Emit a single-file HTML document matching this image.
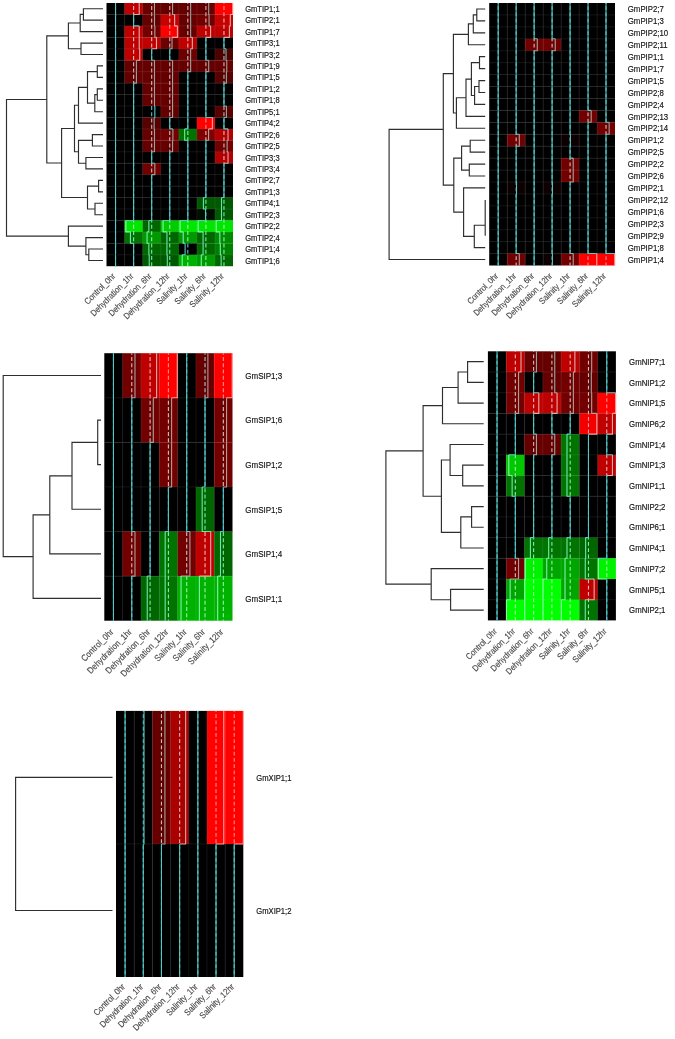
<!DOCTYPE html>
<html><head><meta charset="utf-8"><title>Aquaporin expression heatmaps</title>
<style>
html,body{margin:0;padding:0;background:#fff;}
body{width:675px;height:1039px;overflow:hidden;}
svg{display:block;}
.rl{font-family:"Liberation Sans",sans-serif;fill:#161616;stroke:#161616;stroke-width:0.18px;}
.cl{font-family:"Liberation Sans",sans-serif;fill:#454545;stroke:#454545;stroke-width:0.12px;text-anchor:end;}
</style></head>
<body>
<svg width="675" height="1039" viewBox="0 0 675 1039" style="filter:blur(0.3px)">
<rect width="675" height="1039" fill="#fff"/>
<rect x="106.5" y="3" width="18.37" height="11.74" fill="rgb(0,0,0)"/>
<rect x="124.57" y="3" width="18.37" height="11.74" fill="rgb(191,0,0)"/>
<rect x="142.64" y="3" width="18.37" height="11.74" fill="rgb(102,0,0)"/>
<rect x="160.71" y="3" width="18.37" height="11.74" fill="rgb(102,0,0)"/>
<rect x="178.79" y="3" width="18.37" height="11.74" fill="rgb(102,0,0)"/>
<rect x="196.86" y="3" width="18.37" height="11.74" fill="rgb(102,0,0)"/>
<rect x="214.93" y="3" width="18.07" height="11.74" fill="rgb(255,0,0)"/>
<rect x="106.5" y="14.44" width="18.37" height="11.74" fill="rgb(0,0,0)"/>
<rect x="124.57" y="14.44" width="18.37" height="11.74" fill="rgb(0,0,0)"/>
<rect x="142.64" y="14.44" width="18.37" height="11.74" fill="rgb(102,0,0)"/>
<rect x="160.71" y="14.44" width="18.37" height="11.74" fill="rgb(199,0,0)"/>
<rect x="178.79" y="14.44" width="18.37" height="11.74" fill="rgb(102,0,0)"/>
<rect x="196.86" y="14.44" width="18.37" height="11.74" fill="rgb(115,0,0)"/>
<rect x="214.93" y="14.44" width="18.07" height="11.74" fill="rgb(199,0,0)"/>
<rect x="106.5" y="25.89" width="18.37" height="11.74" fill="rgb(0,0,0)"/>
<rect x="124.57" y="25.89" width="18.37" height="11.74" fill="rgb(191,0,0)"/>
<rect x="142.64" y="25.89" width="18.37" height="11.74" fill="rgb(115,0,0)"/>
<rect x="160.71" y="25.89" width="18.37" height="11.74" fill="rgb(255,0,0)"/>
<rect x="178.79" y="25.89" width="18.37" height="11.74" fill="rgb(102,0,0)"/>
<rect x="196.86" y="25.89" width="18.37" height="11.74" fill="rgb(191,0,0)"/>
<rect x="214.93" y="25.89" width="18.07" height="11.74" fill="rgb(191,0,0)"/>
<rect x="106.5" y="37.33" width="18.37" height="11.74" fill="rgb(0,0,0)"/>
<rect x="124.57" y="37.33" width="18.37" height="11.74" fill="rgb(191,0,0)"/>
<rect x="142.64" y="37.33" width="18.37" height="11.74" fill="rgb(191,0,0)"/>
<rect x="160.71" y="37.33" width="18.37" height="11.74" fill="rgb(107,0,0)"/>
<rect x="178.79" y="37.33" width="18.37" height="11.74" fill="rgb(191,0,0)"/>
<rect x="196.86" y="37.33" width="18.37" height="11.74" fill="rgb(0,0,0)"/>
<rect x="214.93" y="37.33" width="18.07" height="11.74" fill="rgb(0,0,0)"/>
<rect x="106.5" y="48.77" width="18.37" height="11.74" fill="rgb(0,0,0)"/>
<rect x="124.57" y="48.77" width="18.37" height="11.74" fill="rgb(191,0,0)"/>
<rect x="142.64" y="48.77" width="18.37" height="11.74" fill="rgb(0,0,0)"/>
<rect x="160.71" y="48.77" width="18.37" height="11.74" fill="rgb(0,0,0)"/>
<rect x="178.79" y="48.77" width="18.37" height="11.74" fill="rgb(107,0,0)"/>
<rect x="196.86" y="48.77" width="18.37" height="11.74" fill="rgb(0,0,0)"/>
<rect x="214.93" y="48.77" width="18.07" height="11.74" fill="rgb(76,0,0)"/>
<rect x="106.5" y="60.22" width="18.37" height="11.74" fill="rgb(0,0,0)"/>
<rect x="124.57" y="60.22" width="18.37" height="11.74" fill="rgb(102,0,0)"/>
<rect x="142.64" y="60.22" width="18.37" height="11.74" fill="rgb(102,0,0)"/>
<rect x="160.71" y="60.22" width="18.37" height="11.74" fill="rgb(102,0,0)"/>
<rect x="178.79" y="60.22" width="18.37" height="11.74" fill="rgb(102,0,0)"/>
<rect x="196.86" y="60.22" width="18.37" height="11.74" fill="rgb(102,0,0)"/>
<rect x="214.93" y="60.22" width="18.07" height="11.74" fill="rgb(102,0,0)"/>
<rect x="106.5" y="71.66" width="18.37" height="11.74" fill="rgb(0,0,0)"/>
<rect x="124.57" y="71.66" width="18.37" height="11.74" fill="rgb(102,0,0)"/>
<rect x="142.64" y="71.66" width="18.37" height="11.74" fill="rgb(102,0,0)"/>
<rect x="160.71" y="71.66" width="18.37" height="11.74" fill="rgb(102,0,0)"/>
<rect x="178.79" y="71.66" width="18.37" height="11.74" fill="rgb(0,0,0)"/>
<rect x="196.86" y="71.66" width="18.37" height="11.74" fill="rgb(0,0,0)"/>
<rect x="214.93" y="71.66" width="18.07" height="11.74" fill="rgb(89,0,0)"/>
<rect x="106.5" y="83.1" width="18.37" height="11.74" fill="rgb(0,0,0)"/>
<rect x="124.57" y="83.1" width="18.37" height="11.74" fill="rgb(0,0,0)"/>
<rect x="142.64" y="83.1" width="18.37" height="11.74" fill="rgb(102,0,0)"/>
<rect x="160.71" y="83.1" width="18.37" height="11.74" fill="rgb(102,0,0)"/>
<rect x="178.79" y="83.1" width="18.37" height="11.74" fill="rgb(0,0,0)"/>
<rect x="196.86" y="83.1" width="18.37" height="11.74" fill="rgb(0,0,0)"/>
<rect x="214.93" y="83.1" width="18.07" height="11.74" fill="rgb(0,0,0)"/>
<rect x="106.5" y="94.55" width="18.37" height="11.74" fill="rgb(0,0,0)"/>
<rect x="124.57" y="94.55" width="18.37" height="11.74" fill="rgb(0,0,0)"/>
<rect x="142.64" y="94.55" width="18.37" height="11.74" fill="rgb(102,0,0)"/>
<rect x="160.71" y="94.55" width="18.37" height="11.74" fill="rgb(102,0,0)"/>
<rect x="178.79" y="94.55" width="18.37" height="11.74" fill="rgb(0,0,0)"/>
<rect x="196.86" y="94.55" width="18.37" height="11.74" fill="rgb(0,0,0)"/>
<rect x="214.93" y="94.55" width="18.07" height="11.74" fill="rgb(0,0,0)"/>
<rect x="106.5" y="105.99" width="18.37" height="11.74" fill="rgb(0,0,0)"/>
<rect x="124.57" y="105.99" width="18.37" height="11.74" fill="rgb(0,0,0)"/>
<rect x="142.64" y="105.99" width="18.37" height="11.74" fill="rgb(0,0,0)"/>
<rect x="160.71" y="105.99" width="18.37" height="11.74" fill="rgb(102,0,0)"/>
<rect x="178.79" y="105.99" width="18.37" height="11.74" fill="rgb(0,0,0)"/>
<rect x="196.86" y="105.99" width="18.37" height="11.74" fill="rgb(0,0,0)"/>
<rect x="214.93" y="105.99" width="18.07" height="11.74" fill="rgb(89,0,0)"/>
<rect x="106.5" y="117.43" width="18.37" height="11.74" fill="rgb(0,0,0)"/>
<rect x="124.57" y="117.43" width="18.37" height="11.74" fill="rgb(0,0,0)"/>
<rect x="142.64" y="117.43" width="18.37" height="11.74" fill="rgb(89,0,0)"/>
<rect x="160.71" y="117.43" width="18.37" height="11.74" fill="rgb(0,0,0)"/>
<rect x="178.79" y="117.43" width="18.37" height="11.74" fill="rgb(0,0,0)"/>
<rect x="196.86" y="117.43" width="18.37" height="11.74" fill="rgb(255,0,0)"/>
<rect x="214.93" y="117.43" width="18.07" height="11.74" fill="rgb(0,0,0)"/>
<rect x="106.5" y="128.88" width="18.37" height="11.74" fill="rgb(0,0,0)"/>
<rect x="124.57" y="128.88" width="18.37" height="11.74" fill="rgb(0,0,0)"/>
<rect x="142.64" y="128.88" width="18.37" height="11.74" fill="rgb(102,0,0)"/>
<rect x="160.71" y="128.88" width="18.37" height="11.74" fill="rgb(115,0,0)"/>
<rect x="178.79" y="128.88" width="18.37" height="11.74" fill="rgb(0,115,0)"/>
<rect x="196.86" y="128.88" width="18.37" height="11.74" fill="rgb(128,0,0)"/>
<rect x="214.93" y="128.88" width="18.07" height="11.74" fill="rgb(178,0,0)"/>
<rect x="106.5" y="140.32" width="18.37" height="11.74" fill="rgb(0,0,0)"/>
<rect x="124.57" y="140.32" width="18.37" height="11.74" fill="rgb(0,0,0)"/>
<rect x="142.64" y="140.32" width="18.37" height="11.74" fill="rgb(102,0,0)"/>
<rect x="160.71" y="140.32" width="18.37" height="11.74" fill="rgb(102,0,0)"/>
<rect x="178.79" y="140.32" width="18.37" height="11.74" fill="rgb(0,0,0)"/>
<rect x="196.86" y="140.32" width="18.37" height="11.74" fill="rgb(0,0,0)"/>
<rect x="214.93" y="140.32" width="18.07" height="11.74" fill="rgb(115,0,0)"/>
<rect x="106.5" y="151.77" width="18.37" height="11.74" fill="rgb(0,0,0)"/>
<rect x="124.57" y="151.77" width="18.37" height="11.74" fill="rgb(0,0,0)"/>
<rect x="142.64" y="151.77" width="18.37" height="11.74" fill="rgb(0,0,0)"/>
<rect x="160.71" y="151.77" width="18.37" height="11.74" fill="rgb(0,0,0)"/>
<rect x="178.79" y="151.77" width="18.37" height="11.74" fill="rgb(0,0,0)"/>
<rect x="196.86" y="151.77" width="18.37" height="11.74" fill="rgb(0,0,0)"/>
<rect x="214.93" y="151.77" width="18.07" height="11.74" fill="rgb(178,0,0)"/>
<rect x="106.5" y="163.21" width="18.37" height="11.74" fill="rgb(0,0,0)"/>
<rect x="124.57" y="163.21" width="18.37" height="11.74" fill="rgb(0,0,0)"/>
<rect x="142.64" y="163.21" width="18.37" height="11.74" fill="rgb(115,0,0)"/>
<rect x="160.71" y="163.21" width="18.37" height="11.74" fill="rgb(0,0,0)"/>
<rect x="178.79" y="163.21" width="18.37" height="11.74" fill="rgb(0,0,0)"/>
<rect x="196.86" y="163.21" width="18.37" height="11.74" fill="rgb(0,0,0)"/>
<rect x="214.93" y="163.21" width="18.07" height="11.74" fill="rgb(0,0,0)"/>
<rect x="106.5" y="174.65" width="18.37" height="11.74" fill="rgb(0,0,0)"/>
<rect x="124.57" y="174.65" width="18.37" height="11.74" fill="rgb(0,0,0)"/>
<rect x="142.64" y="174.65" width="18.37" height="11.74" fill="rgb(0,0,0)"/>
<rect x="160.71" y="174.65" width="18.37" height="11.74" fill="rgb(0,0,0)"/>
<rect x="178.79" y="174.65" width="18.37" height="11.74" fill="rgb(0,0,0)"/>
<rect x="196.86" y="174.65" width="18.37" height="11.74" fill="rgb(0,0,0)"/>
<rect x="214.93" y="174.65" width="18.07" height="11.74" fill="rgb(0,0,0)"/>
<rect x="106.5" y="186.1" width="18.37" height="11.74" fill="rgb(0,0,0)"/>
<rect x="124.57" y="186.1" width="18.37" height="11.74" fill="rgb(0,0,0)"/>
<rect x="142.64" y="186.1" width="18.37" height="11.74" fill="rgb(0,0,0)"/>
<rect x="160.71" y="186.1" width="18.37" height="11.74" fill="rgb(0,0,0)"/>
<rect x="178.79" y="186.1" width="18.37" height="11.74" fill="rgb(0,0,0)"/>
<rect x="196.86" y="186.1" width="18.37" height="11.74" fill="rgb(0,0,0)"/>
<rect x="214.93" y="186.1" width="18.07" height="11.74" fill="rgb(0,0,0)"/>
<rect x="106.5" y="197.54" width="18.37" height="11.74" fill="rgb(0,0,0)"/>
<rect x="124.57" y="197.54" width="18.37" height="11.74" fill="rgb(0,0,0)"/>
<rect x="142.64" y="197.54" width="18.37" height="11.74" fill="rgb(0,0,0)"/>
<rect x="160.71" y="197.54" width="18.37" height="11.74" fill="rgb(0,0,0)"/>
<rect x="178.79" y="197.54" width="18.37" height="11.74" fill="rgb(0,0,0)"/>
<rect x="196.86" y="197.54" width="18.37" height="11.74" fill="rgb(0,89,0)"/>
<rect x="214.93" y="197.54" width="18.07" height="11.74" fill="rgb(0,89,0)"/>
<rect x="106.5" y="208.98" width="18.37" height="11.74" fill="rgb(0,0,0)"/>
<rect x="124.57" y="208.98" width="18.37" height="11.74" fill="rgb(0,0,0)"/>
<rect x="142.64" y="208.98" width="18.37" height="11.74" fill="rgb(0,0,0)"/>
<rect x="160.71" y="208.98" width="18.37" height="11.74" fill="rgb(0,0,0)"/>
<rect x="178.79" y="208.98" width="18.37" height="11.74" fill="rgb(0,0,0)"/>
<rect x="196.86" y="208.98" width="18.37" height="11.74" fill="rgb(0,13,0)"/>
<rect x="214.93" y="208.98" width="18.07" height="11.74" fill="rgb(0,89,0)"/>
<rect x="106.5" y="220.43" width="18.37" height="11.74" fill="rgb(0,0,0)"/>
<rect x="124.57" y="220.43" width="18.37" height="11.74" fill="rgb(0,230,0)"/>
<rect x="142.64" y="220.43" width="18.37" height="11.74" fill="rgb(0,102,0)"/>
<rect x="160.71" y="220.43" width="18.37" height="11.74" fill="rgb(0,204,0)"/>
<rect x="178.79" y="220.43" width="18.37" height="11.74" fill="rgb(0,230,0)"/>
<rect x="196.86" y="220.43" width="18.37" height="11.74" fill="rgb(0,230,0)"/>
<rect x="214.93" y="220.43" width="18.07" height="11.74" fill="rgb(0,230,0)"/>
<rect x="106.5" y="231.87" width="18.37" height="11.74" fill="rgb(0,0,0)"/>
<rect x="124.57" y="231.87" width="18.37" height="11.74" fill="rgb(0,115,0)"/>
<rect x="142.64" y="231.87" width="18.37" height="11.74" fill="rgb(0,153,0)"/>
<rect x="160.71" y="231.87" width="18.37" height="11.74" fill="rgb(0,102,0)"/>
<rect x="178.79" y="231.87" width="18.37" height="11.74" fill="rgb(0,153,0)"/>
<rect x="196.86" y="231.87" width="18.37" height="11.74" fill="rgb(0,102,0)"/>
<rect x="214.93" y="231.87" width="18.07" height="11.74" fill="rgb(0,140,0)"/>
<rect x="106.5" y="243.31" width="18.37" height="11.74" fill="rgb(0,0,0)"/>
<rect x="124.57" y="243.31" width="18.37" height="11.74" fill="rgb(0,0,0)"/>
<rect x="142.64" y="243.31" width="18.37" height="11.74" fill="rgb(0,102,0)"/>
<rect x="160.71" y="243.31" width="18.37" height="11.74" fill="rgb(0,102,0)"/>
<rect x="178.79" y="243.31" width="18.37" height="11.74" fill="rgb(0,0,0)"/>
<rect x="196.86" y="243.31" width="18.37" height="11.74" fill="rgb(0,102,0)"/>
<rect x="214.93" y="243.31" width="18.07" height="11.74" fill="rgb(0,128,0)"/>
<rect x="106.5" y="254.76" width="18.37" height="11.44" fill="rgb(0,0,0)"/>
<rect x="124.57" y="254.76" width="18.37" height="11.44" fill="rgb(0,0,0)"/>
<rect x="142.64" y="254.76" width="18.37" height="11.44" fill="rgb(0,89,0)"/>
<rect x="160.71" y="254.76" width="18.37" height="11.44" fill="rgb(0,89,0)"/>
<rect x="178.79" y="254.76" width="18.37" height="11.44" fill="rgb(0,178,0)"/>
<rect x="196.86" y="254.76" width="18.37" height="11.44" fill="rgb(0,153,0)"/>
<rect x="214.93" y="254.76" width="18.07" height="11.44" fill="rgb(0,102,0)"/>
<path d="M124.57 3V266.2M142.64 3V266.2M160.71 3V266.2M178.79 3V266.2M196.86 3V266.2M214.93 3V266.2M106.5 14.44H233M106.5 25.89H233M106.5 37.33H233M106.5 48.77H233M106.5 60.22H233M106.5 71.66H233M106.5 83.1H233M106.5 94.55H233M106.5 105.99H233M106.5 117.43H233M106.5 128.88H233M106.5 140.32H233M106.5 151.77H233M106.5 163.21H233M106.5 174.65H233M106.5 186.1H233M106.5 197.54H233M106.5 208.98H233M106.5 220.43H233M106.5 231.87H233M106.5 243.31H233M106.5 254.76H233" stroke="rgba(255,255,255,0.1)" stroke-width="0.8" fill="none"/>
<line x1="115.54" y1="3" x2="115.54" y2="14.44" stroke="rgb(80,195,195)" stroke-width="1.1" stroke-dasharray="3.8 2.45" stroke-dashoffset="3.15"/>
<line x1="115.54" y1="14.44" x2="115.54" y2="25.89" stroke="rgb(80,195,195)" stroke-width="1.1" stroke-dasharray="3.8 2.45" stroke-dashoffset="2.09"/>
<line x1="115.54" y1="25.89" x2="115.54" y2="37.33" stroke="rgb(80,195,195)" stroke-width="1.1" stroke-dasharray="3.8 2.45" stroke-dashoffset="1.04"/>
<line x1="115.54" y1="37.33" x2="115.54" y2="48.77" stroke="rgb(80,195,195)" stroke-width="1.1" stroke-dasharray="3.8 2.45" stroke-dashoffset="6.23"/>
<line x1="115.54" y1="48.77" x2="115.54" y2="60.22" stroke="rgb(80,195,195)" stroke-width="1.1" stroke-dasharray="3.8 2.45" stroke-dashoffset="5.17"/>
<line x1="115.54" y1="60.22" x2="115.54" y2="71.66" stroke="rgb(80,195,195)" stroke-width="1.1" stroke-dasharray="3.8 2.45" stroke-dashoffset="4.12"/>
<line x1="115.54" y1="71.66" x2="115.54" y2="83.1" stroke="rgb(80,195,195)" stroke-width="1.1" stroke-dasharray="3.8 2.45" stroke-dashoffset="3.06"/>
<line x1="115.54" y1="83.1" x2="115.54" y2="94.55" stroke="rgb(80,195,195)" stroke-width="1.1" stroke-dasharray="3.8 2.45" stroke-dashoffset="2"/>
<line x1="115.54" y1="94.55" x2="115.54" y2="105.99" stroke="rgb(80,195,195)" stroke-width="1.1" stroke-dasharray="3.8 2.45" stroke-dashoffset="0.95"/>
<line x1="115.54" y1="105.99" x2="115.54" y2="117.43" stroke="rgb(80,195,195)" stroke-width="1.1" stroke-dasharray="3.8 2.45" stroke-dashoffset="6.14"/>
<line x1="115.54" y1="117.43" x2="115.54" y2="128.88" stroke="rgb(80,195,195)" stroke-width="1.1" stroke-dasharray="3.8 2.45" stroke-dashoffset="5.08"/>
<line x1="115.54" y1="128.88" x2="115.54" y2="140.32" stroke="rgb(80,195,195)" stroke-width="1.1" stroke-dasharray="3.8 2.45" stroke-dashoffset="4.03"/>
<line x1="115.54" y1="140.32" x2="115.54" y2="151.77" stroke="rgb(80,195,195)" stroke-width="1.1" stroke-dasharray="3.8 2.45" stroke-dashoffset="2.97"/>
<line x1="115.54" y1="151.77" x2="115.54" y2="163.21" stroke="rgb(80,195,195)" stroke-width="1.1" stroke-dasharray="3.8 2.45" stroke-dashoffset="1.92"/>
<line x1="115.54" y1="163.21" x2="115.54" y2="174.65" stroke="rgb(80,195,195)" stroke-width="1.1" stroke-dasharray="3.8 2.45" stroke-dashoffset="0.86"/>
<line x1="115.54" y1="174.65" x2="115.54" y2="186.1" stroke="rgb(80,195,195)" stroke-width="1.1" stroke-dasharray="3.8 2.45" stroke-dashoffset="6.05"/>
<line x1="115.54" y1="186.1" x2="115.54" y2="197.54" stroke="rgb(80,195,195)" stroke-width="1.1" stroke-dasharray="3.8 2.45" stroke-dashoffset="5"/>
<line x1="115.54" y1="197.54" x2="115.54" y2="208.98" stroke="rgb(80,195,195)" stroke-width="1.1" stroke-dasharray="3.8 2.45" stroke-dashoffset="3.94"/>
<line x1="115.54" y1="208.98" x2="115.54" y2="220.43" stroke="rgb(80,195,195)" stroke-width="1.1" stroke-dasharray="3.8 2.45" stroke-dashoffset="2.88"/>
<line x1="115.54" y1="220.43" x2="115.54" y2="231.87" stroke="rgb(80,195,195)" stroke-width="1.1" stroke-dasharray="3.8 2.45" stroke-dashoffset="1.83"/>
<line x1="115.54" y1="231.87" x2="115.54" y2="243.31" stroke="rgb(80,195,195)" stroke-width="1.1" stroke-dasharray="3.8 2.45" stroke-dashoffset="0.77"/>
<line x1="115.54" y1="243.31" x2="115.54" y2="254.76" stroke="rgb(80,195,195)" stroke-width="1.1" stroke-dasharray="3.8 2.45" stroke-dashoffset="5.96"/>
<line x1="115.54" y1="254.76" x2="115.54" y2="266.2" stroke="rgb(80,195,195)" stroke-width="1.1" stroke-dasharray="3.8 2.45" stroke-dashoffset="4.91"/>
<path d="M115.54 3V14.44H115.54" stroke="rgb(85,200,200)" stroke-width="1.1" fill="none"/>
<path d="M115.54 14.44V25.89H115.54" stroke="rgb(85,200,200)" stroke-width="1.1" fill="none"/>
<path d="M115.54 25.89V37.33H115.54" stroke="rgb(85,200,200)" stroke-width="1.1" fill="none"/>
<path d="M115.54 37.33V48.77H115.54" stroke="rgb(85,200,200)" stroke-width="1.1" fill="none"/>
<path d="M115.54 48.77V60.22H115.54" stroke="rgb(85,200,200)" stroke-width="1.1" fill="none"/>
<path d="M115.54 60.22V71.66H115.54" stroke="rgb(85,200,200)" stroke-width="1.1" fill="none"/>
<path d="M115.54 71.66V83.1H115.54" stroke="rgb(85,200,200)" stroke-width="1.1" fill="none"/>
<path d="M115.54 83.1V94.55H115.54" stroke="rgb(85,200,200)" stroke-width="1.1" fill="none"/>
<path d="M115.54 94.55V105.99H115.54" stroke="rgb(85,200,200)" stroke-width="1.1" fill="none"/>
<path d="M115.54 105.99V117.43H115.54" stroke="rgb(85,200,200)" stroke-width="1.1" fill="none"/>
<path d="M115.54 117.43V128.88H115.54" stroke="rgb(85,200,200)" stroke-width="1.1" fill="none"/>
<path d="M115.54 128.88V140.32H115.54" stroke="rgb(85,200,200)" stroke-width="1.1" fill="none"/>
<path d="M115.54 140.32V151.77H115.54" stroke="rgb(85,200,200)" stroke-width="1.1" fill="none"/>
<path d="M115.54 151.77V163.21H115.54" stroke="rgb(85,200,200)" stroke-width="1.1" fill="none"/>
<path d="M115.54 163.21V174.65H115.54" stroke="rgb(85,200,200)" stroke-width="1.1" fill="none"/>
<path d="M115.54 174.65V186.1H115.54" stroke="rgb(85,200,200)" stroke-width="1.1" fill="none"/>
<path d="M115.54 186.1V197.54H115.54" stroke="rgb(85,200,200)" stroke-width="1.1" fill="none"/>
<path d="M115.54 197.54V208.98H115.54" stroke="rgb(85,200,200)" stroke-width="1.1" fill="none"/>
<path d="M115.54 208.98V220.43H115.54" stroke="rgb(85,200,200)" stroke-width="1.1" fill="none"/>
<path d="M115.54 220.43V231.87H115.54" stroke="rgb(85,200,200)" stroke-width="1.1" fill="none"/>
<path d="M115.54 231.87V243.31H115.54" stroke="rgb(85,200,200)" stroke-width="1.1" fill="none"/>
<path d="M115.54 243.31V254.76H115.54" stroke="rgb(85,200,200)" stroke-width="1.1" fill="none"/>
<path d="M115.54 254.76V266.2" stroke="rgb(85,200,200)" stroke-width="1.1" fill="none"/>
<line x1="133.61" y1="3" x2="133.61" y2="14.44" stroke="rgb(238,182,182)" stroke-width="1.1" stroke-dasharray="3.8 2.45" stroke-dashoffset="3.15"/>
<line x1="133.61" y1="14.44" x2="133.61" y2="25.89" stroke="rgb(80,195,195)" stroke-width="1.1" stroke-dasharray="3.8 2.45" stroke-dashoffset="2.09"/>
<line x1="133.61" y1="25.89" x2="133.61" y2="37.33" stroke="rgb(238,182,182)" stroke-width="1.1" stroke-dasharray="3.8 2.45" stroke-dashoffset="1.04"/>
<line x1="133.61" y1="37.33" x2="133.61" y2="48.77" stroke="rgb(238,182,182)" stroke-width="1.1" stroke-dasharray="3.8 2.45" stroke-dashoffset="6.23"/>
<line x1="133.61" y1="48.77" x2="133.61" y2="60.22" stroke="rgb(238,182,182)" stroke-width="1.1" stroke-dasharray="3.8 2.45" stroke-dashoffset="5.17"/>
<line x1="133.61" y1="60.22" x2="133.61" y2="71.66" stroke="rgb(185,193,188)" stroke-width="1.1" stroke-dasharray="3.8 2.45" stroke-dashoffset="4.12"/>
<line x1="133.61" y1="71.66" x2="133.61" y2="83.1" stroke="rgb(185,193,188)" stroke-width="1.1" stroke-dasharray="3.8 2.45" stroke-dashoffset="3.06"/>
<line x1="133.61" y1="83.1" x2="133.61" y2="94.55" stroke="rgb(80,195,195)" stroke-width="1.1" stroke-dasharray="3.8 2.45" stroke-dashoffset="2"/>
<line x1="133.61" y1="94.55" x2="133.61" y2="105.99" stroke="rgb(80,195,195)" stroke-width="1.1" stroke-dasharray="3.8 2.45" stroke-dashoffset="0.95"/>
<line x1="133.61" y1="105.99" x2="133.61" y2="117.43" stroke="rgb(80,195,195)" stroke-width="1.1" stroke-dasharray="3.8 2.45" stroke-dashoffset="6.14"/>
<line x1="133.61" y1="117.43" x2="133.61" y2="128.88" stroke="rgb(80,195,195)" stroke-width="1.1" stroke-dasharray="3.8 2.45" stroke-dashoffset="5.08"/>
<line x1="133.61" y1="128.88" x2="133.61" y2="140.32" stroke="rgb(80,195,195)" stroke-width="1.1" stroke-dasharray="3.8 2.45" stroke-dashoffset="4.03"/>
<line x1="133.61" y1="140.32" x2="133.61" y2="151.77" stroke="rgb(80,195,195)" stroke-width="1.1" stroke-dasharray="3.8 2.45" stroke-dashoffset="2.97"/>
<line x1="133.61" y1="151.77" x2="133.61" y2="163.21" stroke="rgb(80,195,195)" stroke-width="1.1" stroke-dasharray="3.8 2.45" stroke-dashoffset="1.92"/>
<line x1="133.61" y1="163.21" x2="133.61" y2="174.65" stroke="rgb(80,195,195)" stroke-width="1.1" stroke-dasharray="3.8 2.45" stroke-dashoffset="0.86"/>
<line x1="133.61" y1="174.65" x2="133.61" y2="186.1" stroke="rgb(80,195,195)" stroke-width="1.1" stroke-dasharray="3.8 2.45" stroke-dashoffset="6.05"/>
<line x1="133.61" y1="186.1" x2="133.61" y2="197.54" stroke="rgb(80,195,195)" stroke-width="1.1" stroke-dasharray="3.8 2.45" stroke-dashoffset="5"/>
<line x1="133.61" y1="197.54" x2="133.61" y2="208.98" stroke="rgb(80,195,195)" stroke-width="1.1" stroke-dasharray="3.8 2.45" stroke-dashoffset="3.94"/>
<line x1="133.61" y1="208.98" x2="133.61" y2="220.43" stroke="rgb(80,195,195)" stroke-width="1.1" stroke-dasharray="3.8 2.45" stroke-dashoffset="2.88"/>
<line x1="133.61" y1="220.43" x2="133.61" y2="231.87" stroke="rgb(155,252,160)" stroke-width="1.1" stroke-dasharray="3.8 2.45" stroke-dashoffset="1.83"/>
<line x1="133.61" y1="231.87" x2="133.61" y2="243.31" stroke="rgb(130,240,160)" stroke-width="1.1" stroke-dasharray="3.8 2.45" stroke-dashoffset="0.77"/>
<line x1="133.61" y1="243.31" x2="133.61" y2="254.76" stroke="rgb(80,195,195)" stroke-width="1.1" stroke-dasharray="3.8 2.45" stroke-dashoffset="5.96"/>
<line x1="133.61" y1="254.76" x2="133.61" y2="266.2" stroke="rgb(80,195,195)" stroke-width="1.1" stroke-dasharray="3.8 2.45" stroke-dashoffset="4.91"/>
<path d="M139.21 3V14.44H133.61" stroke="rgb(225,172,170)" stroke-width="1.1" fill="none"/>
<path d="M133.61 14.44V25.89H139.21" stroke="rgb(85,200,200)" stroke-width="1.1" fill="none"/>
<path d="M139.21 25.89V37.33H139.21" stroke="rgb(225,172,170)" stroke-width="1.1" fill="none"/>
<path d="M139.21 37.33V48.77H139.74" stroke="rgb(225,172,170)" stroke-width="1.1" fill="none"/>
<path d="M139.74 48.77V60.22H136.42" stroke="rgb(225,172,170)" stroke-width="1.1" fill="none"/>
<path d="M136.42 60.22V71.66H136.42" stroke="rgb(156,162,158)" stroke-width="1.1" fill="none"/>
<path d="M136.42 71.66V83.1H133.61" stroke="rgb(156,162,158)" stroke-width="1.1" fill="none"/>
<path d="M133.61 83.1V94.55H133.61" stroke="rgb(85,200,200)" stroke-width="1.1" fill="none"/>
<path d="M133.61 94.55V105.99H133.61" stroke="rgb(85,200,200)" stroke-width="1.1" fill="none"/>
<path d="M133.61 105.99V117.43H133.61" stroke="rgb(85,200,200)" stroke-width="1.1" fill="none"/>
<path d="M133.61 117.43V128.88H133.61" stroke="rgb(85,200,200)" stroke-width="1.1" fill="none"/>
<path d="M133.61 128.88V140.32H133.61" stroke="rgb(85,200,200)" stroke-width="1.1" fill="none"/>
<path d="M133.61 140.32V151.77H133.61" stroke="rgb(85,200,200)" stroke-width="1.1" fill="none"/>
<path d="M133.61 151.77V163.21H133.61" stroke="rgb(85,200,200)" stroke-width="1.1" fill="none"/>
<path d="M133.61 163.21V174.65H133.61" stroke="rgb(85,200,200)" stroke-width="1.1" fill="none"/>
<path d="M133.61 174.65V186.1H133.61" stroke="rgb(85,200,200)" stroke-width="1.1" fill="none"/>
<path d="M133.61 186.1V197.54H133.61" stroke="rgb(85,200,200)" stroke-width="1.1" fill="none"/>
<path d="M133.61 197.54V208.98H133.61" stroke="rgb(85,200,200)" stroke-width="1.1" fill="none"/>
<path d="M133.61 208.98V220.43H125.9" stroke="rgb(85,200,200)" stroke-width="1.1" fill="none"/>
<path d="M125.9 220.43V231.87H130.44" stroke="rgb(135,251,170)" stroke-width="1.1" fill="none"/>
<path d="M130.44 231.87V243.31H133.61" stroke="rgb(110,235,170)" stroke-width="1.1" fill="none"/>
<path d="M133.61 243.31V254.76H133.61" stroke="rgb(85,200,200)" stroke-width="1.1" fill="none"/>
<path d="M133.61 254.76V266.2" stroke="rgb(85,200,200)" stroke-width="1.1" fill="none"/>
<line x1="151.68" y1="3" x2="151.68" y2="14.44" stroke="rgb(185,193,188)" stroke-width="1.1" stroke-dasharray="3.8 2.45" stroke-dashoffset="3.15"/>
<line x1="151.68" y1="14.44" x2="151.68" y2="25.89" stroke="rgb(185,193,188)" stroke-width="1.1" stroke-dasharray="3.8 2.45" stroke-dashoffset="2.09"/>
<line x1="151.68" y1="25.89" x2="151.68" y2="37.33" stroke="rgb(200,196,190)" stroke-width="1.1" stroke-dasharray="3.8 2.45" stroke-dashoffset="1.04"/>
<line x1="151.68" y1="37.33" x2="151.68" y2="48.77" stroke="rgb(238,182,182)" stroke-width="1.1" stroke-dasharray="3.8 2.45" stroke-dashoffset="6.23"/>
<line x1="151.68" y1="48.77" x2="151.68" y2="60.22" stroke="rgb(80,195,195)" stroke-width="1.1" stroke-dasharray="3.8 2.45" stroke-dashoffset="5.17"/>
<line x1="151.68" y1="60.22" x2="151.68" y2="71.66" stroke="rgb(185,193,188)" stroke-width="1.1" stroke-dasharray="3.8 2.45" stroke-dashoffset="4.12"/>
<line x1="151.68" y1="71.66" x2="151.68" y2="83.1" stroke="rgb(185,193,188)" stroke-width="1.1" stroke-dasharray="3.8 2.45" stroke-dashoffset="3.06"/>
<line x1="151.68" y1="83.1" x2="151.68" y2="94.55" stroke="rgb(185,193,188)" stroke-width="1.1" stroke-dasharray="3.8 2.45" stroke-dashoffset="2"/>
<line x1="151.68" y1="94.55" x2="151.68" y2="105.99" stroke="rgb(185,193,188)" stroke-width="1.1" stroke-dasharray="3.8 2.45" stroke-dashoffset="0.95"/>
<line x1="151.68" y1="105.99" x2="151.68" y2="117.43" stroke="rgb(80,195,195)" stroke-width="1.1" stroke-dasharray="3.8 2.45" stroke-dashoffset="6.14"/>
<line x1="151.68" y1="117.43" x2="151.68" y2="128.88" stroke="rgb(170,191,186)" stroke-width="1.1" stroke-dasharray="3.8 2.45" stroke-dashoffset="5.08"/>
<line x1="151.68" y1="128.88" x2="151.68" y2="140.32" stroke="rgb(185,193,188)" stroke-width="1.1" stroke-dasharray="3.8 2.45" stroke-dashoffset="4.03"/>
<line x1="151.68" y1="140.32" x2="151.68" y2="151.77" stroke="rgb(185,193,188)" stroke-width="1.1" stroke-dasharray="3.8 2.45" stroke-dashoffset="2.97"/>
<line x1="151.68" y1="151.77" x2="151.68" y2="163.21" stroke="rgb(80,195,195)" stroke-width="1.1" stroke-dasharray="3.8 2.45" stroke-dashoffset="1.92"/>
<line x1="151.68" y1="163.21" x2="151.68" y2="174.65" stroke="rgb(200,196,190)" stroke-width="1.1" stroke-dasharray="3.8 2.45" stroke-dashoffset="0.86"/>
<line x1="151.68" y1="174.65" x2="151.68" y2="186.1" stroke="rgb(80,195,195)" stroke-width="1.1" stroke-dasharray="3.8 2.45" stroke-dashoffset="6.05"/>
<line x1="151.68" y1="186.1" x2="151.68" y2="197.54" stroke="rgb(80,195,195)" stroke-width="1.1" stroke-dasharray="3.8 2.45" stroke-dashoffset="5"/>
<line x1="151.68" y1="197.54" x2="151.68" y2="208.98" stroke="rgb(80,195,195)" stroke-width="1.1" stroke-dasharray="3.8 2.45" stroke-dashoffset="3.94"/>
<line x1="151.68" y1="208.98" x2="151.68" y2="220.43" stroke="rgb(80,195,195)" stroke-width="1.1" stroke-dasharray="3.8 2.45" stroke-dashoffset="2.88"/>
<line x1="151.68" y1="220.43" x2="151.68" y2="231.87" stroke="rgb(124,234,163)" stroke-width="1.1" stroke-dasharray="3.8 2.45" stroke-dashoffset="1.83"/>
<line x1="151.68" y1="231.87" x2="151.68" y2="243.31" stroke="rgb(138,244,160)" stroke-width="1.1" stroke-dasharray="3.8 2.45" stroke-dashoffset="0.77"/>
<line x1="151.68" y1="243.31" x2="151.68" y2="254.76" stroke="rgb(124,234,163)" stroke-width="1.1" stroke-dasharray="3.8 2.45" stroke-dashoffset="5.96"/>
<line x1="151.68" y1="254.76" x2="151.68" y2="266.2" stroke="rgb(118,228,167)" stroke-width="1.1" stroke-dasharray="3.8 2.45" stroke-dashoffset="4.91"/>
<path d="M154.49 3V14.44H154.49" stroke="rgb(156,162,158)" stroke-width="1.1" fill="none"/>
<path d="M154.49 14.44V25.89H154.84" stroke="rgb(156,162,158)" stroke-width="1.1" fill="none"/>
<path d="M154.84 25.89V37.33H156.47" stroke="rgb(168,160,155)" stroke-width="1.1" fill="none"/>
<path d="M156.47 37.33V48.77H151.68" stroke="rgb(225,172,170)" stroke-width="1.1" fill="none"/>
<path d="M151.68 48.77V60.22H154.49" stroke="rgb(85,200,200)" stroke-width="1.1" fill="none"/>
<path d="M154.49 60.22V71.66H154.49" stroke="rgb(156,162,158)" stroke-width="1.1" fill="none"/>
<path d="M154.49 71.66V83.1H154.49" stroke="rgb(156,162,158)" stroke-width="1.1" fill="none"/>
<path d="M154.49 83.1V94.55H154.49" stroke="rgb(156,162,158)" stroke-width="1.1" fill="none"/>
<path d="M154.49 94.55V105.99H154.84" stroke="rgb(156,162,158)" stroke-width="1.1" fill="none"/>
<path d="M154.84 105.99V117.43H154.14" stroke="rgb(85,200,200)" stroke-width="1.1" fill="none"/>
<path d="M154.14 117.43V128.88H154.49" stroke="rgb(144,165,161)" stroke-width="1.1" fill="none"/>
<path d="M154.49 128.88V140.32H154.49" stroke="rgb(156,162,158)" stroke-width="1.1" fill="none"/>
<path d="M154.49 140.32V151.77H151.68" stroke="rgb(156,162,158)" stroke-width="1.1" fill="none"/>
<path d="M151.68 151.77V163.21H154.84" stroke="rgb(85,200,200)" stroke-width="1.1" fill="none"/>
<path d="M154.84 163.21V174.65H151.68" stroke="rgb(168,160,155)" stroke-width="1.1" fill="none"/>
<path d="M151.68 174.65V186.1H151.68" stroke="rgb(85,200,200)" stroke-width="1.1" fill="none"/>
<path d="M151.68 186.1V197.54H151.68" stroke="rgb(85,200,200)" stroke-width="1.1" fill="none"/>
<path d="M151.68 197.54V208.98H151.68" stroke="rgb(85,200,200)" stroke-width="1.1" fill="none"/>
<path d="M151.68 208.98V220.43H148.87" stroke="rgb(85,200,200)" stroke-width="1.1" fill="none"/>
<path d="M148.87 220.43V231.87H147.05" stroke="rgb(107,230,172)" stroke-width="1.1" fill="none"/>
<path d="M147.05 231.87V243.31H148.87" stroke="rgb(118,240,170)" stroke-width="1.1" fill="none"/>
<path d="M148.87 243.31V254.76H149.22" stroke="rgb(107,230,172)" stroke-width="1.1" fill="none"/>
<path d="M149.22 254.76V266.2" stroke="rgb(103,225,173)" stroke-width="1.1" fill="none"/>
<line x1="169.75" y1="3" x2="169.75" y2="14.44" stroke="rgb(185,193,188)" stroke-width="1.1" stroke-dasharray="3.8 2.45" stroke-dashoffset="3.15"/>
<line x1="169.75" y1="14.44" x2="169.75" y2="25.89" stroke="rgb(240,177,177)" stroke-width="1.1" stroke-dasharray="3.8 2.45" stroke-dashoffset="2.09"/>
<line x1="169.75" y1="25.89" x2="169.75" y2="37.33" stroke="rgb(255,140,140)" stroke-width="1.1" stroke-dasharray="3.8 2.45" stroke-dashoffset="1.04"/>
<line x1="169.75" y1="37.33" x2="169.75" y2="48.77" stroke="rgb(191,194,189)" stroke-width="1.1" stroke-dasharray="3.8 2.45" stroke-dashoffset="6.23"/>
<line x1="169.75" y1="48.77" x2="169.75" y2="60.22" stroke="rgb(80,195,195)" stroke-width="1.1" stroke-dasharray="3.8 2.45" stroke-dashoffset="5.17"/>
<line x1="169.75" y1="60.22" x2="169.75" y2="71.66" stroke="rgb(185,193,188)" stroke-width="1.1" stroke-dasharray="3.8 2.45" stroke-dashoffset="4.12"/>
<line x1="169.75" y1="71.66" x2="169.75" y2="83.1" stroke="rgb(185,193,188)" stroke-width="1.1" stroke-dasharray="3.8 2.45" stroke-dashoffset="3.06"/>
<line x1="169.75" y1="83.1" x2="169.75" y2="94.55" stroke="rgb(185,193,188)" stroke-width="1.1" stroke-dasharray="3.8 2.45" stroke-dashoffset="2"/>
<line x1="169.75" y1="94.55" x2="169.75" y2="105.99" stroke="rgb(185,193,188)" stroke-width="1.1" stroke-dasharray="3.8 2.45" stroke-dashoffset="0.95"/>
<line x1="169.75" y1="105.99" x2="169.75" y2="117.43" stroke="rgb(185,193,188)" stroke-width="1.1" stroke-dasharray="3.8 2.45" stroke-dashoffset="6.14"/>
<line x1="169.75" y1="117.43" x2="169.75" y2="128.88" stroke="rgb(80,195,195)" stroke-width="1.1" stroke-dasharray="3.8 2.45" stroke-dashoffset="5.08"/>
<line x1="169.75" y1="128.88" x2="169.75" y2="140.32" stroke="rgb(200,196,190)" stroke-width="1.1" stroke-dasharray="3.8 2.45" stroke-dashoffset="4.03"/>
<line x1="169.75" y1="140.32" x2="169.75" y2="151.77" stroke="rgb(185,193,188)" stroke-width="1.1" stroke-dasharray="3.8 2.45" stroke-dashoffset="2.97"/>
<line x1="169.75" y1="151.77" x2="169.75" y2="163.21" stroke="rgb(80,195,195)" stroke-width="1.1" stroke-dasharray="3.8 2.45" stroke-dashoffset="1.92"/>
<line x1="169.75" y1="163.21" x2="169.75" y2="174.65" stroke="rgb(80,195,195)" stroke-width="1.1" stroke-dasharray="3.8 2.45" stroke-dashoffset="0.86"/>
<line x1="169.75" y1="174.65" x2="169.75" y2="186.1" stroke="rgb(80,195,195)" stroke-width="1.1" stroke-dasharray="3.8 2.45" stroke-dashoffset="6.05"/>
<line x1="169.75" y1="186.1" x2="169.75" y2="197.54" stroke="rgb(80,195,195)" stroke-width="1.1" stroke-dasharray="3.8 2.45" stroke-dashoffset="5"/>
<line x1="169.75" y1="197.54" x2="169.75" y2="208.98" stroke="rgb(80,195,195)" stroke-width="1.1" stroke-dasharray="3.8 2.45" stroke-dashoffset="3.94"/>
<line x1="169.75" y1="208.98" x2="169.75" y2="220.43" stroke="rgb(80,195,195)" stroke-width="1.1" stroke-dasharray="3.8 2.45" stroke-dashoffset="2.88"/>
<line x1="169.75" y1="220.43" x2="169.75" y2="231.87" stroke="rgb(149,250,160)" stroke-width="1.1" stroke-dasharray="3.8 2.45" stroke-dashoffset="1.83"/>
<line x1="169.75" y1="231.87" x2="169.75" y2="243.31" stroke="rgb(124,234,163)" stroke-width="1.1" stroke-dasharray="3.8 2.45" stroke-dashoffset="0.77"/>
<line x1="169.75" y1="243.31" x2="169.75" y2="254.76" stroke="rgb(124,234,163)" stroke-width="1.1" stroke-dasharray="3.8 2.45" stroke-dashoffset="5.96"/>
<line x1="169.75" y1="254.76" x2="169.75" y2="266.2" stroke="rgb(118,228,167)" stroke-width="1.1" stroke-dasharray="3.8 2.45" stroke-dashoffset="4.91"/>
<path d="M172.56 3V14.44H174.63" stroke="rgb(156,162,158)" stroke-width="1.1" fill="none"/>
<path d="M174.63 14.44V25.89H177.43" stroke="rgb(229,171,169)" stroke-width="1.1" fill="none"/>
<path d="M177.43 25.89V37.33H172.01" stroke="rgb(255,160,160)" stroke-width="1.1" fill="none"/>
<path d="M172.01 37.33V48.77H169.75" stroke="rgb(161,162,157)" stroke-width="1.1" fill="none"/>
<path d="M169.75 48.77V60.22H172.56" stroke="rgb(85,200,200)" stroke-width="1.1" fill="none"/>
<path d="M172.56 60.22V71.66H172.56" stroke="rgb(156,162,158)" stroke-width="1.1" fill="none"/>
<path d="M172.56 71.66V83.1H172.56" stroke="rgb(156,162,158)" stroke-width="1.1" fill="none"/>
<path d="M172.56 83.1V94.55H172.56" stroke="rgb(156,162,158)" stroke-width="1.1" fill="none"/>
<path d="M172.56 94.55V105.99H172.56" stroke="rgb(156,162,158)" stroke-width="1.1" fill="none"/>
<path d="M172.56 105.99V117.43H169.75" stroke="rgb(156,162,158)" stroke-width="1.1" fill="none"/>
<path d="M169.75 117.43V128.88H172.91" stroke="rgb(85,200,200)" stroke-width="1.1" fill="none"/>
<path d="M172.91 128.88V140.32H172.56" stroke="rgb(168,160,155)" stroke-width="1.1" fill="none"/>
<path d="M172.56 140.32V151.77H169.75" stroke="rgb(156,162,158)" stroke-width="1.1" fill="none"/>
<path d="M169.75 151.77V163.21H169.75" stroke="rgb(85,200,200)" stroke-width="1.1" fill="none"/>
<path d="M169.75 163.21V174.65H169.75" stroke="rgb(85,200,200)" stroke-width="1.1" fill="none"/>
<path d="M169.75 174.65V186.1H169.75" stroke="rgb(85,200,200)" stroke-width="1.1" fill="none"/>
<path d="M169.75 186.1V197.54H169.75" stroke="rgb(85,200,200)" stroke-width="1.1" fill="none"/>
<path d="M169.75 197.54V208.98H169.75" stroke="rgb(85,200,200)" stroke-width="1.1" fill="none"/>
<path d="M169.75 208.98V220.43H163.09" stroke="rgb(85,200,200)" stroke-width="1.1" fill="none"/>
<path d="M163.09 220.43V231.87H166.94" stroke="rgb(129,248,170)" stroke-width="1.1" fill="none"/>
<path d="M166.94 231.87V243.31H166.94" stroke="rgb(107,230,172)" stroke-width="1.1" fill="none"/>
<path d="M166.94 243.31V254.76H167.29" stroke="rgb(107,230,172)" stroke-width="1.1" fill="none"/>
<path d="M167.29 254.76V266.2" stroke="rgb(103,225,173)" stroke-width="1.1" fill="none"/>
<line x1="187.82" y1="3" x2="187.82" y2="14.44" stroke="rgb(185,193,188)" stroke-width="1.1" stroke-dasharray="3.8 2.45" stroke-dashoffset="3.15"/>
<line x1="187.82" y1="14.44" x2="187.82" y2="25.89" stroke="rgb(185,193,188)" stroke-width="1.1" stroke-dasharray="3.8 2.45" stroke-dashoffset="2.09"/>
<line x1="187.82" y1="25.89" x2="187.82" y2="37.33" stroke="rgb(185,193,188)" stroke-width="1.1" stroke-dasharray="3.8 2.45" stroke-dashoffset="1.04"/>
<line x1="187.82" y1="37.33" x2="187.82" y2="48.77" stroke="rgb(238,182,182)" stroke-width="1.1" stroke-dasharray="3.8 2.45" stroke-dashoffset="6.23"/>
<line x1="187.82" y1="48.77" x2="187.82" y2="60.22" stroke="rgb(191,194,189)" stroke-width="1.1" stroke-dasharray="3.8 2.45" stroke-dashoffset="5.17"/>
<line x1="187.82" y1="60.22" x2="187.82" y2="71.66" stroke="rgb(185,193,188)" stroke-width="1.1" stroke-dasharray="3.8 2.45" stroke-dashoffset="4.12"/>
<line x1="187.82" y1="71.66" x2="187.82" y2="83.1" stroke="rgb(80,195,195)" stroke-width="1.1" stroke-dasharray="3.8 2.45" stroke-dashoffset="3.06"/>
<line x1="187.82" y1="83.1" x2="187.82" y2="94.55" stroke="rgb(80,195,195)" stroke-width="1.1" stroke-dasharray="3.8 2.45" stroke-dashoffset="2"/>
<line x1="187.82" y1="94.55" x2="187.82" y2="105.99" stroke="rgb(80,195,195)" stroke-width="1.1" stroke-dasharray="3.8 2.45" stroke-dashoffset="0.95"/>
<line x1="187.82" y1="105.99" x2="187.82" y2="117.43" stroke="rgb(80,195,195)" stroke-width="1.1" stroke-dasharray="3.8 2.45" stroke-dashoffset="6.14"/>
<line x1="187.82" y1="117.43" x2="187.82" y2="128.88" stroke="rgb(80,195,195)" stroke-width="1.1" stroke-dasharray="3.8 2.45" stroke-dashoffset="5.08"/>
<line x1="187.82" y1="128.88" x2="187.82" y2="140.32" stroke="rgb(130,240,160)" stroke-width="1.1" stroke-dasharray="3.8 2.45" stroke-dashoffset="4.03"/>
<line x1="187.82" y1="140.32" x2="187.82" y2="151.77" stroke="rgb(80,195,195)" stroke-width="1.1" stroke-dasharray="3.8 2.45" stroke-dashoffset="2.97"/>
<line x1="187.82" y1="151.77" x2="187.82" y2="163.21" stroke="rgb(80,195,195)" stroke-width="1.1" stroke-dasharray="3.8 2.45" stroke-dashoffset="1.92"/>
<line x1="187.82" y1="163.21" x2="187.82" y2="174.65" stroke="rgb(80,195,195)" stroke-width="1.1" stroke-dasharray="3.8 2.45" stroke-dashoffset="0.86"/>
<line x1="187.82" y1="174.65" x2="187.82" y2="186.1" stroke="rgb(80,195,195)" stroke-width="1.1" stroke-dasharray="3.8 2.45" stroke-dashoffset="6.05"/>
<line x1="187.82" y1="186.1" x2="187.82" y2="197.54" stroke="rgb(80,195,195)" stroke-width="1.1" stroke-dasharray="3.8 2.45" stroke-dashoffset="5"/>
<line x1="187.82" y1="197.54" x2="187.82" y2="208.98" stroke="rgb(80,195,195)" stroke-width="1.1" stroke-dasharray="3.8 2.45" stroke-dashoffset="3.94"/>
<line x1="187.82" y1="208.98" x2="187.82" y2="220.43" stroke="rgb(80,195,195)" stroke-width="1.1" stroke-dasharray="3.8 2.45" stroke-dashoffset="2.88"/>
<line x1="187.82" y1="220.43" x2="187.82" y2="231.87" stroke="rgb(155,252,160)" stroke-width="1.1" stroke-dasharray="3.8 2.45" stroke-dashoffset="1.83"/>
<line x1="187.82" y1="231.87" x2="187.82" y2="243.31" stroke="rgb(138,244,160)" stroke-width="1.1" stroke-dasharray="3.8 2.45" stroke-dashoffset="0.77"/>
<line x1="187.82" y1="243.31" x2="187.82" y2="254.76" stroke="rgb(80,195,195)" stroke-width="1.1" stroke-dasharray="3.8 2.45" stroke-dashoffset="5.96"/>
<line x1="187.82" y1="254.76" x2="187.82" y2="266.2" stroke="rgb(144,247,160)" stroke-width="1.1" stroke-dasharray="3.8 2.45" stroke-dashoffset="4.91"/>
<path d="M190.63 3V14.44H190.63" stroke="rgb(156,162,158)" stroke-width="1.1" fill="none"/>
<path d="M190.63 14.44V25.89H190.63" stroke="rgb(156,162,158)" stroke-width="1.1" fill="none"/>
<path d="M190.63 25.89V37.33H192.34" stroke="rgb(156,162,158)" stroke-width="1.1" fill="none"/>
<path d="M192.34 37.33V48.77H190.62" stroke="rgb(225,172,170)" stroke-width="1.1" fill="none"/>
<path d="M190.62 48.77V60.22H190.63" stroke="rgb(161,162,157)" stroke-width="1.1" fill="none"/>
<path d="M190.63 60.22V71.66H187.82" stroke="rgb(156,162,158)" stroke-width="1.1" fill="none"/>
<path d="M187.82 71.66V83.1H187.82" stroke="rgb(85,200,200)" stroke-width="1.1" fill="none"/>
<path d="M187.82 83.1V94.55H187.82" stroke="rgb(85,200,200)" stroke-width="1.1" fill="none"/>
<path d="M187.82 94.55V105.99H187.82" stroke="rgb(85,200,200)" stroke-width="1.1" fill="none"/>
<path d="M187.82 105.99V117.43H187.82" stroke="rgb(85,200,200)" stroke-width="1.1" fill="none"/>
<path d="M187.82 117.43V128.88H184.66" stroke="rgb(85,200,200)" stroke-width="1.1" fill="none"/>
<path d="M184.66 128.88V140.32H187.82" stroke="rgb(110,235,170)" stroke-width="1.1" fill="none"/>
<path d="M187.82 140.32V151.77H187.82" stroke="rgb(85,200,200)" stroke-width="1.1" fill="none"/>
<path d="M187.82 151.77V163.21H187.82" stroke="rgb(85,200,200)" stroke-width="1.1" fill="none"/>
<path d="M187.82 163.21V174.65H187.82" stroke="rgb(85,200,200)" stroke-width="1.1" fill="none"/>
<path d="M187.82 174.65V186.1H187.82" stroke="rgb(85,200,200)" stroke-width="1.1" fill="none"/>
<path d="M187.82 186.1V197.54H187.82" stroke="rgb(85,200,200)" stroke-width="1.1" fill="none"/>
<path d="M187.82 197.54V208.98H187.82" stroke="rgb(85,200,200)" stroke-width="1.1" fill="none"/>
<path d="M187.82 208.98V220.43H180.11" stroke="rgb(85,200,200)" stroke-width="1.1" fill="none"/>
<path d="M180.11 220.43V231.87H183.2" stroke="rgb(135,251,170)" stroke-width="1.1" fill="none"/>
<path d="M183.2 231.87V243.31H185.11" stroke="rgb(118,240,170)" stroke-width="1.1" fill="none"/>
<path d="M185.11 243.31V254.76H182.22" stroke="rgb(85,200,200)" stroke-width="1.1" fill="none"/>
<path d="M182.22 254.76V266.2" stroke="rgb(124,244,170)" stroke-width="1.1" fill="none"/>
<line x1="205.89" y1="3" x2="205.89" y2="14.44" stroke="rgb(185,193,188)" stroke-width="1.1" stroke-dasharray="3.8 2.45" stroke-dashoffset="3.15"/>
<line x1="205.89" y1="14.44" x2="205.89" y2="25.89" stroke="rgb(200,196,190)" stroke-width="1.1" stroke-dasharray="3.8 2.45" stroke-dashoffset="2.09"/>
<line x1="205.89" y1="25.89" x2="205.89" y2="37.33" stroke="rgb(238,182,182)" stroke-width="1.1" stroke-dasharray="3.8 2.45" stroke-dashoffset="1.04"/>
<line x1="205.89" y1="37.33" x2="205.89" y2="48.77" stroke="rgb(80,195,195)" stroke-width="1.1" stroke-dasharray="3.8 2.45" stroke-dashoffset="6.23"/>
<line x1="205.89" y1="48.77" x2="205.89" y2="60.22" stroke="rgb(80,195,195)" stroke-width="1.1" stroke-dasharray="3.8 2.45" stroke-dashoffset="5.17"/>
<line x1="205.89" y1="60.22" x2="205.89" y2="71.66" stroke="rgb(185,193,188)" stroke-width="1.1" stroke-dasharray="3.8 2.45" stroke-dashoffset="4.12"/>
<line x1="205.89" y1="71.66" x2="205.89" y2="83.1" stroke="rgb(80,195,195)" stroke-width="1.1" stroke-dasharray="3.8 2.45" stroke-dashoffset="3.06"/>
<line x1="205.89" y1="83.1" x2="205.89" y2="94.55" stroke="rgb(80,195,195)" stroke-width="1.1" stroke-dasharray="3.8 2.45" stroke-dashoffset="2"/>
<line x1="205.89" y1="94.55" x2="205.89" y2="105.99" stroke="rgb(80,195,195)" stroke-width="1.1" stroke-dasharray="3.8 2.45" stroke-dashoffset="0.95"/>
<line x1="205.89" y1="105.99" x2="205.89" y2="117.43" stroke="rgb(80,195,195)" stroke-width="1.1" stroke-dasharray="3.8 2.45" stroke-dashoffset="6.14"/>
<line x1="205.89" y1="117.43" x2="205.89" y2="128.88" stroke="rgb(255,140,140)" stroke-width="1.1" stroke-dasharray="3.8 2.45" stroke-dashoffset="5.08"/>
<line x1="205.89" y1="128.88" x2="205.89" y2="140.32" stroke="rgb(206,194,189)" stroke-width="1.1" stroke-dasharray="3.8 2.45" stroke-dashoffset="4.03"/>
<line x1="205.89" y1="140.32" x2="205.89" y2="151.77" stroke="rgb(80,195,195)" stroke-width="1.1" stroke-dasharray="3.8 2.45" stroke-dashoffset="2.97"/>
<line x1="205.89" y1="151.77" x2="205.89" y2="163.21" stroke="rgb(80,195,195)" stroke-width="1.1" stroke-dasharray="3.8 2.45" stroke-dashoffset="1.92"/>
<line x1="205.89" y1="163.21" x2="205.89" y2="174.65" stroke="rgb(80,195,195)" stroke-width="1.1" stroke-dasharray="3.8 2.45" stroke-dashoffset="0.86"/>
<line x1="205.89" y1="174.65" x2="205.89" y2="186.1" stroke="rgb(80,195,195)" stroke-width="1.1" stroke-dasharray="3.8 2.45" stroke-dashoffset="6.05"/>
<line x1="205.89" y1="186.1" x2="205.89" y2="197.54" stroke="rgb(80,195,195)" stroke-width="1.1" stroke-dasharray="3.8 2.45" stroke-dashoffset="5"/>
<line x1="205.89" y1="197.54" x2="205.89" y2="208.98" stroke="rgb(118,228,167)" stroke-width="1.1" stroke-dasharray="3.8 2.45" stroke-dashoffset="3.94"/>
<line x1="205.89" y1="208.98" x2="205.89" y2="220.43" stroke="rgb(85,198,190)" stroke-width="1.1" stroke-dasharray="3.8 2.45" stroke-dashoffset="2.88"/>
<line x1="205.89" y1="220.43" x2="205.89" y2="231.87" stroke="rgb(155,252,160)" stroke-width="1.1" stroke-dasharray="3.8 2.45" stroke-dashoffset="1.83"/>
<line x1="205.89" y1="231.87" x2="205.89" y2="243.31" stroke="rgb(124,234,163)" stroke-width="1.1" stroke-dasharray="3.8 2.45" stroke-dashoffset="0.77"/>
<line x1="205.89" y1="243.31" x2="205.89" y2="254.76" stroke="rgb(124,234,163)" stroke-width="1.1" stroke-dasharray="3.8 2.45" stroke-dashoffset="5.96"/>
<line x1="205.89" y1="254.76" x2="205.89" y2="266.2" stroke="rgb(138,244,160)" stroke-width="1.1" stroke-dasharray="3.8 2.45" stroke-dashoffset="4.91"/>
<path d="M208.7 3V14.44H209.06" stroke="rgb(156,162,158)" stroke-width="1.1" fill="none"/>
<path d="M209.06 14.44V25.89H210.59" stroke="rgb(168,160,155)" stroke-width="1.1" fill="none"/>
<path d="M210.59 25.89V37.33H205.89" stroke="rgb(225,172,170)" stroke-width="1.1" fill="none"/>
<path d="M205.89 37.33V48.77H205.89" stroke="rgb(85,200,200)" stroke-width="1.1" fill="none"/>
<path d="M205.89 48.77V60.22H208.7" stroke="rgb(85,200,200)" stroke-width="1.1" fill="none"/>
<path d="M208.7 60.22V71.66H205.89" stroke="rgb(156,162,158)" stroke-width="1.1" fill="none"/>
<path d="M205.89 71.66V83.1H205.89" stroke="rgb(85,200,200)" stroke-width="1.1" fill="none"/>
<path d="M205.89 83.1V94.55H205.89" stroke="rgb(85,200,200)" stroke-width="1.1" fill="none"/>
<path d="M205.89 94.55V105.99H205.89" stroke="rgb(85,200,200)" stroke-width="1.1" fill="none"/>
<path d="M205.89 105.99V117.43H212.4" stroke="rgb(85,200,200)" stroke-width="1.1" fill="none"/>
<path d="M212.4 117.43V128.88H208.6" stroke="rgb(255,160,160)" stroke-width="1.1" fill="none"/>
<path d="M208.6 128.88V140.32H205.89" stroke="rgb(178,162,158)" stroke-width="1.1" fill="none"/>
<path d="M205.89 140.32V151.77H205.89" stroke="rgb(85,200,200)" stroke-width="1.1" fill="none"/>
<path d="M205.89 151.77V163.21H205.89" stroke="rgb(85,200,200)" stroke-width="1.1" fill="none"/>
<path d="M205.89 163.21V174.65H205.89" stroke="rgb(85,200,200)" stroke-width="1.1" fill="none"/>
<path d="M205.89 174.65V186.1H205.89" stroke="rgb(85,200,200)" stroke-width="1.1" fill="none"/>
<path d="M205.89 186.1V197.54H203.43" stroke="rgb(85,200,200)" stroke-width="1.1" fill="none"/>
<path d="M203.43 197.54V208.98H205.54" stroke="rgb(103,225,173)" stroke-width="1.1" fill="none"/>
<path d="M205.54 208.98V220.43H198.18" stroke="rgb(87,202,193)" stroke-width="1.1" fill="none"/>
<path d="M198.18 220.43V231.87H203.08" stroke="rgb(135,251,170)" stroke-width="1.1" fill="none"/>
<path d="M203.08 231.87V243.31H203.08" stroke="rgb(107,230,172)" stroke-width="1.1" fill="none"/>
<path d="M203.08 243.31V254.76H201.27" stroke="rgb(107,230,172)" stroke-width="1.1" fill="none"/>
<path d="M201.27 254.76V266.2" stroke="rgb(118,240,170)" stroke-width="1.1" fill="none"/>
<line x1="223.96" y1="3" x2="223.96" y2="14.44" stroke="rgb(255,140,140)" stroke-width="1.1" stroke-dasharray="3.8 2.45" stroke-dashoffset="3.15"/>
<line x1="223.96" y1="14.44" x2="223.96" y2="25.89" stroke="rgb(240,177,177)" stroke-width="1.1" stroke-dasharray="3.8 2.45" stroke-dashoffset="2.09"/>
<line x1="223.96" y1="25.89" x2="223.96" y2="37.33" stroke="rgb(238,182,182)" stroke-width="1.1" stroke-dasharray="3.8 2.45" stroke-dashoffset="1.04"/>
<line x1="223.96" y1="37.33" x2="223.96" y2="48.77" stroke="rgb(80,195,195)" stroke-width="1.1" stroke-dasharray="3.8 2.45" stroke-dashoffset="6.23"/>
<line x1="223.96" y1="48.77" x2="223.96" y2="60.22" stroke="rgb(155,188,184)" stroke-width="1.1" stroke-dasharray="3.8 2.45" stroke-dashoffset="5.17"/>
<line x1="223.96" y1="60.22" x2="223.96" y2="71.66" stroke="rgb(185,193,188)" stroke-width="1.1" stroke-dasharray="3.8 2.45" stroke-dashoffset="4.12"/>
<line x1="223.96" y1="71.66" x2="223.96" y2="83.1" stroke="rgb(170,191,186)" stroke-width="1.1" stroke-dasharray="3.8 2.45" stroke-dashoffset="3.06"/>
<line x1="223.96" y1="83.1" x2="223.96" y2="94.55" stroke="rgb(80,195,195)" stroke-width="1.1" stroke-dasharray="3.8 2.45" stroke-dashoffset="2"/>
<line x1="223.96" y1="94.55" x2="223.96" y2="105.99" stroke="rgb(80,195,195)" stroke-width="1.1" stroke-dasharray="3.8 2.45" stroke-dashoffset="0.95"/>
<line x1="223.96" y1="105.99" x2="223.96" y2="117.43" stroke="rgb(170,191,186)" stroke-width="1.1" stroke-dasharray="3.8 2.45" stroke-dashoffset="6.14"/>
<line x1="223.96" y1="117.43" x2="223.96" y2="128.88" stroke="rgb(80,195,195)" stroke-width="1.1" stroke-dasharray="3.8 2.45" stroke-dashoffset="5.08"/>
<line x1="223.96" y1="128.88" x2="223.96" y2="140.32" stroke="rgb(232,184,183)" stroke-width="1.1" stroke-dasharray="3.8 2.45" stroke-dashoffset="4.03"/>
<line x1="223.96" y1="140.32" x2="223.96" y2="151.77" stroke="rgb(200,196,190)" stroke-width="1.1" stroke-dasharray="3.8 2.45" stroke-dashoffset="2.97"/>
<line x1="223.96" y1="151.77" x2="223.96" y2="163.21" stroke="rgb(232,184,183)" stroke-width="1.1" stroke-dasharray="3.8 2.45" stroke-dashoffset="1.92"/>
<line x1="223.96" y1="163.21" x2="223.96" y2="174.65" stroke="rgb(80,195,195)" stroke-width="1.1" stroke-dasharray="3.8 2.45" stroke-dashoffset="0.86"/>
<line x1="223.96" y1="174.65" x2="223.96" y2="186.1" stroke="rgb(80,195,195)" stroke-width="1.1" stroke-dasharray="3.8 2.45" stroke-dashoffset="6.05"/>
<line x1="223.96" y1="186.1" x2="223.96" y2="197.54" stroke="rgb(80,195,195)" stroke-width="1.1" stroke-dasharray="3.8 2.45" stroke-dashoffset="5"/>
<line x1="223.96" y1="197.54" x2="223.96" y2="208.98" stroke="rgb(118,228,167)" stroke-width="1.1" stroke-dasharray="3.8 2.45" stroke-dashoffset="3.94"/>
<line x1="223.96" y1="208.98" x2="223.96" y2="220.43" stroke="rgb(118,228,167)" stroke-width="1.1" stroke-dasharray="3.8 2.45" stroke-dashoffset="2.88"/>
<line x1="223.96" y1="220.43" x2="223.96" y2="231.87" stroke="rgb(155,252,160)" stroke-width="1.1" stroke-dasharray="3.8 2.45" stroke-dashoffset="1.83"/>
<line x1="223.96" y1="231.87" x2="223.96" y2="243.31" stroke="rgb(135,243,160)" stroke-width="1.1" stroke-dasharray="3.8 2.45" stroke-dashoffset="0.77"/>
<line x1="223.96" y1="243.31" x2="223.96" y2="254.76" stroke="rgb(133,241,160)" stroke-width="1.1" stroke-dasharray="3.8 2.45" stroke-dashoffset="5.96"/>
<line x1="223.96" y1="254.76" x2="223.96" y2="266.2" stroke="rgb(124,234,163)" stroke-width="1.1" stroke-dasharray="3.8 2.45" stroke-dashoffset="4.91"/>
<path d="M232.73 3V14.44H230.29" stroke="rgb(255,160,160)" stroke-width="1.1" fill="none"/>
<path d="M230.29 14.44V25.89H229.39" stroke="rgb(229,171,169)" stroke-width="1.1" fill="none"/>
<path d="M229.39 25.89V37.33H223.96" stroke="rgb(225,172,170)" stroke-width="1.1" fill="none"/>
<path d="M223.96 37.33V48.77H226.07" stroke="rgb(85,200,200)" stroke-width="1.1" fill="none"/>
<path d="M226.07 48.77V60.22H226.78" stroke="rgb(132,168,164)" stroke-width="1.1" fill="none"/>
<path d="M226.78 60.22V71.66H226.42" stroke="rgb(156,162,158)" stroke-width="1.1" fill="none"/>
<path d="M226.42 71.66V83.1H223.96" stroke="rgb(144,165,161)" stroke-width="1.1" fill="none"/>
<path d="M223.96 83.1V94.55H223.96" stroke="rgb(85,200,200)" stroke-width="1.1" fill="none"/>
<path d="M223.96 94.55V105.99H226.42" stroke="rgb(85,200,200)" stroke-width="1.1" fill="none"/>
<path d="M226.42 105.99V117.43H223.96" stroke="rgb(144,165,161)" stroke-width="1.1" fill="none"/>
<path d="M223.96 117.43V128.88H228.03" stroke="rgb(85,200,200)" stroke-width="1.1" fill="none"/>
<path d="M228.03 128.88V140.32H227.13" stroke="rgb(216,170,168)" stroke-width="1.1" fill="none"/>
<path d="M227.13 140.32V151.77H228.03" stroke="rgb(168,160,155)" stroke-width="1.1" fill="none"/>
<path d="M228.03 151.77V163.21H223.96" stroke="rgb(216,170,168)" stroke-width="1.1" fill="none"/>
<path d="M223.96 163.21V174.65H223.96" stroke="rgb(85,200,200)" stroke-width="1.1" fill="none"/>
<path d="M223.96 174.65V186.1H223.96" stroke="rgb(85,200,200)" stroke-width="1.1" fill="none"/>
<path d="M223.96 186.1V197.54H221.5" stroke="rgb(85,200,200)" stroke-width="1.1" fill="none"/>
<path d="M221.5 197.54V208.98H221.5" stroke="rgb(103,225,173)" stroke-width="1.1" fill="none"/>
<path d="M221.5 208.98V220.43H216.25" stroke="rgb(103,225,173)" stroke-width="1.1" fill="none"/>
<path d="M216.25 220.43V231.87H219.83" stroke="rgb(135,251,170)" stroke-width="1.1" fill="none"/>
<path d="M219.83 231.87V243.31H220.31" stroke="rgb(115,239,170)" stroke-width="1.1" fill="none"/>
<path d="M220.31 243.31V254.76H221.15" stroke="rgb(113,237,170)" stroke-width="1.1" fill="none"/>
<path d="M221.15 254.76V266.2" stroke="rgb(107,230,172)" stroke-width="1.1" fill="none"/>
<path d="M103 8.72H83.4V20.17H103M83.4 14.44H80.2V31.61H103M103 43.05H81V54.5H103M80.2 23.03H68.4V48.77H81M103 65.94H97.3V77.38H103M103 88.83H97.3V100.27H103M97.3 94.55H94.8V111.71H103M97.3 71.66H87.5V103.13H94.8M87.5 87.4H78.5V123.16H103M103 134.6H92.4V146.04H103M103 157.49H85.9V168.93H103M92.4 140.32H78.5V163.21H85.9M78.5 105.28H74.5V151.77H78.5M103 180.37H98.6V191.82H103M103 203.26H95V214.7H103M98.6 186.1H87.5V208.98H95M74.5 128.52H61.6V197.54H87.5M68.4 35.9H46.8V163.03H61.6M103 249.03H88.8V260.48H103M103 237.59H85.9V254.76H88.8M103 226.15H68.4V246.17H85.9M46.8 99.46H6.5V236.16H68.4" stroke="#2e2e2e" stroke-width="1.15" fill="none"/>
<text transform="translate(245.2 11.81) scale(0.88 1)" class="rl" font-size="8.58">GmTIP1;1</text>
<text transform="translate(245.2 23.25) scale(0.88 1)" class="rl" font-size="8.58">GmTIP2;1</text>
<text transform="translate(245.2 34.7) scale(0.88 1)" class="rl" font-size="8.58">GmTIP1;7</text>
<text transform="translate(245.2 46.14) scale(0.88 1)" class="rl" font-size="8.58">GmTIP3;1</text>
<text transform="translate(245.2 57.58) scale(0.88 1)" class="rl" font-size="8.58">GmTIP3;2</text>
<text transform="translate(245.2 69.03) scale(0.88 1)" class="rl" font-size="8.58">GmTIP1;9</text>
<text transform="translate(245.2 80.47) scale(0.88 1)" class="rl" font-size="8.58">GmTIP1;5</text>
<text transform="translate(245.2 91.91) scale(0.88 1)" class="rl" font-size="8.58">GmTIP1;2</text>
<text transform="translate(245.2 103.36) scale(0.88 1)" class="rl" font-size="8.58">GmTIP1;8</text>
<text transform="translate(245.2 114.8) scale(0.88 1)" class="rl" font-size="8.58">GmTIP5;1</text>
<text transform="translate(245.2 126.24) scale(0.88 1)" class="rl" font-size="8.58">GmTIP4;2</text>
<text transform="translate(245.2 137.69) scale(0.88 1)" class="rl" font-size="8.58">GmTIP2;6</text>
<text transform="translate(245.2 149.13) scale(0.88 1)" class="rl" font-size="8.58">GmTIP2;5</text>
<text transform="translate(245.2 160.58) scale(0.88 1)" class="rl" font-size="8.58">GmTIP3;3</text>
<text transform="translate(245.2 172.02) scale(0.88 1)" class="rl" font-size="8.58">GmTIP3;4</text>
<text transform="translate(245.2 183.46) scale(0.88 1)" class="rl" font-size="8.58">GmTIP2;7</text>
<text transform="translate(245.2 194.91) scale(0.88 1)" class="rl" font-size="8.58">GmTIP1;3</text>
<text transform="translate(245.2 206.35) scale(0.88 1)" class="rl" font-size="8.58">GmTIP4;1</text>
<text transform="translate(245.2 217.79) scale(0.88 1)" class="rl" font-size="8.58">GmTIP2;3</text>
<text transform="translate(245.2 229.24) scale(0.88 1)" class="rl" font-size="8.58">GmTIP2;2</text>
<text transform="translate(245.2 240.68) scale(0.88 1)" class="rl" font-size="8.58">GmTIP2;4</text>
<text transform="translate(245.2 252.12) scale(0.88 1)" class="rl" font-size="8.58">GmTIP1;4</text>
<text transform="translate(245.2 263.57) scale(0.88 1)" class="rl" font-size="8.58">GmTIP1;6</text>
<text transform="translate(116.14 276.6) rotate(-45) scale(0.88 1)" class="cl" font-size="8.75">Control_0hr</text>
<text transform="translate(134.21 276.6) rotate(-45) scale(0.88 1)" class="cl" font-size="8.75">Dehydration_1hr</text>
<text transform="translate(152.28 276.6) rotate(-45) scale(0.88 1)" class="cl" font-size="8.75">Dehydration_6hr</text>
<text transform="translate(170.35 276.6) rotate(-45) scale(0.88 1)" class="cl" font-size="8.75">Dehydration_12hr</text>
<text transform="translate(188.42 276.6) rotate(-45) scale(0.88 1)" class="cl" font-size="8.75">Salinity_1hr</text>
<text transform="translate(206.49 276.6) rotate(-45) scale(0.88 1)" class="cl" font-size="8.75">Salinity_6hr</text>
<text transform="translate(224.56 276.6) rotate(-45) scale(0.88 1)" class="cl" font-size="8.75">Salinity_12hr</text>
<rect x="489.2" y="3" width="18.27" height="12.23" fill="rgb(0,0,0)"/>
<rect x="507.17" y="3" width="18.27" height="12.23" fill="rgb(0,0,0)"/>
<rect x="525.14" y="3" width="18.27" height="12.23" fill="rgb(0,0,0)"/>
<rect x="543.11" y="3" width="18.27" height="12.23" fill="rgb(0,0,0)"/>
<rect x="561.09" y="3" width="18.27" height="12.23" fill="rgb(0,0,0)"/>
<rect x="579.06" y="3" width="18.27" height="12.23" fill="rgb(0,0,0)"/>
<rect x="597.03" y="3" width="17.97" height="12.23" fill="rgb(0,0,0)"/>
<rect x="489.2" y="14.93" width="18.27" height="12.23" fill="rgb(0,0,0)"/>
<rect x="507.17" y="14.93" width="18.27" height="12.23" fill="rgb(0,0,0)"/>
<rect x="525.14" y="14.93" width="18.27" height="12.23" fill="rgb(0,0,0)"/>
<rect x="543.11" y="14.93" width="18.27" height="12.23" fill="rgb(0,0,0)"/>
<rect x="561.09" y="14.93" width="18.27" height="12.23" fill="rgb(0,0,0)"/>
<rect x="579.06" y="14.93" width="18.27" height="12.23" fill="rgb(0,0,0)"/>
<rect x="597.03" y="14.93" width="17.97" height="12.23" fill="rgb(0,0,0)"/>
<rect x="489.2" y="26.86" width="18.27" height="12.23" fill="rgb(0,0,0)"/>
<rect x="507.17" y="26.86" width="18.27" height="12.23" fill="rgb(0,0,0)"/>
<rect x="525.14" y="26.86" width="18.27" height="12.23" fill="rgb(0,0,0)"/>
<rect x="543.11" y="26.86" width="18.27" height="12.23" fill="rgb(0,0,0)"/>
<rect x="561.09" y="26.86" width="18.27" height="12.23" fill="rgb(0,0,0)"/>
<rect x="579.06" y="26.86" width="18.27" height="12.23" fill="rgb(0,0,0)"/>
<rect x="597.03" y="26.86" width="17.97" height="12.23" fill="rgb(0,0,0)"/>
<rect x="489.2" y="38.8" width="18.27" height="12.23" fill="rgb(0,0,0)"/>
<rect x="507.17" y="38.8" width="18.27" height="12.23" fill="rgb(0,0,0)"/>
<rect x="525.14" y="38.8" width="18.27" height="12.23" fill="rgb(115,0,0)"/>
<rect x="543.11" y="38.8" width="18.27" height="12.23" fill="rgb(115,0,0)"/>
<rect x="561.09" y="38.8" width="18.27" height="12.23" fill="rgb(0,0,0)"/>
<rect x="579.06" y="38.8" width="18.27" height="12.23" fill="rgb(0,0,0)"/>
<rect x="597.03" y="38.8" width="17.97" height="12.23" fill="rgb(0,0,0)"/>
<rect x="489.2" y="50.73" width="18.27" height="12.23" fill="rgb(0,0,0)"/>
<rect x="507.17" y="50.73" width="18.27" height="12.23" fill="rgb(0,0,0)"/>
<rect x="525.14" y="50.73" width="18.27" height="12.23" fill="rgb(0,0,0)"/>
<rect x="543.11" y="50.73" width="18.27" height="12.23" fill="rgb(0,0,0)"/>
<rect x="561.09" y="50.73" width="18.27" height="12.23" fill="rgb(0,0,0)"/>
<rect x="579.06" y="50.73" width="18.27" height="12.23" fill="rgb(0,0,0)"/>
<rect x="597.03" y="50.73" width="17.97" height="12.23" fill="rgb(0,0,0)"/>
<rect x="489.2" y="62.66" width="18.27" height="12.23" fill="rgb(0,0,0)"/>
<rect x="507.17" y="62.66" width="18.27" height="12.23" fill="rgb(0,0,0)"/>
<rect x="525.14" y="62.66" width="18.27" height="12.23" fill="rgb(0,0,0)"/>
<rect x="543.11" y="62.66" width="18.27" height="12.23" fill="rgb(0,0,0)"/>
<rect x="561.09" y="62.66" width="18.27" height="12.23" fill="rgb(0,0,0)"/>
<rect x="579.06" y="62.66" width="18.27" height="12.23" fill="rgb(0,0,0)"/>
<rect x="597.03" y="62.66" width="17.97" height="12.23" fill="rgb(0,0,0)"/>
<rect x="489.2" y="74.59" width="18.27" height="12.23" fill="rgb(0,0,0)"/>
<rect x="507.17" y="74.59" width="18.27" height="12.23" fill="rgb(0,0,0)"/>
<rect x="525.14" y="74.59" width="18.27" height="12.23" fill="rgb(0,0,0)"/>
<rect x="543.11" y="74.59" width="18.27" height="12.23" fill="rgb(0,0,0)"/>
<rect x="561.09" y="74.59" width="18.27" height="12.23" fill="rgb(0,0,0)"/>
<rect x="579.06" y="74.59" width="18.27" height="12.23" fill="rgb(0,0,0)"/>
<rect x="597.03" y="74.59" width="17.97" height="12.23" fill="rgb(0,0,0)"/>
<rect x="489.2" y="86.52" width="18.27" height="12.23" fill="rgb(0,0,0)"/>
<rect x="507.17" y="86.52" width="18.27" height="12.23" fill="rgb(0,0,0)"/>
<rect x="525.14" y="86.52" width="18.27" height="12.23" fill="rgb(0,0,0)"/>
<rect x="543.11" y="86.52" width="18.27" height="12.23" fill="rgb(0,0,0)"/>
<rect x="561.09" y="86.52" width="18.27" height="12.23" fill="rgb(0,0,0)"/>
<rect x="579.06" y="86.52" width="18.27" height="12.23" fill="rgb(0,0,0)"/>
<rect x="597.03" y="86.52" width="17.97" height="12.23" fill="rgb(0,0,0)"/>
<rect x="489.2" y="98.45" width="18.27" height="12.23" fill="rgb(0,0,0)"/>
<rect x="507.17" y="98.45" width="18.27" height="12.23" fill="rgb(0,0,0)"/>
<rect x="525.14" y="98.45" width="18.27" height="12.23" fill="rgb(0,0,0)"/>
<rect x="543.11" y="98.45" width="18.27" height="12.23" fill="rgb(0,0,0)"/>
<rect x="561.09" y="98.45" width="18.27" height="12.23" fill="rgb(0,0,0)"/>
<rect x="579.06" y="98.45" width="18.27" height="12.23" fill="rgb(0,0,0)"/>
<rect x="597.03" y="98.45" width="17.97" height="12.23" fill="rgb(0,0,0)"/>
<rect x="489.2" y="110.39" width="18.27" height="12.23" fill="rgb(0,0,0)"/>
<rect x="507.17" y="110.39" width="18.27" height="12.23" fill="rgb(0,0,0)"/>
<rect x="525.14" y="110.39" width="18.27" height="12.23" fill="rgb(0,0,0)"/>
<rect x="543.11" y="110.39" width="18.27" height="12.23" fill="rgb(0,0,0)"/>
<rect x="561.09" y="110.39" width="18.27" height="12.23" fill="rgb(0,0,0)"/>
<rect x="579.06" y="110.39" width="18.27" height="12.23" fill="rgb(115,0,0)"/>
<rect x="597.03" y="110.39" width="17.97" height="12.23" fill="rgb(0,0,0)"/>
<rect x="489.2" y="122.32" width="18.27" height="12.23" fill="rgb(0,0,0)"/>
<rect x="507.17" y="122.32" width="18.27" height="12.23" fill="rgb(0,0,0)"/>
<rect x="525.14" y="122.32" width="18.27" height="12.23" fill="rgb(0,0,0)"/>
<rect x="543.11" y="122.32" width="18.27" height="12.23" fill="rgb(0,0,0)"/>
<rect x="561.09" y="122.32" width="18.27" height="12.23" fill="rgb(0,0,0)"/>
<rect x="579.06" y="122.32" width="18.27" height="12.23" fill="rgb(0,0,0)"/>
<rect x="597.03" y="122.32" width="17.97" height="12.23" fill="rgb(115,0,0)"/>
<rect x="489.2" y="134.25" width="18.27" height="12.23" fill="rgb(0,0,0)"/>
<rect x="507.17" y="134.25" width="18.27" height="12.23" fill="rgb(115,0,0)"/>
<rect x="525.14" y="134.25" width="18.27" height="12.23" fill="rgb(0,0,0)"/>
<rect x="543.11" y="134.25" width="18.27" height="12.23" fill="rgb(0,0,0)"/>
<rect x="561.09" y="134.25" width="18.27" height="12.23" fill="rgb(13,0,0)"/>
<rect x="579.06" y="134.25" width="18.27" height="12.23" fill="rgb(0,0,0)"/>
<rect x="597.03" y="134.25" width="17.97" height="12.23" fill="rgb(0,0,0)"/>
<rect x="489.2" y="146.18" width="18.27" height="12.23" fill="rgb(0,0,0)"/>
<rect x="507.17" y="146.18" width="18.27" height="12.23" fill="rgb(0,0,0)"/>
<rect x="525.14" y="146.18" width="18.27" height="12.23" fill="rgb(0,0,0)"/>
<rect x="543.11" y="146.18" width="18.27" height="12.23" fill="rgb(0,0,0)"/>
<rect x="561.09" y="146.18" width="18.27" height="12.23" fill="rgb(0,0,0)"/>
<rect x="579.06" y="146.18" width="18.27" height="12.23" fill="rgb(0,0,0)"/>
<rect x="597.03" y="146.18" width="17.97" height="12.23" fill="rgb(0,0,0)"/>
<rect x="489.2" y="158.11" width="18.27" height="12.23" fill="rgb(0,0,0)"/>
<rect x="507.17" y="158.11" width="18.27" height="12.23" fill="rgb(0,0,0)"/>
<rect x="525.14" y="158.11" width="18.27" height="12.23" fill="rgb(0,0,0)"/>
<rect x="543.11" y="158.11" width="18.27" height="12.23" fill="rgb(0,0,0)"/>
<rect x="561.09" y="158.11" width="18.27" height="12.23" fill="rgb(115,0,0)"/>
<rect x="579.06" y="158.11" width="18.27" height="12.23" fill="rgb(0,0,0)"/>
<rect x="597.03" y="158.11" width="17.97" height="12.23" fill="rgb(0,0,0)"/>
<rect x="489.2" y="170.05" width="18.27" height="12.23" fill="rgb(0,0,0)"/>
<rect x="507.17" y="170.05" width="18.27" height="12.23" fill="rgb(0,0,0)"/>
<rect x="525.14" y="170.05" width="18.27" height="12.23" fill="rgb(0,0,0)"/>
<rect x="543.11" y="170.05" width="18.27" height="12.23" fill="rgb(0,0,0)"/>
<rect x="561.09" y="170.05" width="18.27" height="12.23" fill="rgb(115,0,0)"/>
<rect x="579.06" y="170.05" width="18.27" height="12.23" fill="rgb(0,0,0)"/>
<rect x="597.03" y="170.05" width="17.97" height="12.23" fill="rgb(0,0,0)"/>
<rect x="489.2" y="181.98" width="18.27" height="12.23" fill="rgb(0,0,0)"/>
<rect x="507.17" y="181.98" width="18.27" height="12.23" fill="rgb(13,0,0)"/>
<rect x="525.14" y="181.98" width="18.27" height="12.23" fill="rgb(0,0,0)"/>
<rect x="543.11" y="181.98" width="18.27" height="12.23" fill="rgb(13,0,0)"/>
<rect x="561.09" y="181.98" width="18.27" height="12.23" fill="rgb(0,0,0)"/>
<rect x="579.06" y="181.98" width="18.27" height="12.23" fill="rgb(0,0,0)"/>
<rect x="597.03" y="181.98" width="17.97" height="12.23" fill="rgb(0,0,0)"/>
<rect x="489.2" y="193.91" width="18.27" height="12.23" fill="rgb(0,0,0)"/>
<rect x="507.17" y="193.91" width="18.27" height="12.23" fill="rgb(0,0,0)"/>
<rect x="525.14" y="193.91" width="18.27" height="12.23" fill="rgb(0,0,0)"/>
<rect x="543.11" y="193.91" width="18.27" height="12.23" fill="rgb(0,0,0)"/>
<rect x="561.09" y="193.91" width="18.27" height="12.23" fill="rgb(0,0,0)"/>
<rect x="579.06" y="193.91" width="18.27" height="12.23" fill="rgb(0,0,0)"/>
<rect x="597.03" y="193.91" width="17.97" height="12.23" fill="rgb(0,0,0)"/>
<rect x="489.2" y="205.84" width="18.27" height="12.23" fill="rgb(0,0,0)"/>
<rect x="507.17" y="205.84" width="18.27" height="12.23" fill="rgb(0,0,0)"/>
<rect x="525.14" y="205.84" width="18.27" height="12.23" fill="rgb(0,0,0)"/>
<rect x="543.11" y="205.84" width="18.27" height="12.23" fill="rgb(0,0,0)"/>
<rect x="561.09" y="205.84" width="18.27" height="12.23" fill="rgb(0,0,0)"/>
<rect x="579.06" y="205.84" width="18.27" height="12.23" fill="rgb(0,0,0)"/>
<rect x="597.03" y="205.84" width="17.97" height="12.23" fill="rgb(0,0,0)"/>
<rect x="489.2" y="217.77" width="18.27" height="12.23" fill="rgb(0,0,0)"/>
<rect x="507.17" y="217.77" width="18.27" height="12.23" fill="rgb(0,0,0)"/>
<rect x="525.14" y="217.77" width="18.27" height="12.23" fill="rgb(0,0,0)"/>
<rect x="543.11" y="217.77" width="18.27" height="12.23" fill="rgb(0,0,0)"/>
<rect x="561.09" y="217.77" width="18.27" height="12.23" fill="rgb(0,0,0)"/>
<rect x="579.06" y="217.77" width="18.27" height="12.23" fill="rgb(0,0,0)"/>
<rect x="597.03" y="217.77" width="17.97" height="12.23" fill="rgb(0,0,0)"/>
<rect x="489.2" y="229.7" width="18.27" height="12.23" fill="rgb(0,0,0)"/>
<rect x="507.17" y="229.7" width="18.27" height="12.23" fill="rgb(0,0,0)"/>
<rect x="525.14" y="229.7" width="18.27" height="12.23" fill="rgb(0,0,0)"/>
<rect x="543.11" y="229.7" width="18.27" height="12.23" fill="rgb(0,0,0)"/>
<rect x="561.09" y="229.7" width="18.27" height="12.23" fill="rgb(0,0,0)"/>
<rect x="579.06" y="229.7" width="18.27" height="12.23" fill="rgb(0,0,0)"/>
<rect x="597.03" y="229.7" width="17.97" height="12.23" fill="rgb(0,0,0)"/>
<rect x="489.2" y="241.64" width="18.27" height="12.23" fill="rgb(0,0,0)"/>
<rect x="507.17" y="241.64" width="18.27" height="12.23" fill="rgb(0,0,0)"/>
<rect x="525.14" y="241.64" width="18.27" height="12.23" fill="rgb(0,0,0)"/>
<rect x="543.11" y="241.64" width="18.27" height="12.23" fill="rgb(0,0,0)"/>
<rect x="561.09" y="241.64" width="18.27" height="12.23" fill="rgb(0,0,0)"/>
<rect x="579.06" y="241.64" width="18.27" height="12.23" fill="rgb(0,0,0)"/>
<rect x="597.03" y="241.64" width="17.97" height="12.23" fill="rgb(0,0,0)"/>
<rect x="489.2" y="253.57" width="18.27" height="11.93" fill="rgb(0,0,0)"/>
<rect x="507.17" y="253.57" width="18.27" height="11.93" fill="rgb(115,0,0)"/>
<rect x="525.14" y="253.57" width="18.27" height="11.93" fill="rgb(0,0,0)"/>
<rect x="543.11" y="253.57" width="18.27" height="11.93" fill="rgb(13,0,0)"/>
<rect x="561.09" y="253.57" width="18.27" height="11.93" fill="rgb(115,0,0)"/>
<rect x="579.06" y="253.57" width="18.27" height="11.93" fill="rgb(255,0,0)"/>
<rect x="597.03" y="253.57" width="17.97" height="11.93" fill="rgb(255,0,0)"/>
<path d="M507.17 3V265.5M525.14 3V265.5M543.11 3V265.5M561.09 3V265.5M579.06 3V265.5M597.03 3V265.5M489.2 14.93H615M489.2 26.86H615M489.2 38.8H615M489.2 50.73H615M489.2 62.66H615M489.2 74.59H615M489.2 86.52H615M489.2 98.45H615M489.2 110.39H615M489.2 122.32H615M489.2 134.25H615M489.2 146.18H615M489.2 158.11H615M489.2 170.05H615M489.2 181.98H615M489.2 193.91H615M489.2 205.84H615M489.2 217.77H615M489.2 229.7H615M489.2 241.64H615M489.2 253.57H615" stroke="rgba(255,255,255,0.1)" stroke-width="0.8" fill="none"/>
<line x1="498.19" y1="3" x2="498.19" y2="14.93" stroke="rgb(80,195,195)" stroke-width="1.1" stroke-dasharray="3.8 2.45" stroke-dashoffset="2.95"/>
<line x1="498.19" y1="14.93" x2="498.19" y2="26.86" stroke="rgb(80,195,195)" stroke-width="1.1" stroke-dasharray="3.8 2.45" stroke-dashoffset="2.38"/>
<line x1="498.19" y1="26.86" x2="498.19" y2="38.8" stroke="rgb(80,195,195)" stroke-width="1.1" stroke-dasharray="3.8 2.45" stroke-dashoffset="1.81"/>
<line x1="498.19" y1="38.8" x2="498.19" y2="50.73" stroke="rgb(80,195,195)" stroke-width="1.1" stroke-dasharray="3.8 2.45" stroke-dashoffset="1.25"/>
<line x1="498.19" y1="50.73" x2="498.19" y2="62.66" stroke="rgb(80,195,195)" stroke-width="1.1" stroke-dasharray="3.8 2.45" stroke-dashoffset="0.68"/>
<line x1="498.19" y1="62.66" x2="498.19" y2="74.59" stroke="rgb(80,195,195)" stroke-width="1.1" stroke-dasharray="3.8 2.45" stroke-dashoffset="0.11"/>
<line x1="498.19" y1="74.59" x2="498.19" y2="86.52" stroke="rgb(80,195,195)" stroke-width="1.1" stroke-dasharray="3.8 2.45" stroke-dashoffset="5.79"/>
<line x1="498.19" y1="86.52" x2="498.19" y2="98.45" stroke="rgb(80,195,195)" stroke-width="1.1" stroke-dasharray="3.8 2.45" stroke-dashoffset="5.22"/>
<line x1="498.19" y1="98.45" x2="498.19" y2="110.39" stroke="rgb(80,195,195)" stroke-width="1.1" stroke-dasharray="3.8 2.45" stroke-dashoffset="4.65"/>
<line x1="498.19" y1="110.39" x2="498.19" y2="122.32" stroke="rgb(80,195,195)" stroke-width="1.1" stroke-dasharray="3.8 2.45" stroke-dashoffset="4.09"/>
<line x1="498.19" y1="122.32" x2="498.19" y2="134.25" stroke="rgb(80,195,195)" stroke-width="1.1" stroke-dasharray="3.8 2.45" stroke-dashoffset="3.52"/>
<line x1="498.19" y1="134.25" x2="498.19" y2="146.18" stroke="rgb(80,195,195)" stroke-width="1.1" stroke-dasharray="3.8 2.45" stroke-dashoffset="2.95"/>
<line x1="498.19" y1="146.18" x2="498.19" y2="158.11" stroke="rgb(80,195,195)" stroke-width="1.1" stroke-dasharray="3.8 2.45" stroke-dashoffset="2.38"/>
<line x1="498.19" y1="158.11" x2="498.19" y2="170.05" stroke="rgb(80,195,195)" stroke-width="1.1" stroke-dasharray="3.8 2.45" stroke-dashoffset="1.81"/>
<line x1="498.19" y1="170.05" x2="498.19" y2="181.98" stroke="rgb(80,195,195)" stroke-width="1.1" stroke-dasharray="3.8 2.45" stroke-dashoffset="1.25"/>
<line x1="498.19" y1="181.98" x2="498.19" y2="193.91" stroke="rgb(80,195,195)" stroke-width="1.1" stroke-dasharray="3.8 2.45" stroke-dashoffset="0.68"/>
<line x1="498.19" y1="193.91" x2="498.19" y2="205.84" stroke="rgb(80,195,195)" stroke-width="1.1" stroke-dasharray="3.8 2.45" stroke-dashoffset="0.11"/>
<line x1="498.19" y1="205.84" x2="498.19" y2="217.77" stroke="rgb(80,195,195)" stroke-width="1.1" stroke-dasharray="3.8 2.45" stroke-dashoffset="5.79"/>
<line x1="498.19" y1="217.77" x2="498.19" y2="229.7" stroke="rgb(80,195,195)" stroke-width="1.1" stroke-dasharray="3.8 2.45" stroke-dashoffset="5.22"/>
<line x1="498.19" y1="229.7" x2="498.19" y2="241.64" stroke="rgb(80,195,195)" stroke-width="1.1" stroke-dasharray="3.8 2.45" stroke-dashoffset="4.65"/>
<line x1="498.19" y1="241.64" x2="498.19" y2="253.57" stroke="rgb(80,195,195)" stroke-width="1.1" stroke-dasharray="3.8 2.45" stroke-dashoffset="4.09"/>
<line x1="498.19" y1="253.57" x2="498.19" y2="265.5" stroke="rgb(80,195,195)" stroke-width="1.1" stroke-dasharray="3.8 2.45" stroke-dashoffset="3.52"/>
<path d="M498.19 3V14.93H498.19" stroke="rgb(85,200,200)" stroke-width="1.1" fill="none"/>
<path d="M498.19 14.93V26.86H498.19" stroke="rgb(85,200,200)" stroke-width="1.1" fill="none"/>
<path d="M498.19 26.86V38.8H498.19" stroke="rgb(85,200,200)" stroke-width="1.1" fill="none"/>
<path d="M498.19 38.8V50.73H498.19" stroke="rgb(85,200,200)" stroke-width="1.1" fill="none"/>
<path d="M498.19 50.73V62.66H498.19" stroke="rgb(85,200,200)" stroke-width="1.1" fill="none"/>
<path d="M498.19 62.66V74.59H498.19" stroke="rgb(85,200,200)" stroke-width="1.1" fill="none"/>
<path d="M498.19 74.59V86.52H498.19" stroke="rgb(85,200,200)" stroke-width="1.1" fill="none"/>
<path d="M498.19 86.52V98.45H498.19" stroke="rgb(85,200,200)" stroke-width="1.1" fill="none"/>
<path d="M498.19 98.45V110.39H498.19" stroke="rgb(85,200,200)" stroke-width="1.1" fill="none"/>
<path d="M498.19 110.39V122.32H498.19" stroke="rgb(85,200,200)" stroke-width="1.1" fill="none"/>
<path d="M498.19 122.32V134.25H498.19" stroke="rgb(85,200,200)" stroke-width="1.1" fill="none"/>
<path d="M498.19 134.25V146.18H498.19" stroke="rgb(85,200,200)" stroke-width="1.1" fill="none"/>
<path d="M498.19 146.18V158.11H498.19" stroke="rgb(85,200,200)" stroke-width="1.1" fill="none"/>
<path d="M498.19 158.11V170.05H498.19" stroke="rgb(85,200,200)" stroke-width="1.1" fill="none"/>
<path d="M498.19 170.05V181.98H498.19" stroke="rgb(85,200,200)" stroke-width="1.1" fill="none"/>
<path d="M498.19 181.98V193.91H498.19" stroke="rgb(85,200,200)" stroke-width="1.1" fill="none"/>
<path d="M498.19 193.91V205.84H498.19" stroke="rgb(85,200,200)" stroke-width="1.1" fill="none"/>
<path d="M498.19 205.84V217.77H498.19" stroke="rgb(85,200,200)" stroke-width="1.1" fill="none"/>
<path d="M498.19 217.77V229.7H498.19" stroke="rgb(85,200,200)" stroke-width="1.1" fill="none"/>
<path d="M498.19 229.7V241.64H498.19" stroke="rgb(85,200,200)" stroke-width="1.1" fill="none"/>
<path d="M498.19 241.64V253.57H498.19" stroke="rgb(85,200,200)" stroke-width="1.1" fill="none"/>
<path d="M498.19 253.57V265.5" stroke="rgb(85,200,200)" stroke-width="1.1" fill="none"/>
<line x1="516.16" y1="3" x2="516.16" y2="14.93" stroke="rgb(80,195,195)" stroke-width="1.1" stroke-dasharray="3.8 2.45" stroke-dashoffset="2.95"/>
<line x1="516.16" y1="14.93" x2="516.16" y2="26.86" stroke="rgb(80,195,195)" stroke-width="1.1" stroke-dasharray="3.8 2.45" stroke-dashoffset="2.38"/>
<line x1="516.16" y1="26.86" x2="516.16" y2="38.8" stroke="rgb(80,195,195)" stroke-width="1.1" stroke-dasharray="3.8 2.45" stroke-dashoffset="1.81"/>
<line x1="516.16" y1="38.8" x2="516.16" y2="50.73" stroke="rgb(80,195,195)" stroke-width="1.1" stroke-dasharray="3.8 2.45" stroke-dashoffset="1.25"/>
<line x1="516.16" y1="50.73" x2="516.16" y2="62.66" stroke="rgb(80,195,195)" stroke-width="1.1" stroke-dasharray="3.8 2.45" stroke-dashoffset="0.68"/>
<line x1="516.16" y1="62.66" x2="516.16" y2="74.59" stroke="rgb(80,195,195)" stroke-width="1.1" stroke-dasharray="3.8 2.45" stroke-dashoffset="0.11"/>
<line x1="516.16" y1="74.59" x2="516.16" y2="86.52" stroke="rgb(80,195,195)" stroke-width="1.1" stroke-dasharray="3.8 2.45" stroke-dashoffset="5.79"/>
<line x1="516.16" y1="86.52" x2="516.16" y2="98.45" stroke="rgb(80,195,195)" stroke-width="1.1" stroke-dasharray="3.8 2.45" stroke-dashoffset="5.22"/>
<line x1="516.16" y1="98.45" x2="516.16" y2="110.39" stroke="rgb(80,195,195)" stroke-width="1.1" stroke-dasharray="3.8 2.45" stroke-dashoffset="4.65"/>
<line x1="516.16" y1="110.39" x2="516.16" y2="122.32" stroke="rgb(80,195,195)" stroke-width="1.1" stroke-dasharray="3.8 2.45" stroke-dashoffset="4.09"/>
<line x1="516.16" y1="122.32" x2="516.16" y2="134.25" stroke="rgb(80,195,195)" stroke-width="1.1" stroke-dasharray="3.8 2.45" stroke-dashoffset="3.52"/>
<line x1="516.16" y1="134.25" x2="516.16" y2="146.18" stroke="rgb(200,196,190)" stroke-width="1.1" stroke-dasharray="3.8 2.45" stroke-dashoffset="2.95"/>
<line x1="516.16" y1="146.18" x2="516.16" y2="158.11" stroke="rgb(80,195,195)" stroke-width="1.1" stroke-dasharray="3.8 2.45" stroke-dashoffset="2.38"/>
<line x1="516.16" y1="158.11" x2="516.16" y2="170.05" stroke="rgb(80,195,195)" stroke-width="1.1" stroke-dasharray="3.8 2.45" stroke-dashoffset="1.81"/>
<line x1="516.16" y1="170.05" x2="516.16" y2="181.98" stroke="rgb(80,195,195)" stroke-width="1.1" stroke-dasharray="3.8 2.45" stroke-dashoffset="1.25"/>
<line x1="516.16" y1="181.98" x2="516.16" y2="193.91" stroke="rgb(90,190,189)" stroke-width="1.1" stroke-dasharray="3.8 2.45" stroke-dashoffset="0.68"/>
<line x1="516.16" y1="193.91" x2="516.16" y2="205.84" stroke="rgb(80,195,195)" stroke-width="1.1" stroke-dasharray="3.8 2.45" stroke-dashoffset="0.11"/>
<line x1="516.16" y1="205.84" x2="516.16" y2="217.77" stroke="rgb(80,195,195)" stroke-width="1.1" stroke-dasharray="3.8 2.45" stroke-dashoffset="5.79"/>
<line x1="516.16" y1="217.77" x2="516.16" y2="229.7" stroke="rgb(80,195,195)" stroke-width="1.1" stroke-dasharray="3.8 2.45" stroke-dashoffset="5.22"/>
<line x1="516.16" y1="229.7" x2="516.16" y2="241.64" stroke="rgb(80,195,195)" stroke-width="1.1" stroke-dasharray="3.8 2.45" stroke-dashoffset="4.65"/>
<line x1="516.16" y1="241.64" x2="516.16" y2="253.57" stroke="rgb(80,195,195)" stroke-width="1.1" stroke-dasharray="3.8 2.45" stroke-dashoffset="4.09"/>
<line x1="516.16" y1="253.57" x2="516.16" y2="265.5" stroke="rgb(200,196,190)" stroke-width="1.1" stroke-dasharray="3.8 2.45" stroke-dashoffset="3.52"/>
<path d="M516.16 3V14.93H516.16" stroke="rgb(85,200,200)" stroke-width="1.1" fill="none"/>
<path d="M516.16 14.93V26.86H516.16" stroke="rgb(85,200,200)" stroke-width="1.1" fill="none"/>
<path d="M516.16 26.86V38.8H516.16" stroke="rgb(85,200,200)" stroke-width="1.1" fill="none"/>
<path d="M516.16 38.8V50.73H516.16" stroke="rgb(85,200,200)" stroke-width="1.1" fill="none"/>
<path d="M516.16 50.73V62.66H516.16" stroke="rgb(85,200,200)" stroke-width="1.1" fill="none"/>
<path d="M516.16 62.66V74.59H516.16" stroke="rgb(85,200,200)" stroke-width="1.1" fill="none"/>
<path d="M516.16 74.59V86.52H516.16" stroke="rgb(85,200,200)" stroke-width="1.1" fill="none"/>
<path d="M516.16 86.52V98.45H516.16" stroke="rgb(85,200,200)" stroke-width="1.1" fill="none"/>
<path d="M516.16 98.45V110.39H516.16" stroke="rgb(85,200,200)" stroke-width="1.1" fill="none"/>
<path d="M516.16 110.39V122.32H516.16" stroke="rgb(85,200,200)" stroke-width="1.1" fill="none"/>
<path d="M516.16 122.32V134.25H519.3" stroke="rgb(85,200,200)" stroke-width="1.1" fill="none"/>
<path d="M519.3 134.25V146.18H516.16" stroke="rgb(168,160,155)" stroke-width="1.1" fill="none"/>
<path d="M516.16 146.18V158.11H516.16" stroke="rgb(85,200,200)" stroke-width="1.1" fill="none"/>
<path d="M516.16 158.11V170.05H516.16" stroke="rgb(85,200,200)" stroke-width="1.1" fill="none"/>
<path d="M516.16 170.05V181.98H516.51" stroke="rgb(85,200,200)" stroke-width="1.1" fill="none"/>
<path d="M516.51 181.98V193.91H516.16" stroke="rgb(88,192,191)" stroke-width="1.1" fill="none"/>
<path d="M516.16 193.91V205.84H516.16" stroke="rgb(85,200,200)" stroke-width="1.1" fill="none"/>
<path d="M516.16 205.84V217.77H516.16" stroke="rgb(85,200,200)" stroke-width="1.1" fill="none"/>
<path d="M516.16 217.77V229.7H516.16" stroke="rgb(85,200,200)" stroke-width="1.1" fill="none"/>
<path d="M516.16 229.7V241.64H516.16" stroke="rgb(85,200,200)" stroke-width="1.1" fill="none"/>
<path d="M516.16 241.64V253.57H519.3" stroke="rgb(85,200,200)" stroke-width="1.1" fill="none"/>
<path d="M519.3 253.57V265.5" stroke="rgb(168,160,155)" stroke-width="1.1" fill="none"/>
<line x1="534.13" y1="3" x2="534.13" y2="14.93" stroke="rgb(80,195,195)" stroke-width="1.1" stroke-dasharray="3.8 2.45" stroke-dashoffset="2.95"/>
<line x1="534.13" y1="14.93" x2="534.13" y2="26.86" stroke="rgb(80,195,195)" stroke-width="1.1" stroke-dasharray="3.8 2.45" stroke-dashoffset="2.38"/>
<line x1="534.13" y1="26.86" x2="534.13" y2="38.8" stroke="rgb(80,195,195)" stroke-width="1.1" stroke-dasharray="3.8 2.45" stroke-dashoffset="1.81"/>
<line x1="534.13" y1="38.8" x2="534.13" y2="50.73" stroke="rgb(200,196,190)" stroke-width="1.1" stroke-dasharray="3.8 2.45" stroke-dashoffset="1.25"/>
<line x1="534.13" y1="50.73" x2="534.13" y2="62.66" stroke="rgb(80,195,195)" stroke-width="1.1" stroke-dasharray="3.8 2.45" stroke-dashoffset="0.68"/>
<line x1="534.13" y1="62.66" x2="534.13" y2="74.59" stroke="rgb(80,195,195)" stroke-width="1.1" stroke-dasharray="3.8 2.45" stroke-dashoffset="0.11"/>
<line x1="534.13" y1="74.59" x2="534.13" y2="86.52" stroke="rgb(80,195,195)" stroke-width="1.1" stroke-dasharray="3.8 2.45" stroke-dashoffset="5.79"/>
<line x1="534.13" y1="86.52" x2="534.13" y2="98.45" stroke="rgb(80,195,195)" stroke-width="1.1" stroke-dasharray="3.8 2.45" stroke-dashoffset="5.22"/>
<line x1="534.13" y1="98.45" x2="534.13" y2="110.39" stroke="rgb(80,195,195)" stroke-width="1.1" stroke-dasharray="3.8 2.45" stroke-dashoffset="4.65"/>
<line x1="534.13" y1="110.39" x2="534.13" y2="122.32" stroke="rgb(80,195,195)" stroke-width="1.1" stroke-dasharray="3.8 2.45" stroke-dashoffset="4.09"/>
<line x1="534.13" y1="122.32" x2="534.13" y2="134.25" stroke="rgb(80,195,195)" stroke-width="1.1" stroke-dasharray="3.8 2.45" stroke-dashoffset="3.52"/>
<line x1="534.13" y1="134.25" x2="534.13" y2="146.18" stroke="rgb(80,195,195)" stroke-width="1.1" stroke-dasharray="3.8 2.45" stroke-dashoffset="2.95"/>
<line x1="534.13" y1="146.18" x2="534.13" y2="158.11" stroke="rgb(80,195,195)" stroke-width="1.1" stroke-dasharray="3.8 2.45" stroke-dashoffset="2.38"/>
<line x1="534.13" y1="158.11" x2="534.13" y2="170.05" stroke="rgb(80,195,195)" stroke-width="1.1" stroke-dasharray="3.8 2.45" stroke-dashoffset="1.81"/>
<line x1="534.13" y1="170.05" x2="534.13" y2="181.98" stroke="rgb(80,195,195)" stroke-width="1.1" stroke-dasharray="3.8 2.45" stroke-dashoffset="1.25"/>
<line x1="534.13" y1="181.98" x2="534.13" y2="193.91" stroke="rgb(80,195,195)" stroke-width="1.1" stroke-dasharray="3.8 2.45" stroke-dashoffset="0.68"/>
<line x1="534.13" y1="193.91" x2="534.13" y2="205.84" stroke="rgb(80,195,195)" stroke-width="1.1" stroke-dasharray="3.8 2.45" stroke-dashoffset="0.11"/>
<line x1="534.13" y1="205.84" x2="534.13" y2="217.77" stroke="rgb(80,195,195)" stroke-width="1.1" stroke-dasharray="3.8 2.45" stroke-dashoffset="5.79"/>
<line x1="534.13" y1="217.77" x2="534.13" y2="229.7" stroke="rgb(80,195,195)" stroke-width="1.1" stroke-dasharray="3.8 2.45" stroke-dashoffset="5.22"/>
<line x1="534.13" y1="229.7" x2="534.13" y2="241.64" stroke="rgb(80,195,195)" stroke-width="1.1" stroke-dasharray="3.8 2.45" stroke-dashoffset="4.65"/>
<line x1="534.13" y1="241.64" x2="534.13" y2="253.57" stroke="rgb(80,195,195)" stroke-width="1.1" stroke-dasharray="3.8 2.45" stroke-dashoffset="4.09"/>
<line x1="534.13" y1="253.57" x2="534.13" y2="265.5" stroke="rgb(80,195,195)" stroke-width="1.1" stroke-dasharray="3.8 2.45" stroke-dashoffset="3.52"/>
<path d="M534.13 3V14.93H534.13" stroke="rgb(85,200,200)" stroke-width="1.1" fill="none"/>
<path d="M534.13 14.93V26.86H534.13" stroke="rgb(85,200,200)" stroke-width="1.1" fill="none"/>
<path d="M534.13 26.86V38.8H537.27" stroke="rgb(85,200,200)" stroke-width="1.1" fill="none"/>
<path d="M537.27 38.8V50.73H534.13" stroke="rgb(168,160,155)" stroke-width="1.1" fill="none"/>
<path d="M534.13 50.73V62.66H534.13" stroke="rgb(85,200,200)" stroke-width="1.1" fill="none"/>
<path d="M534.13 62.66V74.59H534.13" stroke="rgb(85,200,200)" stroke-width="1.1" fill="none"/>
<path d="M534.13 74.59V86.52H534.13" stroke="rgb(85,200,200)" stroke-width="1.1" fill="none"/>
<path d="M534.13 86.52V98.45H534.13" stroke="rgb(85,200,200)" stroke-width="1.1" fill="none"/>
<path d="M534.13 98.45V110.39H534.13" stroke="rgb(85,200,200)" stroke-width="1.1" fill="none"/>
<path d="M534.13 110.39V122.32H534.13" stroke="rgb(85,200,200)" stroke-width="1.1" fill="none"/>
<path d="M534.13 122.32V134.25H534.13" stroke="rgb(85,200,200)" stroke-width="1.1" fill="none"/>
<path d="M534.13 134.25V146.18H534.13" stroke="rgb(85,200,200)" stroke-width="1.1" fill="none"/>
<path d="M534.13 146.18V158.11H534.13" stroke="rgb(85,200,200)" stroke-width="1.1" fill="none"/>
<path d="M534.13 158.11V170.05H534.13" stroke="rgb(85,200,200)" stroke-width="1.1" fill="none"/>
<path d="M534.13 170.05V181.98H534.13" stroke="rgb(85,200,200)" stroke-width="1.1" fill="none"/>
<path d="M534.13 181.98V193.91H534.13" stroke="rgb(85,200,200)" stroke-width="1.1" fill="none"/>
<path d="M534.13 193.91V205.84H534.13" stroke="rgb(85,200,200)" stroke-width="1.1" fill="none"/>
<path d="M534.13 205.84V217.77H534.13" stroke="rgb(85,200,200)" stroke-width="1.1" fill="none"/>
<path d="M534.13 217.77V229.7H534.13" stroke="rgb(85,200,200)" stroke-width="1.1" fill="none"/>
<path d="M534.13 229.7V241.64H534.13" stroke="rgb(85,200,200)" stroke-width="1.1" fill="none"/>
<path d="M534.13 241.64V253.57H534.13" stroke="rgb(85,200,200)" stroke-width="1.1" fill="none"/>
<path d="M534.13 253.57V265.5" stroke="rgb(85,200,200)" stroke-width="1.1" fill="none"/>
<line x1="552.1" y1="3" x2="552.1" y2="14.93" stroke="rgb(80,195,195)" stroke-width="1.1" stroke-dasharray="3.8 2.45" stroke-dashoffset="2.95"/>
<line x1="552.1" y1="14.93" x2="552.1" y2="26.86" stroke="rgb(80,195,195)" stroke-width="1.1" stroke-dasharray="3.8 2.45" stroke-dashoffset="2.38"/>
<line x1="552.1" y1="26.86" x2="552.1" y2="38.8" stroke="rgb(80,195,195)" stroke-width="1.1" stroke-dasharray="3.8 2.45" stroke-dashoffset="1.81"/>
<line x1="552.1" y1="38.8" x2="552.1" y2="50.73" stroke="rgb(200,196,190)" stroke-width="1.1" stroke-dasharray="3.8 2.45" stroke-dashoffset="1.25"/>
<line x1="552.1" y1="50.73" x2="552.1" y2="62.66" stroke="rgb(80,195,195)" stroke-width="1.1" stroke-dasharray="3.8 2.45" stroke-dashoffset="0.68"/>
<line x1="552.1" y1="62.66" x2="552.1" y2="74.59" stroke="rgb(80,195,195)" stroke-width="1.1" stroke-dasharray="3.8 2.45" stroke-dashoffset="0.11"/>
<line x1="552.1" y1="74.59" x2="552.1" y2="86.52" stroke="rgb(80,195,195)" stroke-width="1.1" stroke-dasharray="3.8 2.45" stroke-dashoffset="5.79"/>
<line x1="552.1" y1="86.52" x2="552.1" y2="98.45" stroke="rgb(80,195,195)" stroke-width="1.1" stroke-dasharray="3.8 2.45" stroke-dashoffset="5.22"/>
<line x1="552.1" y1="98.45" x2="552.1" y2="110.39" stroke="rgb(80,195,195)" stroke-width="1.1" stroke-dasharray="3.8 2.45" stroke-dashoffset="4.65"/>
<line x1="552.1" y1="110.39" x2="552.1" y2="122.32" stroke="rgb(80,195,195)" stroke-width="1.1" stroke-dasharray="3.8 2.45" stroke-dashoffset="4.09"/>
<line x1="552.1" y1="122.32" x2="552.1" y2="134.25" stroke="rgb(80,195,195)" stroke-width="1.1" stroke-dasharray="3.8 2.45" stroke-dashoffset="3.52"/>
<line x1="552.1" y1="134.25" x2="552.1" y2="146.18" stroke="rgb(80,195,195)" stroke-width="1.1" stroke-dasharray="3.8 2.45" stroke-dashoffset="2.95"/>
<line x1="552.1" y1="146.18" x2="552.1" y2="158.11" stroke="rgb(80,195,195)" stroke-width="1.1" stroke-dasharray="3.8 2.45" stroke-dashoffset="2.38"/>
<line x1="552.1" y1="158.11" x2="552.1" y2="170.05" stroke="rgb(80,195,195)" stroke-width="1.1" stroke-dasharray="3.8 2.45" stroke-dashoffset="1.81"/>
<line x1="552.1" y1="170.05" x2="552.1" y2="181.98" stroke="rgb(80,195,195)" stroke-width="1.1" stroke-dasharray="3.8 2.45" stroke-dashoffset="1.25"/>
<line x1="552.1" y1="181.98" x2="552.1" y2="193.91" stroke="rgb(90,190,189)" stroke-width="1.1" stroke-dasharray="3.8 2.45" stroke-dashoffset="0.68"/>
<line x1="552.1" y1="193.91" x2="552.1" y2="205.84" stroke="rgb(80,195,195)" stroke-width="1.1" stroke-dasharray="3.8 2.45" stroke-dashoffset="0.11"/>
<line x1="552.1" y1="205.84" x2="552.1" y2="217.77" stroke="rgb(80,195,195)" stroke-width="1.1" stroke-dasharray="3.8 2.45" stroke-dashoffset="5.79"/>
<line x1="552.1" y1="217.77" x2="552.1" y2="229.7" stroke="rgb(80,195,195)" stroke-width="1.1" stroke-dasharray="3.8 2.45" stroke-dashoffset="5.22"/>
<line x1="552.1" y1="229.7" x2="552.1" y2="241.64" stroke="rgb(80,195,195)" stroke-width="1.1" stroke-dasharray="3.8 2.45" stroke-dashoffset="4.65"/>
<line x1="552.1" y1="241.64" x2="552.1" y2="253.57" stroke="rgb(80,195,195)" stroke-width="1.1" stroke-dasharray="3.8 2.45" stroke-dashoffset="4.09"/>
<line x1="552.1" y1="253.57" x2="552.1" y2="265.5" stroke="rgb(90,190,189)" stroke-width="1.1" stroke-dasharray="3.8 2.45" stroke-dashoffset="3.52"/>
<path d="M552.1 3V14.93H552.1" stroke="rgb(85,200,200)" stroke-width="1.1" fill="none"/>
<path d="M552.1 14.93V26.86H552.1" stroke="rgb(85,200,200)" stroke-width="1.1" fill="none"/>
<path d="M552.1 26.86V38.8H555.25" stroke="rgb(85,200,200)" stroke-width="1.1" fill="none"/>
<path d="M555.25 38.8V50.73H552.1" stroke="rgb(168,160,155)" stroke-width="1.1" fill="none"/>
<path d="M552.1 50.73V62.66H552.1" stroke="rgb(85,200,200)" stroke-width="1.1" fill="none"/>
<path d="M552.1 62.66V74.59H552.1" stroke="rgb(85,200,200)" stroke-width="1.1" fill="none"/>
<path d="M552.1 74.59V86.52H552.1" stroke="rgb(85,200,200)" stroke-width="1.1" fill="none"/>
<path d="M552.1 86.52V98.45H552.1" stroke="rgb(85,200,200)" stroke-width="1.1" fill="none"/>
<path d="M552.1 98.45V110.39H552.1" stroke="rgb(85,200,200)" stroke-width="1.1" fill="none"/>
<path d="M552.1 110.39V122.32H552.1" stroke="rgb(85,200,200)" stroke-width="1.1" fill="none"/>
<path d="M552.1 122.32V134.25H552.1" stroke="rgb(85,200,200)" stroke-width="1.1" fill="none"/>
<path d="M552.1 134.25V146.18H552.1" stroke="rgb(85,200,200)" stroke-width="1.1" fill="none"/>
<path d="M552.1 146.18V158.11H552.1" stroke="rgb(85,200,200)" stroke-width="1.1" fill="none"/>
<path d="M552.1 158.11V170.05H552.1" stroke="rgb(85,200,200)" stroke-width="1.1" fill="none"/>
<path d="M552.1 170.05V181.98H552.45" stroke="rgb(85,200,200)" stroke-width="1.1" fill="none"/>
<path d="M552.45 181.98V193.91H552.1" stroke="rgb(88,192,191)" stroke-width="1.1" fill="none"/>
<path d="M552.1 193.91V205.84H552.1" stroke="rgb(85,200,200)" stroke-width="1.1" fill="none"/>
<path d="M552.1 205.84V217.77H552.1" stroke="rgb(85,200,200)" stroke-width="1.1" fill="none"/>
<path d="M552.1 217.77V229.7H552.1" stroke="rgb(85,200,200)" stroke-width="1.1" fill="none"/>
<path d="M552.1 229.7V241.64H552.1" stroke="rgb(85,200,200)" stroke-width="1.1" fill="none"/>
<path d="M552.1 241.64V253.57H552.45" stroke="rgb(85,200,200)" stroke-width="1.1" fill="none"/>
<path d="M552.45 253.57V265.5" stroke="rgb(88,192,191)" stroke-width="1.1" fill="none"/>
<line x1="570.07" y1="3" x2="570.07" y2="14.93" stroke="rgb(80,195,195)" stroke-width="1.1" stroke-dasharray="3.8 2.45" stroke-dashoffset="2.95"/>
<line x1="570.07" y1="14.93" x2="570.07" y2="26.86" stroke="rgb(80,195,195)" stroke-width="1.1" stroke-dasharray="3.8 2.45" stroke-dashoffset="2.38"/>
<line x1="570.07" y1="26.86" x2="570.07" y2="38.8" stroke="rgb(80,195,195)" stroke-width="1.1" stroke-dasharray="3.8 2.45" stroke-dashoffset="1.81"/>
<line x1="570.07" y1="38.8" x2="570.07" y2="50.73" stroke="rgb(80,195,195)" stroke-width="1.1" stroke-dasharray="3.8 2.45" stroke-dashoffset="1.25"/>
<line x1="570.07" y1="50.73" x2="570.07" y2="62.66" stroke="rgb(80,195,195)" stroke-width="1.1" stroke-dasharray="3.8 2.45" stroke-dashoffset="0.68"/>
<line x1="570.07" y1="62.66" x2="570.07" y2="74.59" stroke="rgb(80,195,195)" stroke-width="1.1" stroke-dasharray="3.8 2.45" stroke-dashoffset="0.11"/>
<line x1="570.07" y1="74.59" x2="570.07" y2="86.52" stroke="rgb(80,195,195)" stroke-width="1.1" stroke-dasharray="3.8 2.45" stroke-dashoffset="5.79"/>
<line x1="570.07" y1="86.52" x2="570.07" y2="98.45" stroke="rgb(80,195,195)" stroke-width="1.1" stroke-dasharray="3.8 2.45" stroke-dashoffset="5.22"/>
<line x1="570.07" y1="98.45" x2="570.07" y2="110.39" stroke="rgb(80,195,195)" stroke-width="1.1" stroke-dasharray="3.8 2.45" stroke-dashoffset="4.65"/>
<line x1="570.07" y1="110.39" x2="570.07" y2="122.32" stroke="rgb(80,195,195)" stroke-width="1.1" stroke-dasharray="3.8 2.45" stroke-dashoffset="4.09"/>
<line x1="570.07" y1="122.32" x2="570.07" y2="134.25" stroke="rgb(80,195,195)" stroke-width="1.1" stroke-dasharray="3.8 2.45" stroke-dashoffset="3.52"/>
<line x1="570.07" y1="134.25" x2="570.07" y2="146.18" stroke="rgb(90,190,189)" stroke-width="1.1" stroke-dasharray="3.8 2.45" stroke-dashoffset="2.95"/>
<line x1="570.07" y1="146.18" x2="570.07" y2="158.11" stroke="rgb(80,195,195)" stroke-width="1.1" stroke-dasharray="3.8 2.45" stroke-dashoffset="2.38"/>
<line x1="570.07" y1="158.11" x2="570.07" y2="170.05" stroke="rgb(200,196,190)" stroke-width="1.1" stroke-dasharray="3.8 2.45" stroke-dashoffset="1.81"/>
<line x1="570.07" y1="170.05" x2="570.07" y2="181.98" stroke="rgb(200,196,190)" stroke-width="1.1" stroke-dasharray="3.8 2.45" stroke-dashoffset="1.25"/>
<line x1="570.07" y1="181.98" x2="570.07" y2="193.91" stroke="rgb(80,195,195)" stroke-width="1.1" stroke-dasharray="3.8 2.45" stroke-dashoffset="0.68"/>
<line x1="570.07" y1="193.91" x2="570.07" y2="205.84" stroke="rgb(80,195,195)" stroke-width="1.1" stroke-dasharray="3.8 2.45" stroke-dashoffset="0.11"/>
<line x1="570.07" y1="205.84" x2="570.07" y2="217.77" stroke="rgb(80,195,195)" stroke-width="1.1" stroke-dasharray="3.8 2.45" stroke-dashoffset="5.79"/>
<line x1="570.07" y1="217.77" x2="570.07" y2="229.7" stroke="rgb(80,195,195)" stroke-width="1.1" stroke-dasharray="3.8 2.45" stroke-dashoffset="5.22"/>
<line x1="570.07" y1="229.7" x2="570.07" y2="241.64" stroke="rgb(80,195,195)" stroke-width="1.1" stroke-dasharray="3.8 2.45" stroke-dashoffset="4.65"/>
<line x1="570.07" y1="241.64" x2="570.07" y2="253.57" stroke="rgb(80,195,195)" stroke-width="1.1" stroke-dasharray="3.8 2.45" stroke-dashoffset="4.09"/>
<line x1="570.07" y1="253.57" x2="570.07" y2="265.5" stroke="rgb(200,196,190)" stroke-width="1.1" stroke-dasharray="3.8 2.45" stroke-dashoffset="3.52"/>
<path d="M570.07 3V14.93H570.07" stroke="rgb(85,200,200)" stroke-width="1.1" fill="none"/>
<path d="M570.07 14.93V26.86H570.07" stroke="rgb(85,200,200)" stroke-width="1.1" fill="none"/>
<path d="M570.07 26.86V38.8H570.07" stroke="rgb(85,200,200)" stroke-width="1.1" fill="none"/>
<path d="M570.07 38.8V50.73H570.07" stroke="rgb(85,200,200)" stroke-width="1.1" fill="none"/>
<path d="M570.07 50.73V62.66H570.07" stroke="rgb(85,200,200)" stroke-width="1.1" fill="none"/>
<path d="M570.07 62.66V74.59H570.07" stroke="rgb(85,200,200)" stroke-width="1.1" fill="none"/>
<path d="M570.07 74.59V86.52H570.07" stroke="rgb(85,200,200)" stroke-width="1.1" fill="none"/>
<path d="M570.07 86.52V98.45H570.07" stroke="rgb(85,200,200)" stroke-width="1.1" fill="none"/>
<path d="M570.07 98.45V110.39H570.07" stroke="rgb(85,200,200)" stroke-width="1.1" fill="none"/>
<path d="M570.07 110.39V122.32H570.07" stroke="rgb(85,200,200)" stroke-width="1.1" fill="none"/>
<path d="M570.07 122.32V134.25H570.42" stroke="rgb(85,200,200)" stroke-width="1.1" fill="none"/>
<path d="M570.42 134.25V146.18H570.07" stroke="rgb(88,192,191)" stroke-width="1.1" fill="none"/>
<path d="M570.07 146.18V158.11H573.22" stroke="rgb(85,200,200)" stroke-width="1.1" fill="none"/>
<path d="M573.22 158.11V170.05H573.22" stroke="rgb(168,160,155)" stroke-width="1.1" fill="none"/>
<path d="M573.22 170.05V181.98H570.07" stroke="rgb(168,160,155)" stroke-width="1.1" fill="none"/>
<path d="M570.07 181.98V193.91H570.07" stroke="rgb(85,200,200)" stroke-width="1.1" fill="none"/>
<path d="M570.07 193.91V205.84H570.07" stroke="rgb(85,200,200)" stroke-width="1.1" fill="none"/>
<path d="M570.07 205.84V217.77H570.07" stroke="rgb(85,200,200)" stroke-width="1.1" fill="none"/>
<path d="M570.07 217.77V229.7H570.07" stroke="rgb(85,200,200)" stroke-width="1.1" fill="none"/>
<path d="M570.07 229.7V241.64H570.07" stroke="rgb(85,200,200)" stroke-width="1.1" fill="none"/>
<path d="M570.07 241.64V253.57H573.22" stroke="rgb(85,200,200)" stroke-width="1.1" fill="none"/>
<path d="M573.22 253.57V265.5" stroke="rgb(168,160,155)" stroke-width="1.1" fill="none"/>
<line x1="588.04" y1="3" x2="588.04" y2="14.93" stroke="rgb(80,195,195)" stroke-width="1.1" stroke-dasharray="3.8 2.45" stroke-dashoffset="2.95"/>
<line x1="588.04" y1="14.93" x2="588.04" y2="26.86" stroke="rgb(80,195,195)" stroke-width="1.1" stroke-dasharray="3.8 2.45" stroke-dashoffset="2.38"/>
<line x1="588.04" y1="26.86" x2="588.04" y2="38.8" stroke="rgb(80,195,195)" stroke-width="1.1" stroke-dasharray="3.8 2.45" stroke-dashoffset="1.81"/>
<line x1="588.04" y1="38.8" x2="588.04" y2="50.73" stroke="rgb(80,195,195)" stroke-width="1.1" stroke-dasharray="3.8 2.45" stroke-dashoffset="1.25"/>
<line x1="588.04" y1="50.73" x2="588.04" y2="62.66" stroke="rgb(80,195,195)" stroke-width="1.1" stroke-dasharray="3.8 2.45" stroke-dashoffset="0.68"/>
<line x1="588.04" y1="62.66" x2="588.04" y2="74.59" stroke="rgb(80,195,195)" stroke-width="1.1" stroke-dasharray="3.8 2.45" stroke-dashoffset="0.11"/>
<line x1="588.04" y1="74.59" x2="588.04" y2="86.52" stroke="rgb(80,195,195)" stroke-width="1.1" stroke-dasharray="3.8 2.45" stroke-dashoffset="5.79"/>
<line x1="588.04" y1="86.52" x2="588.04" y2="98.45" stroke="rgb(80,195,195)" stroke-width="1.1" stroke-dasharray="3.8 2.45" stroke-dashoffset="5.22"/>
<line x1="588.04" y1="98.45" x2="588.04" y2="110.39" stroke="rgb(80,195,195)" stroke-width="1.1" stroke-dasharray="3.8 2.45" stroke-dashoffset="4.65"/>
<line x1="588.04" y1="110.39" x2="588.04" y2="122.32" stroke="rgb(200,196,190)" stroke-width="1.1" stroke-dasharray="3.8 2.45" stroke-dashoffset="4.09"/>
<line x1="588.04" y1="122.32" x2="588.04" y2="134.25" stroke="rgb(80,195,195)" stroke-width="1.1" stroke-dasharray="3.8 2.45" stroke-dashoffset="3.52"/>
<line x1="588.04" y1="134.25" x2="588.04" y2="146.18" stroke="rgb(80,195,195)" stroke-width="1.1" stroke-dasharray="3.8 2.45" stroke-dashoffset="2.95"/>
<line x1="588.04" y1="146.18" x2="588.04" y2="158.11" stroke="rgb(80,195,195)" stroke-width="1.1" stroke-dasharray="3.8 2.45" stroke-dashoffset="2.38"/>
<line x1="588.04" y1="158.11" x2="588.04" y2="170.05" stroke="rgb(80,195,195)" stroke-width="1.1" stroke-dasharray="3.8 2.45" stroke-dashoffset="1.81"/>
<line x1="588.04" y1="170.05" x2="588.04" y2="181.98" stroke="rgb(80,195,195)" stroke-width="1.1" stroke-dasharray="3.8 2.45" stroke-dashoffset="1.25"/>
<line x1="588.04" y1="181.98" x2="588.04" y2="193.91" stroke="rgb(80,195,195)" stroke-width="1.1" stroke-dasharray="3.8 2.45" stroke-dashoffset="0.68"/>
<line x1="588.04" y1="193.91" x2="588.04" y2="205.84" stroke="rgb(80,195,195)" stroke-width="1.1" stroke-dasharray="3.8 2.45" stroke-dashoffset="0.11"/>
<line x1="588.04" y1="205.84" x2="588.04" y2="217.77" stroke="rgb(80,195,195)" stroke-width="1.1" stroke-dasharray="3.8 2.45" stroke-dashoffset="5.79"/>
<line x1="588.04" y1="217.77" x2="588.04" y2="229.7" stroke="rgb(80,195,195)" stroke-width="1.1" stroke-dasharray="3.8 2.45" stroke-dashoffset="5.22"/>
<line x1="588.04" y1="229.7" x2="588.04" y2="241.64" stroke="rgb(80,195,195)" stroke-width="1.1" stroke-dasharray="3.8 2.45" stroke-dashoffset="4.65"/>
<line x1="588.04" y1="241.64" x2="588.04" y2="253.57" stroke="rgb(80,195,195)" stroke-width="1.1" stroke-dasharray="3.8 2.45" stroke-dashoffset="4.09"/>
<line x1="588.04" y1="253.57" x2="588.04" y2="265.5" stroke="rgb(255,140,140)" stroke-width="1.1" stroke-dasharray="3.8 2.45" stroke-dashoffset="3.52"/>
<path d="M588.04 3V14.93H588.04" stroke="rgb(85,200,200)" stroke-width="1.1" fill="none"/>
<path d="M588.04 14.93V26.86H588.04" stroke="rgb(85,200,200)" stroke-width="1.1" fill="none"/>
<path d="M588.04 26.86V38.8H588.04" stroke="rgb(85,200,200)" stroke-width="1.1" fill="none"/>
<path d="M588.04 38.8V50.73H588.04" stroke="rgb(85,200,200)" stroke-width="1.1" fill="none"/>
<path d="M588.04 50.73V62.66H588.04" stroke="rgb(85,200,200)" stroke-width="1.1" fill="none"/>
<path d="M588.04 62.66V74.59H588.04" stroke="rgb(85,200,200)" stroke-width="1.1" fill="none"/>
<path d="M588.04 74.59V86.52H588.04" stroke="rgb(85,200,200)" stroke-width="1.1" fill="none"/>
<path d="M588.04 86.52V98.45H588.04" stroke="rgb(85,200,200)" stroke-width="1.1" fill="none"/>
<path d="M588.04 98.45V110.39H591.19" stroke="rgb(85,200,200)" stroke-width="1.1" fill="none"/>
<path d="M591.19 110.39V122.32H588.04" stroke="rgb(168,160,155)" stroke-width="1.1" fill="none"/>
<path d="M588.04 122.32V134.25H588.04" stroke="rgb(85,200,200)" stroke-width="1.1" fill="none"/>
<path d="M588.04 134.25V146.18H588.04" stroke="rgb(85,200,200)" stroke-width="1.1" fill="none"/>
<path d="M588.04 146.18V158.11H588.04" stroke="rgb(85,200,200)" stroke-width="1.1" fill="none"/>
<path d="M588.04 158.11V170.05H588.04" stroke="rgb(85,200,200)" stroke-width="1.1" fill="none"/>
<path d="M588.04 170.05V181.98H588.04" stroke="rgb(85,200,200)" stroke-width="1.1" fill="none"/>
<path d="M588.04 181.98V193.91H588.04" stroke="rgb(85,200,200)" stroke-width="1.1" fill="none"/>
<path d="M588.04 193.91V205.84H588.04" stroke="rgb(85,200,200)" stroke-width="1.1" fill="none"/>
<path d="M588.04 205.84V217.77H588.04" stroke="rgb(85,200,200)" stroke-width="1.1" fill="none"/>
<path d="M588.04 217.77V229.7H588.04" stroke="rgb(85,200,200)" stroke-width="1.1" fill="none"/>
<path d="M588.04 229.7V241.64H588.04" stroke="rgb(85,200,200)" stroke-width="1.1" fill="none"/>
<path d="M588.04 241.64V253.57H596.76" stroke="rgb(85,200,200)" stroke-width="1.1" fill="none"/>
<path d="M596.76 253.57V265.5" stroke="rgb(255,160,160)" stroke-width="1.1" fill="none"/>
<line x1="606.01" y1="3" x2="606.01" y2="14.93" stroke="rgb(80,195,195)" stroke-width="1.1" stroke-dasharray="3.8 2.45" stroke-dashoffset="2.95"/>
<line x1="606.01" y1="14.93" x2="606.01" y2="26.86" stroke="rgb(80,195,195)" stroke-width="1.1" stroke-dasharray="3.8 2.45" stroke-dashoffset="2.38"/>
<line x1="606.01" y1="26.86" x2="606.01" y2="38.8" stroke="rgb(80,195,195)" stroke-width="1.1" stroke-dasharray="3.8 2.45" stroke-dashoffset="1.81"/>
<line x1="606.01" y1="38.8" x2="606.01" y2="50.73" stroke="rgb(80,195,195)" stroke-width="1.1" stroke-dasharray="3.8 2.45" stroke-dashoffset="1.25"/>
<line x1="606.01" y1="50.73" x2="606.01" y2="62.66" stroke="rgb(80,195,195)" stroke-width="1.1" stroke-dasharray="3.8 2.45" stroke-dashoffset="0.68"/>
<line x1="606.01" y1="62.66" x2="606.01" y2="74.59" stroke="rgb(80,195,195)" stroke-width="1.1" stroke-dasharray="3.8 2.45" stroke-dashoffset="0.11"/>
<line x1="606.01" y1="74.59" x2="606.01" y2="86.52" stroke="rgb(80,195,195)" stroke-width="1.1" stroke-dasharray="3.8 2.45" stroke-dashoffset="5.79"/>
<line x1="606.01" y1="86.52" x2="606.01" y2="98.45" stroke="rgb(80,195,195)" stroke-width="1.1" stroke-dasharray="3.8 2.45" stroke-dashoffset="5.22"/>
<line x1="606.01" y1="98.45" x2="606.01" y2="110.39" stroke="rgb(80,195,195)" stroke-width="1.1" stroke-dasharray="3.8 2.45" stroke-dashoffset="4.65"/>
<line x1="606.01" y1="110.39" x2="606.01" y2="122.32" stroke="rgb(80,195,195)" stroke-width="1.1" stroke-dasharray="3.8 2.45" stroke-dashoffset="4.09"/>
<line x1="606.01" y1="122.32" x2="606.01" y2="134.25" stroke="rgb(200,196,190)" stroke-width="1.1" stroke-dasharray="3.8 2.45" stroke-dashoffset="3.52"/>
<line x1="606.01" y1="134.25" x2="606.01" y2="146.18" stroke="rgb(80,195,195)" stroke-width="1.1" stroke-dasharray="3.8 2.45" stroke-dashoffset="2.95"/>
<line x1="606.01" y1="146.18" x2="606.01" y2="158.11" stroke="rgb(80,195,195)" stroke-width="1.1" stroke-dasharray="3.8 2.45" stroke-dashoffset="2.38"/>
<line x1="606.01" y1="158.11" x2="606.01" y2="170.05" stroke="rgb(80,195,195)" stroke-width="1.1" stroke-dasharray="3.8 2.45" stroke-dashoffset="1.81"/>
<line x1="606.01" y1="170.05" x2="606.01" y2="181.98" stroke="rgb(80,195,195)" stroke-width="1.1" stroke-dasharray="3.8 2.45" stroke-dashoffset="1.25"/>
<line x1="606.01" y1="181.98" x2="606.01" y2="193.91" stroke="rgb(80,195,195)" stroke-width="1.1" stroke-dasharray="3.8 2.45" stroke-dashoffset="0.68"/>
<line x1="606.01" y1="193.91" x2="606.01" y2="205.84" stroke="rgb(80,195,195)" stroke-width="1.1" stroke-dasharray="3.8 2.45" stroke-dashoffset="0.11"/>
<line x1="606.01" y1="205.84" x2="606.01" y2="217.77" stroke="rgb(80,195,195)" stroke-width="1.1" stroke-dasharray="3.8 2.45" stroke-dashoffset="5.79"/>
<line x1="606.01" y1="217.77" x2="606.01" y2="229.7" stroke="rgb(80,195,195)" stroke-width="1.1" stroke-dasharray="3.8 2.45" stroke-dashoffset="5.22"/>
<line x1="606.01" y1="229.7" x2="606.01" y2="241.64" stroke="rgb(80,195,195)" stroke-width="1.1" stroke-dasharray="3.8 2.45" stroke-dashoffset="4.65"/>
<line x1="606.01" y1="241.64" x2="606.01" y2="253.57" stroke="rgb(80,195,195)" stroke-width="1.1" stroke-dasharray="3.8 2.45" stroke-dashoffset="4.09"/>
<line x1="606.01" y1="253.57" x2="606.01" y2="265.5" stroke="rgb(255,140,140)" stroke-width="1.1" stroke-dasharray="3.8 2.45" stroke-dashoffset="3.52"/>
<path d="M606.01 3V14.93H606.01" stroke="rgb(85,200,200)" stroke-width="1.1" fill="none"/>
<path d="M606.01 14.93V26.86H606.01" stroke="rgb(85,200,200)" stroke-width="1.1" fill="none"/>
<path d="M606.01 26.86V38.8H606.01" stroke="rgb(85,200,200)" stroke-width="1.1" fill="none"/>
<path d="M606.01 38.8V50.73H606.01" stroke="rgb(85,200,200)" stroke-width="1.1" fill="none"/>
<path d="M606.01 50.73V62.66H606.01" stroke="rgb(85,200,200)" stroke-width="1.1" fill="none"/>
<path d="M606.01 62.66V74.59H606.01" stroke="rgb(85,200,200)" stroke-width="1.1" fill="none"/>
<path d="M606.01 74.59V86.52H606.01" stroke="rgb(85,200,200)" stroke-width="1.1" fill="none"/>
<path d="M606.01 86.52V98.45H606.01" stroke="rgb(85,200,200)" stroke-width="1.1" fill="none"/>
<path d="M606.01 98.45V110.39H606.01" stroke="rgb(85,200,200)" stroke-width="1.1" fill="none"/>
<path d="M606.01 110.39V122.32H609.16" stroke="rgb(85,200,200)" stroke-width="1.1" fill="none"/>
<path d="M609.16 122.32V134.25H606.01" stroke="rgb(168,160,155)" stroke-width="1.1" fill="none"/>
<path d="M606.01 134.25V146.18H606.01" stroke="rgb(85,200,200)" stroke-width="1.1" fill="none"/>
<path d="M606.01 146.18V158.11H606.01" stroke="rgb(85,200,200)" stroke-width="1.1" fill="none"/>
<path d="M606.01 158.11V170.05H606.01" stroke="rgb(85,200,200)" stroke-width="1.1" fill="none"/>
<path d="M606.01 170.05V181.98H606.01" stroke="rgb(85,200,200)" stroke-width="1.1" fill="none"/>
<path d="M606.01 181.98V193.91H606.01" stroke="rgb(85,200,200)" stroke-width="1.1" fill="none"/>
<path d="M606.01 193.91V205.84H606.01" stroke="rgb(85,200,200)" stroke-width="1.1" fill="none"/>
<path d="M606.01 205.84V217.77H606.01" stroke="rgb(85,200,200)" stroke-width="1.1" fill="none"/>
<path d="M606.01 217.77V229.7H606.01" stroke="rgb(85,200,200)" stroke-width="1.1" fill="none"/>
<path d="M606.01 229.7V241.64H606.01" stroke="rgb(85,200,200)" stroke-width="1.1" fill="none"/>
<path d="M606.01 241.64V253.57H614.73" stroke="rgb(85,200,200)" stroke-width="1.1" fill="none"/>
<path d="M614.73 253.57V265.5" stroke="rgb(255,160,160)" stroke-width="1.1" fill="none"/>
<path d="M485.2 8.97H476.8V20.9H485.2M476.8 14.93H473.3V32.83H485.2M473.3 23.88H468.4V44.76H485.2M485.2 56.69H479.5V68.62H485.2M485.2 80.56H479V92.49H485.2M479 86.52H474.6V104.42H485.2M479.5 62.66H471.4V95.47H474.6M471.4 79.07H466V116.35H485.2M466 97.71H456.4V128.28H485.2M468.4 34.32H453.4V113H456.4M485.2 140.22H470.2V152.15H485.2M485.2 164.08H469.3V176.01H485.2M470.2 146.18H461.6V170.05H469.3M485.2 199.88H485.2V211.81H485.2M485.2 205.84H485.2V223.74H485.2M485.2 214.79H485.2V235.67H485.2M485.2 225.23H474.3V247.6H485.2M485.2 187.94H463.6V236.42H474.3M461.6 158.11H453.8V212.18H463.6M453.4 73.66H443.3V185.15H453.8M443.3 129.4H389.1V259.53H485.2" stroke="#2e2e2e" stroke-width="1.15" fill="none"/>
<text transform="translate(627.8 12.16) scale(0.88 1)" class="rl" font-size="8.88">GmPIP2;7</text>
<text transform="translate(627.8 24.09) scale(0.88 1)" class="rl" font-size="8.88">GmPIP1;3</text>
<text transform="translate(627.8 36.03) scale(0.88 1)" class="rl" font-size="8.88">GmPIP2;10</text>
<text transform="translate(627.8 47.96) scale(0.88 1)" class="rl" font-size="8.88">GmPIP2;11</text>
<text transform="translate(627.8 59.89) scale(0.88 1)" class="rl" font-size="8.88">GmPIP1;1</text>
<text transform="translate(627.8 71.82) scale(0.88 1)" class="rl" font-size="8.88">GmPIP1;7</text>
<text transform="translate(627.8 83.75) scale(0.88 1)" class="rl" font-size="8.88">GmPIP1;5</text>
<text transform="translate(627.8 95.68) scale(0.88 1)" class="rl" font-size="8.88">GmPIP2;8</text>
<text transform="translate(627.8 107.62) scale(0.88 1)" class="rl" font-size="8.88">GmPIP2;4</text>
<text transform="translate(627.8 119.55) scale(0.88 1)" class="rl" font-size="8.88">GmPIP2;13</text>
<text transform="translate(627.8 131.48) scale(0.88 1)" class="rl" font-size="8.88">GmPIP2;14</text>
<text transform="translate(627.8 143.41) scale(0.88 1)" class="rl" font-size="8.88">GmPIP1;2</text>
<text transform="translate(627.8 155.34) scale(0.88 1)" class="rl" font-size="8.88">GmPIP2;5</text>
<text transform="translate(627.8 167.28) scale(0.88 1)" class="rl" font-size="8.88">GmPIP2;2</text>
<text transform="translate(627.8 179.21) scale(0.88 1)" class="rl" font-size="8.88">GmPIP2;6</text>
<text transform="translate(627.8 191.14) scale(0.88 1)" class="rl" font-size="8.88">GmPIP2;1</text>
<text transform="translate(627.8 203.07) scale(0.88 1)" class="rl" font-size="8.88">GmPIP2;12</text>
<text transform="translate(627.8 215) scale(0.88 1)" class="rl" font-size="8.88">GmPIP1;6</text>
<text transform="translate(627.8 226.93) scale(0.88 1)" class="rl" font-size="8.88">GmPIP2;3</text>
<text transform="translate(627.8 238.87) scale(0.88 1)" class="rl" font-size="8.88">GmPIP2;9</text>
<text transform="translate(627.8 250.8) scale(0.88 1)" class="rl" font-size="8.88">GmPIP1;8</text>
<text transform="translate(627.8 262.73) scale(0.88 1)" class="rl" font-size="8.88">GmPIP1;4</text>
<text transform="translate(498.79 276.5) rotate(-45) scale(0.88 1)" class="cl" font-size="8.68">Control_0hr</text>
<text transform="translate(516.76 276.5) rotate(-45) scale(0.88 1)" class="cl" font-size="8.68">Dehydration_1hr</text>
<text transform="translate(534.73 276.5) rotate(-45) scale(0.88 1)" class="cl" font-size="8.68">Dehydration_6hr</text>
<text transform="translate(552.7 276.5) rotate(-45) scale(0.88 1)" class="cl" font-size="8.68">Dehydration_12hr</text>
<text transform="translate(570.67 276.5) rotate(-45) scale(0.88 1)" class="cl" font-size="8.68">Salinity_1hr</text>
<text transform="translate(588.64 276.5) rotate(-45) scale(0.88 1)" class="cl" font-size="8.68">Salinity_6hr</text>
<text transform="translate(606.61 276.5) rotate(-45) scale(0.88 1)" class="cl" font-size="8.68">Salinity_12hr</text>
<rect x="104.3" y="353.2" width="18.61" height="44.88" fill="rgb(0,0,0)"/>
<rect x="122.61" y="353.2" width="18.61" height="44.88" fill="rgb(115,0,0)"/>
<rect x="140.93" y="353.2" width="18.61" height="44.88" fill="rgb(191,0,0)"/>
<rect x="159.24" y="353.2" width="18.61" height="44.88" fill="rgb(255,0,0)"/>
<rect x="177.56" y="353.2" width="18.61" height="44.88" fill="rgb(0,0,0)"/>
<rect x="195.87" y="353.2" width="18.61" height="44.88" fill="rgb(102,0,0)"/>
<rect x="214.19" y="353.2" width="18.31" height="44.88" fill="rgb(255,0,0)"/>
<rect x="104.3" y="397.78" width="18.61" height="44.88" fill="rgb(0,0,0)"/>
<rect x="122.61" y="397.78" width="18.61" height="44.88" fill="rgb(0,0,0)"/>
<rect x="140.93" y="397.78" width="18.61" height="44.88" fill="rgb(115,0,0)"/>
<rect x="159.24" y="397.78" width="18.61" height="44.88" fill="rgb(115,0,0)"/>
<rect x="177.56" y="397.78" width="18.61" height="44.88" fill="rgb(0,0,0)"/>
<rect x="195.87" y="397.78" width="18.61" height="44.88" fill="rgb(0,0,0)"/>
<rect x="214.19" y="397.78" width="18.31" height="44.88" fill="rgb(115,0,0)"/>
<rect x="104.3" y="442.37" width="18.61" height="44.88" fill="rgb(0,0,0)"/>
<rect x="122.61" y="442.37" width="18.61" height="44.88" fill="rgb(0,0,0)"/>
<rect x="140.93" y="442.37" width="18.61" height="44.88" fill="rgb(0,0,0)"/>
<rect x="159.24" y="442.37" width="18.61" height="44.88" fill="rgb(115,0,0)"/>
<rect x="177.56" y="442.37" width="18.61" height="44.88" fill="rgb(0,0,0)"/>
<rect x="195.87" y="442.37" width="18.61" height="44.88" fill="rgb(0,0,0)"/>
<rect x="214.19" y="442.37" width="18.31" height="44.88" fill="rgb(115,0,0)"/>
<rect x="104.3" y="486.95" width="18.61" height="44.88" fill="rgb(0,0,0)"/>
<rect x="122.61" y="486.95" width="18.61" height="44.88" fill="rgb(0,0,0)"/>
<rect x="140.93" y="486.95" width="18.61" height="44.88" fill="rgb(0,0,0)"/>
<rect x="159.24" y="486.95" width="18.61" height="44.88" fill="rgb(0,0,0)"/>
<rect x="177.56" y="486.95" width="18.61" height="44.88" fill="rgb(0,0,0)"/>
<rect x="195.87" y="486.95" width="18.61" height="44.88" fill="rgb(0,102,0)"/>
<rect x="214.19" y="486.95" width="18.31" height="44.88" fill="rgb(0,0,0)"/>
<rect x="104.3" y="531.53" width="18.61" height="44.88" fill="rgb(0,0,0)"/>
<rect x="122.61" y="531.53" width="18.61" height="44.88" fill="rgb(115,0,0)"/>
<rect x="140.93" y="531.53" width="18.61" height="44.88" fill="rgb(0,0,0)"/>
<rect x="159.24" y="531.53" width="18.61" height="44.88" fill="rgb(0,115,0)"/>
<rect x="177.56" y="531.53" width="18.61" height="44.88" fill="rgb(115,0,0)"/>
<rect x="195.87" y="531.53" width="18.61" height="44.88" fill="rgb(191,0,0)"/>
<rect x="214.19" y="531.53" width="18.31" height="44.88" fill="rgb(0,102,0)"/>
<rect x="104.3" y="576.12" width="18.61" height="44.58" fill="rgb(0,0,0)"/>
<rect x="122.61" y="576.12" width="18.61" height="44.58" fill="rgb(0,0,0)"/>
<rect x="140.93" y="576.12" width="18.61" height="44.58" fill="rgb(0,102,0)"/>
<rect x="159.24" y="576.12" width="18.61" height="44.58" fill="rgb(0,115,0)"/>
<rect x="177.56" y="576.12" width="18.61" height="44.58" fill="rgb(0,178,0)"/>
<rect x="195.87" y="576.12" width="18.61" height="44.58" fill="rgb(0,178,0)"/>
<rect x="214.19" y="576.12" width="18.31" height="44.58" fill="rgb(0,178,0)"/>
<path d="M122.61 353.2V620.7M140.93 353.2V620.7M159.24 353.2V620.7M177.56 353.2V620.7M195.87 353.2V620.7M214.19 353.2V620.7M104.3 397.78H232.5M104.3 442.37H232.5M104.3 486.95H232.5M104.3 531.53H232.5M104.3 576.12H232.5" stroke="rgba(255,255,255,0.1)" stroke-width="0.8" fill="none"/>
<line x1="113.46" y1="353.2" x2="113.46" y2="397.78" stroke="rgb(80,195,195)" stroke-width="1.1" stroke-dasharray="3.8 2.45" stroke-dashoffset="2.35"/>
<line x1="113.46" y1="397.78" x2="113.46" y2="442.37" stroke="rgb(80,195,195)" stroke-width="1.1" stroke-dasharray="3.8 2.45" stroke-dashoffset="3.18"/>
<line x1="113.46" y1="442.37" x2="113.46" y2="486.95" stroke="rgb(80,195,195)" stroke-width="1.1" stroke-dasharray="3.8 2.45" stroke-dashoffset="4.02"/>
<line x1="113.46" y1="486.95" x2="113.46" y2="531.53" stroke="rgb(80,195,195)" stroke-width="1.1" stroke-dasharray="3.8 2.45" stroke-dashoffset="4.85"/>
<line x1="113.46" y1="531.53" x2="113.46" y2="576.12" stroke="rgb(80,195,195)" stroke-width="1.1" stroke-dasharray="3.8 2.45" stroke-dashoffset="5.68"/>
<line x1="113.46" y1="576.12" x2="113.46" y2="620.7" stroke="rgb(80,195,195)" stroke-width="1.1" stroke-dasharray="3.8 2.45" stroke-dashoffset="0.27"/>
<path d="M113.46 353.2V397.78H113.46" stroke="rgb(85,200,200)" stroke-width="1.1" fill="none"/>
<path d="M113.46 397.78V442.37H113.46" stroke="rgb(85,200,200)" stroke-width="1.1" fill="none"/>
<path d="M113.46 442.37V486.95H113.46" stroke="rgb(85,200,200)" stroke-width="1.1" fill="none"/>
<path d="M113.46 486.95V531.53H113.46" stroke="rgb(85,200,200)" stroke-width="1.1" fill="none"/>
<path d="M113.46 531.53V576.12H113.46" stroke="rgb(85,200,200)" stroke-width="1.1" fill="none"/>
<path d="M113.46 576.12V620.7" stroke="rgb(85,200,200)" stroke-width="1.1" fill="none"/>
<line x1="131.77" y1="353.2" x2="131.77" y2="397.78" stroke="rgb(200,196,190)" stroke-width="1.1" stroke-dasharray="3.8 2.45" stroke-dashoffset="2.35"/>
<line x1="131.77" y1="397.78" x2="131.77" y2="442.37" stroke="rgb(80,195,195)" stroke-width="1.1" stroke-dasharray="3.8 2.45" stroke-dashoffset="3.18"/>
<line x1="131.77" y1="442.37" x2="131.77" y2="486.95" stroke="rgb(80,195,195)" stroke-width="1.1" stroke-dasharray="3.8 2.45" stroke-dashoffset="4.02"/>
<line x1="131.77" y1="486.95" x2="131.77" y2="531.53" stroke="rgb(80,195,195)" stroke-width="1.1" stroke-dasharray="3.8 2.45" stroke-dashoffset="4.85"/>
<line x1="131.77" y1="531.53" x2="131.77" y2="576.12" stroke="rgb(200,196,190)" stroke-width="1.1" stroke-dasharray="3.8 2.45" stroke-dashoffset="5.68"/>
<line x1="131.77" y1="576.12" x2="131.77" y2="620.7" stroke="rgb(80,195,195)" stroke-width="1.1" stroke-dasharray="3.8 2.45" stroke-dashoffset="0.27"/>
<path d="M134.98 353.2V397.78H131.77" stroke="rgb(168,160,155)" stroke-width="1.1" fill="none"/>
<path d="M131.77 397.78V442.37H131.77" stroke="rgb(85,200,200)" stroke-width="1.1" fill="none"/>
<path d="M131.77 442.37V486.95H131.77" stroke="rgb(85,200,200)" stroke-width="1.1" fill="none"/>
<path d="M131.77 486.95V531.53H134.98" stroke="rgb(85,200,200)" stroke-width="1.1" fill="none"/>
<path d="M134.98 531.53V576.12H131.77" stroke="rgb(168,160,155)" stroke-width="1.1" fill="none"/>
<path d="M131.77 576.12V620.7" stroke="rgb(85,200,200)" stroke-width="1.1" fill="none"/>
<line x1="150.09" y1="353.2" x2="150.09" y2="397.78" stroke="rgb(238,182,182)" stroke-width="1.1" stroke-dasharray="3.8 2.45" stroke-dashoffset="2.35"/>
<line x1="150.09" y1="397.78" x2="150.09" y2="442.37" stroke="rgb(200,196,190)" stroke-width="1.1" stroke-dasharray="3.8 2.45" stroke-dashoffset="3.18"/>
<line x1="150.09" y1="442.37" x2="150.09" y2="486.95" stroke="rgb(80,195,195)" stroke-width="1.1" stroke-dasharray="3.8 2.45" stroke-dashoffset="4.02"/>
<line x1="150.09" y1="486.95" x2="150.09" y2="531.53" stroke="rgb(80,195,195)" stroke-width="1.1" stroke-dasharray="3.8 2.45" stroke-dashoffset="4.85"/>
<line x1="150.09" y1="531.53" x2="150.09" y2="576.12" stroke="rgb(80,195,195)" stroke-width="1.1" stroke-dasharray="3.8 2.45" stroke-dashoffset="5.68"/>
<line x1="150.09" y1="576.12" x2="150.09" y2="620.7" stroke="rgb(124,234,163)" stroke-width="1.1" stroke-dasharray="3.8 2.45" stroke-dashoffset="0.27"/>
<path d="M156.62 353.2V397.78H153.29" stroke="rgb(225,172,170)" stroke-width="1.1" fill="none"/>
<path d="M153.29 397.78V442.37H150.09" stroke="rgb(168,160,155)" stroke-width="1.1" fill="none"/>
<path d="M150.09 442.37V486.95H150.09" stroke="rgb(85,200,200)" stroke-width="1.1" fill="none"/>
<path d="M150.09 486.95V531.53H150.09" stroke="rgb(85,200,200)" stroke-width="1.1" fill="none"/>
<path d="M150.09 531.53V576.12H147.24" stroke="rgb(85,200,200)" stroke-width="1.1" fill="none"/>
<path d="M147.24 576.12V620.7" stroke="rgb(107,230,172)" stroke-width="1.1" fill="none"/>
<line x1="168.4" y1="353.2" x2="168.4" y2="397.78" stroke="rgb(255,140,140)" stroke-width="1.1" stroke-dasharray="3.8 2.45" stroke-dashoffset="2.35"/>
<line x1="168.4" y1="397.78" x2="168.4" y2="442.37" stroke="rgb(200,196,190)" stroke-width="1.1" stroke-dasharray="3.8 2.45" stroke-dashoffset="3.18"/>
<line x1="168.4" y1="442.37" x2="168.4" y2="486.95" stroke="rgb(200,196,190)" stroke-width="1.1" stroke-dasharray="3.8 2.45" stroke-dashoffset="4.02"/>
<line x1="168.4" y1="486.95" x2="168.4" y2="531.53" stroke="rgb(80,195,195)" stroke-width="1.1" stroke-dasharray="3.8 2.45" stroke-dashoffset="4.85"/>
<line x1="168.4" y1="531.53" x2="168.4" y2="576.12" stroke="rgb(130,240,160)" stroke-width="1.1" stroke-dasharray="3.8 2.45" stroke-dashoffset="5.68"/>
<line x1="168.4" y1="576.12" x2="168.4" y2="620.7" stroke="rgb(130,240,160)" stroke-width="1.1" stroke-dasharray="3.8 2.45" stroke-dashoffset="0.27"/>
<path d="M177.28 353.2V397.78H171.6" stroke="rgb(255,160,160)" stroke-width="1.1" fill="none"/>
<path d="M171.6 397.78V442.37H171.6" stroke="rgb(168,160,155)" stroke-width="1.1" fill="none"/>
<path d="M171.6 442.37V486.95H168.4" stroke="rgb(168,160,155)" stroke-width="1.1" fill="none"/>
<path d="M168.4 486.95V531.53H165.19" stroke="rgb(85,200,200)" stroke-width="1.1" fill="none"/>
<path d="M165.19 531.53V576.12H165.19" stroke="rgb(110,235,170)" stroke-width="1.1" fill="none"/>
<path d="M165.19 576.12V620.7" stroke="rgb(110,235,170)" stroke-width="1.1" fill="none"/>
<line x1="186.71" y1="353.2" x2="186.71" y2="397.78" stroke="rgb(80,195,195)" stroke-width="1.1" stroke-dasharray="3.8 2.45" stroke-dashoffset="2.35"/>
<line x1="186.71" y1="397.78" x2="186.71" y2="442.37" stroke="rgb(80,195,195)" stroke-width="1.1" stroke-dasharray="3.8 2.45" stroke-dashoffset="3.18"/>
<line x1="186.71" y1="442.37" x2="186.71" y2="486.95" stroke="rgb(80,195,195)" stroke-width="1.1" stroke-dasharray="3.8 2.45" stroke-dashoffset="4.02"/>
<line x1="186.71" y1="486.95" x2="186.71" y2="531.53" stroke="rgb(80,195,195)" stroke-width="1.1" stroke-dasharray="3.8 2.45" stroke-dashoffset="4.85"/>
<line x1="186.71" y1="531.53" x2="186.71" y2="576.12" stroke="rgb(200,196,190)" stroke-width="1.1" stroke-dasharray="3.8 2.45" stroke-dashoffset="5.68"/>
<line x1="186.71" y1="576.12" x2="186.71" y2="620.7" stroke="rgb(144,247,160)" stroke-width="1.1" stroke-dasharray="3.8 2.45" stroke-dashoffset="0.27"/>
<path d="M186.71 353.2V397.78H186.71" stroke="rgb(85,200,200)" stroke-width="1.1" fill="none"/>
<path d="M186.71 397.78V442.37H186.71" stroke="rgb(85,200,200)" stroke-width="1.1" fill="none"/>
<path d="M186.71 442.37V486.95H186.71" stroke="rgb(85,200,200)" stroke-width="1.1" fill="none"/>
<path d="M186.71 486.95V531.53H189.92" stroke="rgb(85,200,200)" stroke-width="1.1" fill="none"/>
<path d="M189.92 531.53V576.12H181.04" stroke="rgb(168,160,155)" stroke-width="1.1" fill="none"/>
<path d="M181.04 576.12V620.7" stroke="rgb(124,244,170)" stroke-width="1.1" fill="none"/>
<line x1="205.03" y1="353.2" x2="205.03" y2="397.78" stroke="rgb(185,193,188)" stroke-width="1.1" stroke-dasharray="3.8 2.45" stroke-dashoffset="2.35"/>
<line x1="205.03" y1="397.78" x2="205.03" y2="442.37" stroke="rgb(80,195,195)" stroke-width="1.1" stroke-dasharray="3.8 2.45" stroke-dashoffset="3.18"/>
<line x1="205.03" y1="442.37" x2="205.03" y2="486.95" stroke="rgb(80,195,195)" stroke-width="1.1" stroke-dasharray="3.8 2.45" stroke-dashoffset="4.02"/>
<line x1="205.03" y1="486.95" x2="205.03" y2="531.53" stroke="rgb(124,234,163)" stroke-width="1.1" stroke-dasharray="3.8 2.45" stroke-dashoffset="4.85"/>
<line x1="205.03" y1="531.53" x2="205.03" y2="576.12" stroke="rgb(238,182,182)" stroke-width="1.1" stroke-dasharray="3.8 2.45" stroke-dashoffset="5.68"/>
<line x1="205.03" y1="576.12" x2="205.03" y2="620.7" stroke="rgb(144,247,160)" stroke-width="1.1" stroke-dasharray="3.8 2.45" stroke-dashoffset="0.27"/>
<path d="M207.88 353.2V397.78H205.03" stroke="rgb(156,162,158)" stroke-width="1.1" fill="none"/>
<path d="M205.03 397.78V442.37H205.03" stroke="rgb(85,200,200)" stroke-width="1.1" fill="none"/>
<path d="M205.03 442.37V486.95H202.18" stroke="rgb(85,200,200)" stroke-width="1.1" fill="none"/>
<path d="M202.18 486.95V531.53H210.71" stroke="rgb(107,230,172)" stroke-width="1.1" fill="none"/>
<path d="M210.71 531.53V576.12H199.35" stroke="rgb(225,172,170)" stroke-width="1.1" fill="none"/>
<path d="M199.35 576.12V620.7" stroke="rgb(124,244,170)" stroke-width="1.1" fill="none"/>
<line x1="223.34" y1="353.2" x2="223.34" y2="397.78" stroke="rgb(255,140,140)" stroke-width="1.1" stroke-dasharray="3.8 2.45" stroke-dashoffset="2.35"/>
<line x1="223.34" y1="397.78" x2="223.34" y2="442.37" stroke="rgb(200,196,190)" stroke-width="1.1" stroke-dasharray="3.8 2.45" stroke-dashoffset="3.18"/>
<line x1="223.34" y1="442.37" x2="223.34" y2="486.95" stroke="rgb(200,196,190)" stroke-width="1.1" stroke-dasharray="3.8 2.45" stroke-dashoffset="4.02"/>
<line x1="223.34" y1="486.95" x2="223.34" y2="531.53" stroke="rgb(80,195,195)" stroke-width="1.1" stroke-dasharray="3.8 2.45" stroke-dashoffset="4.85"/>
<line x1="223.34" y1="531.53" x2="223.34" y2="576.12" stroke="rgb(124,234,163)" stroke-width="1.1" stroke-dasharray="3.8 2.45" stroke-dashoffset="5.68"/>
<line x1="223.34" y1="576.12" x2="223.34" y2="620.7" stroke="rgb(144,247,160)" stroke-width="1.1" stroke-dasharray="3.8 2.45" stroke-dashoffset="0.27"/>
<path d="M232.23 353.2V397.78H226.55" stroke="rgb(255,160,160)" stroke-width="1.1" fill="none"/>
<path d="M226.55 397.78V442.37H226.55" stroke="rgb(168,160,155)" stroke-width="1.1" fill="none"/>
<path d="M226.55 442.37V486.95H223.34" stroke="rgb(168,160,155)" stroke-width="1.1" fill="none"/>
<path d="M223.34 486.95V531.53H220.49" stroke="rgb(85,200,200)" stroke-width="1.1" fill="none"/>
<path d="M220.49 531.53V576.12H217.67" stroke="rgb(107,230,172)" stroke-width="1.1" fill="none"/>
<path d="M217.67 576.12V620.7" stroke="rgb(124,244,170)" stroke-width="1.1" fill="none"/>
<path d="M101 420.07H97.7V464.66H101M97.7 442.37H72V509.24H101M72 475.8H49.8V553.83H101M49.8 514.81H33.1V598.41H101M101 375.49H3.2V556.61H33.1" stroke="#2e2e2e" stroke-width="1.15" fill="none"/>
<text transform="translate(245.2 378.79) scale(0.88 1)" class="rl" font-size="9.15">GmSIP1;3</text>
<text transform="translate(245.2 423.37) scale(0.88 1)" class="rl" font-size="9.15">GmSIP1;6</text>
<text transform="translate(245.2 467.95) scale(0.88 1)" class="rl" font-size="9.15">GmSIP1;2</text>
<text transform="translate(245.2 512.54) scale(0.88 1)" class="rl" font-size="9.15">GmSIP1;5</text>
<text transform="translate(245.2 557.12) scale(0.88 1)" class="rl" font-size="9.15">GmSIP1;4</text>
<text transform="translate(245.2 601.7) scale(0.88 1)" class="rl" font-size="9.15">GmSIP1;1</text>
<text transform="translate(114.06 632.6) rotate(-45) scale(0.88 1)" class="cl" font-size="9.05">Control_0hr</text>
<text transform="translate(132.37 632.6) rotate(-45) scale(0.88 1)" class="cl" font-size="9.05">Dehydration_1hr</text>
<text transform="translate(150.69 632.6) rotate(-45) scale(0.88 1)" class="cl" font-size="9.05">Dehydration_6hr</text>
<text transform="translate(169 632.6) rotate(-45) scale(0.88 1)" class="cl" font-size="9.05">Dehydration_12hr</text>
<text transform="translate(187.31 632.6) rotate(-45) scale(0.88 1)" class="cl" font-size="9.05">Salinity_1hr</text>
<text transform="translate(205.63 632.6) rotate(-45) scale(0.88 1)" class="cl" font-size="9.05">Salinity_6hr</text>
<text transform="translate(223.94 632.6) rotate(-45) scale(0.88 1)" class="cl" font-size="9.05">Salinity_12hr</text>
<rect x="487.9" y="351.3" width="18.59" height="21" fill="rgb(0,0,0)"/>
<rect x="506.19" y="351.3" width="18.59" height="21" fill="rgb(191,0,0)"/>
<rect x="524.47" y="351.3" width="18.59" height="21" fill="rgb(102,0,0)"/>
<rect x="542.76" y="351.3" width="18.59" height="21" fill="rgb(102,0,0)"/>
<rect x="561.04" y="351.3" width="18.59" height="21" fill="rgb(191,0,0)"/>
<rect x="579.33" y="351.3" width="18.59" height="21" fill="rgb(115,0,0)"/>
<rect x="597.61" y="351.3" width="18.29" height="21" fill="rgb(0,0,0)"/>
<rect x="487.9" y="372" width="18.59" height="21" fill="rgb(0,0,0)"/>
<rect x="506.19" y="372" width="18.59" height="21" fill="rgb(115,0,0)"/>
<rect x="524.47" y="372" width="18.59" height="21" fill="rgb(0,0,0)"/>
<rect x="542.76" y="372" width="18.59" height="21" fill="rgb(102,0,0)"/>
<rect x="561.04" y="372" width="18.59" height="21" fill="rgb(115,0,0)"/>
<rect x="579.33" y="372" width="18.59" height="21" fill="rgb(102,0,0)"/>
<rect x="597.61" y="372" width="18.29" height="21" fill="rgb(0,0,0)"/>
<rect x="487.9" y="392.7" width="18.59" height="21" fill="rgb(0,0,0)"/>
<rect x="506.19" y="392.7" width="18.59" height="21" fill="rgb(115,0,0)"/>
<rect x="524.47" y="392.7" width="18.59" height="21" fill="rgb(191,0,0)"/>
<rect x="542.76" y="392.7" width="18.59" height="21" fill="rgb(191,0,0)"/>
<rect x="561.04" y="392.7" width="18.59" height="21" fill="rgb(115,0,0)"/>
<rect x="579.33" y="392.7" width="18.59" height="21" fill="rgb(115,0,0)"/>
<rect x="597.61" y="392.7" width="18.29" height="21" fill="rgb(255,0,0)"/>
<rect x="487.9" y="413.4" width="18.59" height="21" fill="rgb(0,0,0)"/>
<rect x="506.19" y="413.4" width="18.59" height="21" fill="rgb(0,0,0)"/>
<rect x="524.47" y="413.4" width="18.59" height="21" fill="rgb(0,0,0)"/>
<rect x="542.76" y="413.4" width="18.59" height="21" fill="rgb(0,0,0)"/>
<rect x="561.04" y="413.4" width="18.59" height="21" fill="rgb(0,0,0)"/>
<rect x="579.33" y="413.4" width="18.59" height="21" fill="rgb(242,0,0)"/>
<rect x="597.61" y="413.4" width="18.29" height="21" fill="rgb(191,0,0)"/>
<rect x="487.9" y="434.1" width="18.59" height="21" fill="rgb(0,0,0)"/>
<rect x="506.19" y="434.1" width="18.59" height="21" fill="rgb(0,0,0)"/>
<rect x="524.47" y="434.1" width="18.59" height="21" fill="rgb(102,0,0)"/>
<rect x="542.76" y="434.1" width="18.59" height="21" fill="rgb(102,0,0)"/>
<rect x="561.04" y="434.1" width="18.59" height="21" fill="rgb(0,115,0)"/>
<rect x="579.33" y="434.1" width="18.59" height="21" fill="rgb(0,0,0)"/>
<rect x="597.61" y="434.1" width="18.29" height="21" fill="rgb(0,0,0)"/>
<rect x="487.9" y="454.8" width="18.59" height="21" fill="rgb(0,0,0)"/>
<rect x="506.19" y="454.8" width="18.59" height="21" fill="rgb(0,199,0)"/>
<rect x="524.47" y="454.8" width="18.59" height="21" fill="rgb(0,0,0)"/>
<rect x="542.76" y="454.8" width="18.59" height="21" fill="rgb(0,0,0)"/>
<rect x="561.04" y="454.8" width="18.59" height="21" fill="rgb(0,115,0)"/>
<rect x="579.33" y="454.8" width="18.59" height="21" fill="rgb(0,0,0)"/>
<rect x="597.61" y="454.8" width="18.29" height="21" fill="rgb(191,0,0)"/>
<rect x="487.9" y="475.5" width="18.59" height="21" fill="rgb(0,0,0)"/>
<rect x="506.19" y="475.5" width="18.59" height="21" fill="rgb(0,115,0)"/>
<rect x="524.47" y="475.5" width="18.59" height="21" fill="rgb(0,0,0)"/>
<rect x="542.76" y="475.5" width="18.59" height="21" fill="rgb(0,0,0)"/>
<rect x="561.04" y="475.5" width="18.59" height="21" fill="rgb(0,115,0)"/>
<rect x="579.33" y="475.5" width="18.59" height="21" fill="rgb(0,0,0)"/>
<rect x="597.61" y="475.5" width="18.29" height="21" fill="rgb(0,0,0)"/>
<rect x="487.9" y="496.2" width="18.59" height="21" fill="rgb(0,0,0)"/>
<rect x="506.19" y="496.2" width="18.59" height="21" fill="rgb(0,0,0)"/>
<rect x="524.47" y="496.2" width="18.59" height="21" fill="rgb(0,0,0)"/>
<rect x="542.76" y="496.2" width="18.59" height="21" fill="rgb(0,0,0)"/>
<rect x="561.04" y="496.2" width="18.59" height="21" fill="rgb(0,0,0)"/>
<rect x="579.33" y="496.2" width="18.59" height="21" fill="rgb(0,0,0)"/>
<rect x="597.61" y="496.2" width="18.29" height="21" fill="rgb(0,0,0)"/>
<rect x="487.9" y="516.9" width="18.59" height="21" fill="rgb(0,0,0)"/>
<rect x="506.19" y="516.9" width="18.59" height="21" fill="rgb(0,0,0)"/>
<rect x="524.47" y="516.9" width="18.59" height="21" fill="rgb(0,0,0)"/>
<rect x="542.76" y="516.9" width="18.59" height="21" fill="rgb(0,0,0)"/>
<rect x="561.04" y="516.9" width="18.59" height="21" fill="rgb(0,0,0)"/>
<rect x="579.33" y="516.9" width="18.59" height="21" fill="rgb(0,0,0)"/>
<rect x="597.61" y="516.9" width="18.29" height="21" fill="rgb(0,0,0)"/>
<rect x="487.9" y="537.6" width="18.59" height="21" fill="rgb(0,0,0)"/>
<rect x="506.19" y="537.6" width="18.59" height="21" fill="rgb(0,0,0)"/>
<rect x="524.47" y="537.6" width="18.59" height="21" fill="rgb(0,115,0)"/>
<rect x="542.76" y="537.6" width="18.59" height="21" fill="rgb(0,115,0)"/>
<rect x="561.04" y="537.6" width="18.59" height="21" fill="rgb(0,115,0)"/>
<rect x="579.33" y="537.6" width="18.59" height="21" fill="rgb(0,102,0)"/>
<rect x="597.61" y="537.6" width="18.29" height="21" fill="rgb(0,0,0)"/>
<rect x="487.9" y="558.3" width="18.59" height="21" fill="rgb(0,0,0)"/>
<rect x="506.19" y="558.3" width="18.59" height="21" fill="rgb(115,0,0)"/>
<rect x="524.47" y="558.3" width="18.59" height="21" fill="rgb(0,242,0)"/>
<rect x="542.76" y="558.3" width="18.59" height="21" fill="rgb(0,166,0)"/>
<rect x="561.04" y="558.3" width="18.59" height="21" fill="rgb(0,166,0)"/>
<rect x="579.33" y="558.3" width="18.59" height="21" fill="rgb(0,115,0)"/>
<rect x="597.61" y="558.3" width="18.29" height="21" fill="rgb(0,242,0)"/>
<rect x="487.9" y="579" width="18.59" height="21" fill="rgb(0,0,0)"/>
<rect x="506.19" y="579" width="18.59" height="21" fill="rgb(0,166,0)"/>
<rect x="524.47" y="579" width="18.59" height="21" fill="rgb(0,255,0)"/>
<rect x="542.76" y="579" width="18.59" height="21" fill="rgb(0,255,0)"/>
<rect x="561.04" y="579" width="18.59" height="21" fill="rgb(0,166,0)"/>
<rect x="579.33" y="579" width="18.59" height="21" fill="rgb(191,0,0)"/>
<rect x="597.61" y="579" width="18.29" height="21" fill="rgb(0,0,0)"/>
<rect x="487.9" y="599.7" width="18.59" height="20.7" fill="rgb(0,0,0)"/>
<rect x="506.19" y="599.7" width="18.59" height="20.7" fill="rgb(0,255,0)"/>
<rect x="524.47" y="599.7" width="18.59" height="20.7" fill="rgb(0,255,0)"/>
<rect x="542.76" y="599.7" width="18.59" height="20.7" fill="rgb(0,255,0)"/>
<rect x="561.04" y="599.7" width="18.59" height="20.7" fill="rgb(0,255,0)"/>
<rect x="579.33" y="599.7" width="18.59" height="20.7" fill="rgb(0,115,0)"/>
<rect x="597.61" y="599.7" width="18.29" height="20.7" fill="rgb(0,0,0)"/>
<path d="M506.19 351.3V620.4M524.47 351.3V620.4M542.76 351.3V620.4M561.04 351.3V620.4M579.33 351.3V620.4M597.61 351.3V620.4M487.9 372H615.9M487.9 392.7H615.9M487.9 413.4H615.9M487.9 434.1H615.9M487.9 454.8H615.9M487.9 475.5H615.9M487.9 496.2H615.9M487.9 516.9H615.9M487.9 537.6H615.9M487.9 558.3H615.9M487.9 579H615.9M487.9 599.7H615.9" stroke="rgba(255,255,255,0.1)" stroke-width="0.8" fill="none"/>
<line x1="497.04" y1="351.3" x2="497.04" y2="372" stroke="rgb(80,195,195)" stroke-width="1.1" stroke-dasharray="3.8 2.45" stroke-dashoffset="3.05"/>
<line x1="497.04" y1="372" x2="497.04" y2="392.7" stroke="rgb(80,195,195)" stroke-width="1.1" stroke-dasharray="3.8 2.45" stroke-dashoffset="5"/>
<line x1="497.04" y1="392.7" x2="497.04" y2="413.4" stroke="rgb(80,195,195)" stroke-width="1.1" stroke-dasharray="3.8 2.45" stroke-dashoffset="0.7"/>
<line x1="497.04" y1="413.4" x2="497.04" y2="434.1" stroke="rgb(80,195,195)" stroke-width="1.1" stroke-dasharray="3.8 2.45" stroke-dashoffset="2.65"/>
<line x1="497.04" y1="434.1" x2="497.04" y2="454.8" stroke="rgb(80,195,195)" stroke-width="1.1" stroke-dasharray="3.8 2.45" stroke-dashoffset="4.6"/>
<line x1="497.04" y1="454.8" x2="497.04" y2="475.5" stroke="rgb(80,195,195)" stroke-width="1.1" stroke-dasharray="3.8 2.45" stroke-dashoffset="0.3"/>
<line x1="497.04" y1="475.5" x2="497.04" y2="496.2" stroke="rgb(80,195,195)" stroke-width="1.1" stroke-dasharray="3.8 2.45" stroke-dashoffset="2.25"/>
<line x1="497.04" y1="496.2" x2="497.04" y2="516.9" stroke="rgb(80,195,195)" stroke-width="1.1" stroke-dasharray="3.8 2.45" stroke-dashoffset="4.2"/>
<line x1="497.04" y1="516.9" x2="497.04" y2="537.6" stroke="rgb(80,195,195)" stroke-width="1.1" stroke-dasharray="3.8 2.45" stroke-dashoffset="6.15"/>
<line x1="497.04" y1="537.6" x2="497.04" y2="558.3" stroke="rgb(80,195,195)" stroke-width="1.1" stroke-dasharray="3.8 2.45" stroke-dashoffset="1.85"/>
<line x1="497.04" y1="558.3" x2="497.04" y2="579" stroke="rgb(80,195,195)" stroke-width="1.1" stroke-dasharray="3.8 2.45" stroke-dashoffset="3.8"/>
<line x1="497.04" y1="579" x2="497.04" y2="599.7" stroke="rgb(80,195,195)" stroke-width="1.1" stroke-dasharray="3.8 2.45" stroke-dashoffset="5.75"/>
<line x1="497.04" y1="599.7" x2="497.04" y2="620.4" stroke="rgb(80,195,195)" stroke-width="1.1" stroke-dasharray="3.8 2.45" stroke-dashoffset="1.45"/>
<path d="M497.04 351.3V372H497.04" stroke="rgb(85,200,200)" stroke-width="1.1" fill="none"/>
<path d="M497.04 372V392.7H497.04" stroke="rgb(85,200,200)" stroke-width="1.1" fill="none"/>
<path d="M497.04 392.7V413.4H497.04" stroke="rgb(85,200,200)" stroke-width="1.1" fill="none"/>
<path d="M497.04 413.4V434.1H497.04" stroke="rgb(85,200,200)" stroke-width="1.1" fill="none"/>
<path d="M497.04 434.1V454.8H497.04" stroke="rgb(85,200,200)" stroke-width="1.1" fill="none"/>
<path d="M497.04 454.8V475.5H497.04" stroke="rgb(85,200,200)" stroke-width="1.1" fill="none"/>
<path d="M497.04 475.5V496.2H497.04" stroke="rgb(85,200,200)" stroke-width="1.1" fill="none"/>
<path d="M497.04 496.2V516.9H497.04" stroke="rgb(85,200,200)" stroke-width="1.1" fill="none"/>
<path d="M497.04 516.9V537.6H497.04" stroke="rgb(85,200,200)" stroke-width="1.1" fill="none"/>
<path d="M497.04 537.6V558.3H497.04" stroke="rgb(85,200,200)" stroke-width="1.1" fill="none"/>
<path d="M497.04 558.3V579H497.04" stroke="rgb(85,200,200)" stroke-width="1.1" fill="none"/>
<path d="M497.04 579V599.7H497.04" stroke="rgb(85,200,200)" stroke-width="1.1" fill="none"/>
<path d="M497.04 599.7V620.4" stroke="rgb(85,200,200)" stroke-width="1.1" fill="none"/>
<line x1="515.33" y1="351.3" x2="515.33" y2="372" stroke="rgb(238,182,182)" stroke-width="1.1" stroke-dasharray="3.8 2.45" stroke-dashoffset="3.05"/>
<line x1="515.33" y1="372" x2="515.33" y2="392.7" stroke="rgb(200,196,190)" stroke-width="1.1" stroke-dasharray="3.8 2.45" stroke-dashoffset="5"/>
<line x1="515.33" y1="392.7" x2="515.33" y2="413.4" stroke="rgb(200,196,190)" stroke-width="1.1" stroke-dasharray="3.8 2.45" stroke-dashoffset="0.7"/>
<line x1="515.33" y1="413.4" x2="515.33" y2="434.1" stroke="rgb(80,195,195)" stroke-width="1.1" stroke-dasharray="3.8 2.45" stroke-dashoffset="2.65"/>
<line x1="515.33" y1="434.1" x2="515.33" y2="454.8" stroke="rgb(80,195,195)" stroke-width="1.1" stroke-dasharray="3.8 2.45" stroke-dashoffset="4.6"/>
<line x1="515.33" y1="454.8" x2="515.33" y2="475.5" stroke="rgb(148,249,160)" stroke-width="1.1" stroke-dasharray="3.8 2.45" stroke-dashoffset="0.3"/>
<line x1="515.33" y1="475.5" x2="515.33" y2="496.2" stroke="rgb(130,240,160)" stroke-width="1.1" stroke-dasharray="3.8 2.45" stroke-dashoffset="2.25"/>
<line x1="515.33" y1="496.2" x2="515.33" y2="516.9" stroke="rgb(80,195,195)" stroke-width="1.1" stroke-dasharray="3.8 2.45" stroke-dashoffset="4.2"/>
<line x1="515.33" y1="516.9" x2="515.33" y2="537.6" stroke="rgb(80,195,195)" stroke-width="1.1" stroke-dasharray="3.8 2.45" stroke-dashoffset="6.15"/>
<line x1="515.33" y1="537.6" x2="515.33" y2="558.3" stroke="rgb(80,195,195)" stroke-width="1.1" stroke-dasharray="3.8 2.45" stroke-dashoffset="1.85"/>
<line x1="515.33" y1="558.3" x2="515.33" y2="579" stroke="rgb(200,196,190)" stroke-width="1.1" stroke-dasharray="3.8 2.45" stroke-dashoffset="3.8"/>
<line x1="515.33" y1="579" x2="515.33" y2="599.7" stroke="rgb(141,245,160)" stroke-width="1.1" stroke-dasharray="3.8 2.45" stroke-dashoffset="5.75"/>
<line x1="515.33" y1="599.7" x2="515.33" y2="620.4" stroke="rgb(160,255,160)" stroke-width="1.1" stroke-dasharray="3.8 2.45" stroke-dashoffset="1.45"/>
<path d="M521 351.3V372H518.53" stroke="rgb(225,172,170)" stroke-width="1.1" fill="none"/>
<path d="M518.53 372V392.7H518.53" stroke="rgb(168,160,155)" stroke-width="1.1" fill="none"/>
<path d="M518.53 392.7V413.4H515.33" stroke="rgb(168,160,155)" stroke-width="1.1" fill="none"/>
<path d="M515.33 413.4V434.1H515.33" stroke="rgb(85,200,200)" stroke-width="1.1" fill="none"/>
<path d="M515.33 434.1V454.8H508.81" stroke="rgb(85,200,200)" stroke-width="1.1" fill="none"/>
<path d="M508.81 454.8V475.5H512.13" stroke="rgb(128,247,170)" stroke-width="1.1" fill="none"/>
<path d="M512.13 475.5V496.2H515.33" stroke="rgb(110,235,170)" stroke-width="1.1" fill="none"/>
<path d="M515.33 496.2V516.9H515.33" stroke="rgb(85,200,200)" stroke-width="1.1" fill="none"/>
<path d="M515.33 516.9V537.6H515.33" stroke="rgb(85,200,200)" stroke-width="1.1" fill="none"/>
<path d="M515.33 537.6V558.3H518.53" stroke="rgb(85,200,200)" stroke-width="1.1" fill="none"/>
<path d="M518.53 558.3V579H510.15" stroke="rgb(168,160,155)" stroke-width="1.1" fill="none"/>
<path d="M510.15 579V599.7H506.46" stroke="rgb(121,242,170)" stroke-width="1.1" fill="none"/>
<path d="M506.46 599.7V620.4" stroke="rgb(140,255,170)" stroke-width="1.1" fill="none"/>
<line x1="533.61" y1="351.3" x2="533.61" y2="372" stroke="rgb(185,193,188)" stroke-width="1.1" stroke-dasharray="3.8 2.45" stroke-dashoffset="3.05"/>
<line x1="533.61" y1="372" x2="533.61" y2="392.7" stroke="rgb(80,195,195)" stroke-width="1.1" stroke-dasharray="3.8 2.45" stroke-dashoffset="5"/>
<line x1="533.61" y1="392.7" x2="533.61" y2="413.4" stroke="rgb(238,182,182)" stroke-width="1.1" stroke-dasharray="3.8 2.45" stroke-dashoffset="0.7"/>
<line x1="533.61" y1="413.4" x2="533.61" y2="434.1" stroke="rgb(80,195,195)" stroke-width="1.1" stroke-dasharray="3.8 2.45" stroke-dashoffset="2.65"/>
<line x1="533.61" y1="434.1" x2="533.61" y2="454.8" stroke="rgb(185,193,188)" stroke-width="1.1" stroke-dasharray="3.8 2.45" stroke-dashoffset="4.6"/>
<line x1="533.61" y1="454.8" x2="533.61" y2="475.5" stroke="rgb(80,195,195)" stroke-width="1.1" stroke-dasharray="3.8 2.45" stroke-dashoffset="0.3"/>
<line x1="533.61" y1="475.5" x2="533.61" y2="496.2" stroke="rgb(80,195,195)" stroke-width="1.1" stroke-dasharray="3.8 2.45" stroke-dashoffset="2.25"/>
<line x1="533.61" y1="496.2" x2="533.61" y2="516.9" stroke="rgb(80,195,195)" stroke-width="1.1" stroke-dasharray="3.8 2.45" stroke-dashoffset="4.2"/>
<line x1="533.61" y1="516.9" x2="533.61" y2="537.6" stroke="rgb(80,195,195)" stroke-width="1.1" stroke-dasharray="3.8 2.45" stroke-dashoffset="6.15"/>
<line x1="533.61" y1="537.6" x2="533.61" y2="558.3" stroke="rgb(130,240,160)" stroke-width="1.1" stroke-dasharray="3.8 2.45" stroke-dashoffset="1.85"/>
<line x1="533.61" y1="558.3" x2="533.61" y2="579" stroke="rgb(157,254,160)" stroke-width="1.1" stroke-dasharray="3.8 2.45" stroke-dashoffset="3.8"/>
<line x1="533.61" y1="579" x2="533.61" y2="599.7" stroke="rgb(160,255,160)" stroke-width="1.1" stroke-dasharray="3.8 2.45" stroke-dashoffset="5.75"/>
<line x1="533.61" y1="599.7" x2="533.61" y2="620.4" stroke="rgb(160,255,160)" stroke-width="1.1" stroke-dasharray="3.8 2.45" stroke-dashoffset="1.45"/>
<path d="M536.46 351.3V372H533.61" stroke="rgb(156,162,158)" stroke-width="1.1" fill="none"/>
<path d="M533.61 372V392.7H538.79" stroke="rgb(85,200,200)" stroke-width="1.1" fill="none"/>
<path d="M538.79 392.7V413.4H533.61" stroke="rgb(225,172,170)" stroke-width="1.1" fill="none"/>
<path d="M533.61 413.4V434.1H536.46" stroke="rgb(85,200,200)" stroke-width="1.1" fill="none"/>
<path d="M536.46 434.1V454.8H533.61" stroke="rgb(156,162,158)" stroke-width="1.1" fill="none"/>
<path d="M533.61 454.8V475.5H533.61" stroke="rgb(85,200,200)" stroke-width="1.1" fill="none"/>
<path d="M533.61 475.5V496.2H533.61" stroke="rgb(85,200,200)" stroke-width="1.1" fill="none"/>
<path d="M533.61 496.2V516.9H533.61" stroke="rgb(85,200,200)" stroke-width="1.1" fill="none"/>
<path d="M533.61 516.9V537.6H530.41" stroke="rgb(85,200,200)" stroke-width="1.1" fill="none"/>
<path d="M530.41 537.6V558.3H525.28" stroke="rgb(110,235,170)" stroke-width="1.1" fill="none"/>
<path d="M525.28 558.3V579H524.75" stroke="rgb(137,253,170)" stroke-width="1.1" fill="none"/>
<path d="M524.75 579V599.7H524.75" stroke="rgb(140,255,170)" stroke-width="1.1" fill="none"/>
<path d="M524.75 599.7V620.4" stroke="rgb(140,255,170)" stroke-width="1.1" fill="none"/>
<line x1="551.9" y1="351.3" x2="551.9" y2="372" stroke="rgb(185,193,188)" stroke-width="1.1" stroke-dasharray="3.8 2.45" stroke-dashoffset="3.05"/>
<line x1="551.9" y1="372" x2="551.9" y2="392.7" stroke="rgb(185,193,188)" stroke-width="1.1" stroke-dasharray="3.8 2.45" stroke-dashoffset="5"/>
<line x1="551.9" y1="392.7" x2="551.9" y2="413.4" stroke="rgb(238,182,182)" stroke-width="1.1" stroke-dasharray="3.8 2.45" stroke-dashoffset="0.7"/>
<line x1="551.9" y1="413.4" x2="551.9" y2="434.1" stroke="rgb(80,195,195)" stroke-width="1.1" stroke-dasharray="3.8 2.45" stroke-dashoffset="2.65"/>
<line x1="551.9" y1="434.1" x2="551.9" y2="454.8" stroke="rgb(185,193,188)" stroke-width="1.1" stroke-dasharray="3.8 2.45" stroke-dashoffset="4.6"/>
<line x1="551.9" y1="454.8" x2="551.9" y2="475.5" stroke="rgb(80,195,195)" stroke-width="1.1" stroke-dasharray="3.8 2.45" stroke-dashoffset="0.3"/>
<line x1="551.9" y1="475.5" x2="551.9" y2="496.2" stroke="rgb(80,195,195)" stroke-width="1.1" stroke-dasharray="3.8 2.45" stroke-dashoffset="2.25"/>
<line x1="551.9" y1="496.2" x2="551.9" y2="516.9" stroke="rgb(80,195,195)" stroke-width="1.1" stroke-dasharray="3.8 2.45" stroke-dashoffset="4.2"/>
<line x1="551.9" y1="516.9" x2="551.9" y2="537.6" stroke="rgb(80,195,195)" stroke-width="1.1" stroke-dasharray="3.8 2.45" stroke-dashoffset="6.15"/>
<line x1="551.9" y1="537.6" x2="551.9" y2="558.3" stroke="rgb(130,240,160)" stroke-width="1.1" stroke-dasharray="3.8 2.45" stroke-dashoffset="1.85"/>
<line x1="551.9" y1="558.3" x2="551.9" y2="579" stroke="rgb(141,245,160)" stroke-width="1.1" stroke-dasharray="3.8 2.45" stroke-dashoffset="3.8"/>
<line x1="551.9" y1="579" x2="551.9" y2="599.7" stroke="rgb(160,255,160)" stroke-width="1.1" stroke-dasharray="3.8 2.45" stroke-dashoffset="5.75"/>
<line x1="551.9" y1="599.7" x2="551.9" y2="620.4" stroke="rgb(160,255,160)" stroke-width="1.1" stroke-dasharray="3.8 2.45" stroke-dashoffset="1.45"/>
<path d="M554.74 351.3V372H554.74" stroke="rgb(156,162,158)" stroke-width="1.1" fill="none"/>
<path d="M554.74 372V392.7H557.07" stroke="rgb(156,162,158)" stroke-width="1.1" fill="none"/>
<path d="M557.07 392.7V413.4H551.9" stroke="rgb(225,172,170)" stroke-width="1.1" fill="none"/>
<path d="M551.9 413.4V434.1H554.74" stroke="rgb(85,200,200)" stroke-width="1.1" fill="none"/>
<path d="M554.74 434.1V454.8H551.9" stroke="rgb(156,162,158)" stroke-width="1.1" fill="none"/>
<path d="M551.9 454.8V475.5H551.9" stroke="rgb(85,200,200)" stroke-width="1.1" fill="none"/>
<path d="M551.9 475.5V496.2H551.9" stroke="rgb(85,200,200)" stroke-width="1.1" fill="none"/>
<path d="M551.9 496.2V516.9H551.9" stroke="rgb(85,200,200)" stroke-width="1.1" fill="none"/>
<path d="M551.9 516.9V537.6H548.7" stroke="rgb(85,200,200)" stroke-width="1.1" fill="none"/>
<path d="M548.7 537.6V558.3H546.73" stroke="rgb(110,235,170)" stroke-width="1.1" fill="none"/>
<path d="M546.73 558.3V579H543.03" stroke="rgb(121,242,170)" stroke-width="1.1" fill="none"/>
<path d="M543.03 579V599.7H543.03" stroke="rgb(140,255,170)" stroke-width="1.1" fill="none"/>
<path d="M543.03 599.7V620.4" stroke="rgb(140,255,170)" stroke-width="1.1" fill="none"/>
<line x1="570.19" y1="351.3" x2="570.19" y2="372" stroke="rgb(238,182,182)" stroke-width="1.1" stroke-dasharray="3.8 2.45" stroke-dashoffset="3.05"/>
<line x1="570.19" y1="372" x2="570.19" y2="392.7" stroke="rgb(200,196,190)" stroke-width="1.1" stroke-dasharray="3.8 2.45" stroke-dashoffset="5"/>
<line x1="570.19" y1="392.7" x2="570.19" y2="413.4" stroke="rgb(200,196,190)" stroke-width="1.1" stroke-dasharray="3.8 2.45" stroke-dashoffset="0.7"/>
<line x1="570.19" y1="413.4" x2="570.19" y2="434.1" stroke="rgb(80,195,195)" stroke-width="1.1" stroke-dasharray="3.8 2.45" stroke-dashoffset="2.65"/>
<line x1="570.19" y1="434.1" x2="570.19" y2="454.8" stroke="rgb(130,240,160)" stroke-width="1.1" stroke-dasharray="3.8 2.45" stroke-dashoffset="4.6"/>
<line x1="570.19" y1="454.8" x2="570.19" y2="475.5" stroke="rgb(130,240,160)" stroke-width="1.1" stroke-dasharray="3.8 2.45" stroke-dashoffset="0.3"/>
<line x1="570.19" y1="475.5" x2="570.19" y2="496.2" stroke="rgb(130,240,160)" stroke-width="1.1" stroke-dasharray="3.8 2.45" stroke-dashoffset="2.25"/>
<line x1="570.19" y1="496.2" x2="570.19" y2="516.9" stroke="rgb(80,195,195)" stroke-width="1.1" stroke-dasharray="3.8 2.45" stroke-dashoffset="4.2"/>
<line x1="570.19" y1="516.9" x2="570.19" y2="537.6" stroke="rgb(80,195,195)" stroke-width="1.1" stroke-dasharray="3.8 2.45" stroke-dashoffset="6.15"/>
<line x1="570.19" y1="537.6" x2="570.19" y2="558.3" stroke="rgb(130,240,160)" stroke-width="1.1" stroke-dasharray="3.8 2.45" stroke-dashoffset="1.85"/>
<line x1="570.19" y1="558.3" x2="570.19" y2="579" stroke="rgb(141,245,160)" stroke-width="1.1" stroke-dasharray="3.8 2.45" stroke-dashoffset="3.8"/>
<line x1="570.19" y1="579" x2="570.19" y2="599.7" stroke="rgb(141,245,160)" stroke-width="1.1" stroke-dasharray="3.8 2.45" stroke-dashoffset="5.75"/>
<line x1="570.19" y1="599.7" x2="570.19" y2="620.4" stroke="rgb(160,255,160)" stroke-width="1.1" stroke-dasharray="3.8 2.45" stroke-dashoffset="1.45"/>
<path d="M574.87 351.3V372H573.39" stroke="rgb(225,172,170)" stroke-width="1.1" fill="none"/>
<path d="M573.39 372V392.7H573.39" stroke="rgb(168,160,155)" stroke-width="1.1" fill="none"/>
<path d="M573.39 392.7V413.4H570.19" stroke="rgb(168,160,155)" stroke-width="1.1" fill="none"/>
<path d="M570.19 413.4V434.1H566.99" stroke="rgb(85,200,200)" stroke-width="1.1" fill="none"/>
<path d="M566.99 434.1V454.8H566.99" stroke="rgb(110,235,170)" stroke-width="1.1" fill="none"/>
<path d="M566.99 454.8V475.5H566.99" stroke="rgb(110,235,170)" stroke-width="1.1" fill="none"/>
<path d="M566.99 475.5V496.2H570.19" stroke="rgb(110,235,170)" stroke-width="1.1" fill="none"/>
<path d="M570.19 496.2V516.9H570.19" stroke="rgb(85,200,200)" stroke-width="1.1" fill="none"/>
<path d="M570.19 516.9V537.6H566.99" stroke="rgb(85,200,200)" stroke-width="1.1" fill="none"/>
<path d="M566.99 537.6V558.3H565.01" stroke="rgb(110,235,170)" stroke-width="1.1" fill="none"/>
<path d="M565.01 558.3V579H565.01" stroke="rgb(121,242,170)" stroke-width="1.1" fill="none"/>
<path d="M565.01 579V599.7H561.32" stroke="rgb(121,242,170)" stroke-width="1.1" fill="none"/>
<path d="M561.32 599.7V620.4" stroke="rgb(140,255,170)" stroke-width="1.1" fill="none"/>
<line x1="588.47" y1="351.3" x2="588.47" y2="372" stroke="rgb(200,196,190)" stroke-width="1.1" stroke-dasharray="3.8 2.45" stroke-dashoffset="3.05"/>
<line x1="588.47" y1="372" x2="588.47" y2="392.7" stroke="rgb(185,193,188)" stroke-width="1.1" stroke-dasharray="3.8 2.45" stroke-dashoffset="5"/>
<line x1="588.47" y1="392.7" x2="588.47" y2="413.4" stroke="rgb(200,196,190)" stroke-width="1.1" stroke-dasharray="3.8 2.45" stroke-dashoffset="0.7"/>
<line x1="588.47" y1="413.4" x2="588.47" y2="434.1" stroke="rgb(252,148,148)" stroke-width="1.1" stroke-dasharray="3.8 2.45" stroke-dashoffset="2.65"/>
<line x1="588.47" y1="434.1" x2="588.47" y2="454.8" stroke="rgb(80,195,195)" stroke-width="1.1" stroke-dasharray="3.8 2.45" stroke-dashoffset="4.6"/>
<line x1="588.47" y1="454.8" x2="588.47" y2="475.5" stroke="rgb(80,195,195)" stroke-width="1.1" stroke-dasharray="3.8 2.45" stroke-dashoffset="0.3"/>
<line x1="588.47" y1="475.5" x2="588.47" y2="496.2" stroke="rgb(80,195,195)" stroke-width="1.1" stroke-dasharray="3.8 2.45" stroke-dashoffset="2.25"/>
<line x1="588.47" y1="496.2" x2="588.47" y2="516.9" stroke="rgb(80,195,195)" stroke-width="1.1" stroke-dasharray="3.8 2.45" stroke-dashoffset="4.2"/>
<line x1="588.47" y1="516.9" x2="588.47" y2="537.6" stroke="rgb(80,195,195)" stroke-width="1.1" stroke-dasharray="3.8 2.45" stroke-dashoffset="6.15"/>
<line x1="588.47" y1="537.6" x2="588.47" y2="558.3" stroke="rgb(124,234,163)" stroke-width="1.1" stroke-dasharray="3.8 2.45" stroke-dashoffset="1.85"/>
<line x1="588.47" y1="558.3" x2="588.47" y2="579" stroke="rgb(130,240,160)" stroke-width="1.1" stroke-dasharray="3.8 2.45" stroke-dashoffset="3.8"/>
<line x1="588.47" y1="579" x2="588.47" y2="599.7" stroke="rgb(238,182,182)" stroke-width="1.1" stroke-dasharray="3.8 2.45" stroke-dashoffset="5.75"/>
<line x1="588.47" y1="599.7" x2="588.47" y2="620.4" stroke="rgb(130,240,160)" stroke-width="1.1" stroke-dasharray="3.8 2.45" stroke-dashoffset="1.45"/>
<path d="M591.67 351.3V372H591.32" stroke="rgb(168,160,155)" stroke-width="1.1" fill="none"/>
<path d="M591.32 372V392.7H591.67" stroke="rgb(156,162,158)" stroke-width="1.1" fill="none"/>
<path d="M591.67 392.7V413.4H596.81" stroke="rgb(168,160,155)" stroke-width="1.1" fill="none"/>
<path d="M596.81 413.4V434.1H588.47" stroke="rgb(249,162,162)" stroke-width="1.1" fill="none"/>
<path d="M588.47 434.1V454.8H588.47" stroke="rgb(85,200,200)" stroke-width="1.1" fill="none"/>
<path d="M588.47 454.8V475.5H588.47" stroke="rgb(85,200,200)" stroke-width="1.1" fill="none"/>
<path d="M588.47 475.5V496.2H588.47" stroke="rgb(85,200,200)" stroke-width="1.1" fill="none"/>
<path d="M588.47 496.2V516.9H588.47" stroke="rgb(85,200,200)" stroke-width="1.1" fill="none"/>
<path d="M588.47 516.9V537.6H585.63" stroke="rgb(85,200,200)" stroke-width="1.1" fill="none"/>
<path d="M585.63 537.6V558.3H585.27" stroke="rgb(107,230,172)" stroke-width="1.1" fill="none"/>
<path d="M585.27 558.3V579H594.14" stroke="rgb(110,235,170)" stroke-width="1.1" fill="none"/>
<path d="M594.14 579V599.7H585.27" stroke="rgb(225,172,170)" stroke-width="1.1" fill="none"/>
<path d="M585.27 599.7V620.4" stroke="rgb(110,235,170)" stroke-width="1.1" fill="none"/>
<line x1="606.76" y1="351.3" x2="606.76" y2="372" stroke="rgb(80,195,195)" stroke-width="1.1" stroke-dasharray="3.8 2.45" stroke-dashoffset="3.05"/>
<line x1="606.76" y1="372" x2="606.76" y2="392.7" stroke="rgb(80,195,195)" stroke-width="1.1" stroke-dasharray="3.8 2.45" stroke-dashoffset="5"/>
<line x1="606.76" y1="392.7" x2="606.76" y2="413.4" stroke="rgb(255,140,140)" stroke-width="1.1" stroke-dasharray="3.8 2.45" stroke-dashoffset="0.7"/>
<line x1="606.76" y1="413.4" x2="606.76" y2="434.1" stroke="rgb(238,182,182)" stroke-width="1.1" stroke-dasharray="3.8 2.45" stroke-dashoffset="2.65"/>
<line x1="606.76" y1="434.1" x2="606.76" y2="454.8" stroke="rgb(80,195,195)" stroke-width="1.1" stroke-dasharray="3.8 2.45" stroke-dashoffset="4.6"/>
<line x1="606.76" y1="454.8" x2="606.76" y2="475.5" stroke="rgb(238,182,182)" stroke-width="1.1" stroke-dasharray="3.8 2.45" stroke-dashoffset="0.3"/>
<line x1="606.76" y1="475.5" x2="606.76" y2="496.2" stroke="rgb(80,195,195)" stroke-width="1.1" stroke-dasharray="3.8 2.45" stroke-dashoffset="2.25"/>
<line x1="606.76" y1="496.2" x2="606.76" y2="516.9" stroke="rgb(80,195,195)" stroke-width="1.1" stroke-dasharray="3.8 2.45" stroke-dashoffset="4.2"/>
<line x1="606.76" y1="516.9" x2="606.76" y2="537.6" stroke="rgb(80,195,195)" stroke-width="1.1" stroke-dasharray="3.8 2.45" stroke-dashoffset="6.15"/>
<line x1="606.76" y1="537.6" x2="606.76" y2="558.3" stroke="rgb(80,195,195)" stroke-width="1.1" stroke-dasharray="3.8 2.45" stroke-dashoffset="1.85"/>
<line x1="606.76" y1="558.3" x2="606.76" y2="579" stroke="rgb(157,254,160)" stroke-width="1.1" stroke-dasharray="3.8 2.45" stroke-dashoffset="3.8"/>
<line x1="606.76" y1="579" x2="606.76" y2="599.7" stroke="rgb(80,195,195)" stroke-width="1.1" stroke-dasharray="3.8 2.45" stroke-dashoffset="5.75"/>
<line x1="606.76" y1="599.7" x2="606.76" y2="620.4" stroke="rgb(80,195,195)" stroke-width="1.1" stroke-dasharray="3.8 2.45" stroke-dashoffset="1.45"/>
<path d="M606.76 351.3V372H606.76" stroke="rgb(85,200,200)" stroke-width="1.1" fill="none"/>
<path d="M606.76 372V392.7H615.63" stroke="rgb(85,200,200)" stroke-width="1.1" fill="none"/>
<path d="M615.63 392.7V413.4H612.43" stroke="rgb(255,160,160)" stroke-width="1.1" fill="none"/>
<path d="M612.43 413.4V434.1H606.76" stroke="rgb(225,172,170)" stroke-width="1.1" fill="none"/>
<path d="M606.76 434.1V454.8H612.43" stroke="rgb(85,200,200)" stroke-width="1.1" fill="none"/>
<path d="M612.43 454.8V475.5H606.76" stroke="rgb(225,172,170)" stroke-width="1.1" fill="none"/>
<path d="M606.76 475.5V496.2H606.76" stroke="rgb(85,200,200)" stroke-width="1.1" fill="none"/>
<path d="M606.76 496.2V516.9H606.76" stroke="rgb(85,200,200)" stroke-width="1.1" fill="none"/>
<path d="M606.76 516.9V537.6H606.76" stroke="rgb(85,200,200)" stroke-width="1.1" fill="none"/>
<path d="M606.76 537.6V558.3H598.42" stroke="rgb(85,200,200)" stroke-width="1.1" fill="none"/>
<path d="M598.42 558.3V579H606.76" stroke="rgb(137,253,170)" stroke-width="1.1" fill="none"/>
<path d="M606.76 579V599.7H606.76" stroke="rgb(85,200,200)" stroke-width="1.1" fill="none"/>
<path d="M606.76 599.7V620.4" stroke="rgb(85,200,200)" stroke-width="1.1" fill="none"/>
<path d="M483.7 361.65H467.6V382.35H483.7M467.6 372H458.1V403.05H483.7M458.1 387.52H442.5V423.75H483.7M483.7 465.15H462.7V485.85H483.7M483.7 444.45H450.1V475.5H462.7M483.7 506.55H471.6V527.25H483.7M471.6 516.9H460.8V547.95H483.7M450.1 459.98H441.4V532.42H460.8M442.5 405.64H423.1V496.2H441.4M483.7 589.35H450.6V610.05H483.7M483.7 568.65H431.2V599.7H450.6M423.1 450.92H385.9V584.17H431.2" stroke="#2e2e2e" stroke-width="1.15" fill="none"/>
<text transform="translate(629.1 364.84) scale(0.88 1)" class="rl" font-size="8.85">GmNIP7;1</text>
<text transform="translate(629.1 385.54) scale(0.88 1)" class="rl" font-size="8.85">GmNIP1;2</text>
<text transform="translate(629.1 406.24) scale(0.88 1)" class="rl" font-size="8.85">GmNIP1;5</text>
<text transform="translate(629.1 426.94) scale(0.88 1)" class="rl" font-size="8.85">GmNIP6;2</text>
<text transform="translate(629.1 447.64) scale(0.88 1)" class="rl" font-size="8.85">GmNIP1;4</text>
<text transform="translate(629.1 468.34) scale(0.88 1)" class="rl" font-size="8.85">GmNIP1;3</text>
<text transform="translate(629.1 489.04) scale(0.88 1)" class="rl" font-size="8.85">GmNIP1;1</text>
<text transform="translate(629.1 509.74) scale(0.88 1)" class="rl" font-size="8.85">GmNIP2;2</text>
<text transform="translate(629.1 530.44) scale(0.88 1)" class="rl" font-size="8.85">GmNIP6;1</text>
<text transform="translate(629.1 551.14) scale(0.88 1)" class="rl" font-size="8.85">GmNIP4;1</text>
<text transform="translate(629.1 571.84) scale(0.88 1)" class="rl" font-size="8.85">GmNIP7;2</text>
<text transform="translate(629.1 592.54) scale(0.88 1)" class="rl" font-size="8.85">GmNIP5;1</text>
<text transform="translate(629.1 613.24) scale(0.88 1)" class="rl" font-size="8.85">GmNIP2;1</text>
<text transform="translate(497.64 631.8) rotate(-45) scale(0.88 1)" class="cl" font-size="8.74">Control_0hr</text>
<text transform="translate(515.93 631.8) rotate(-45) scale(0.88 1)" class="cl" font-size="8.74">Dehydration_1hr</text>
<text transform="translate(534.21 631.8) rotate(-45) scale(0.88 1)" class="cl" font-size="8.74">Dehydration_6hr</text>
<text transform="translate(552.5 631.8) rotate(-45) scale(0.88 1)" class="cl" font-size="8.74">Dehydration_12hr</text>
<text transform="translate(570.79 631.8) rotate(-45) scale(0.88 1)" class="cl" font-size="8.74">Salinity_1hr</text>
<text transform="translate(589.07 631.8) rotate(-45) scale(0.88 1)" class="cl" font-size="8.74">Salinity_6hr</text>
<text transform="translate(607.36 631.8) rotate(-45) scale(0.88 1)" class="cl" font-size="8.74">Salinity_12hr</text>
<rect x="116" y="710.9" width="18.49" height="133.35" fill="rgb(0,0,0)"/>
<rect x="134.19" y="710.9" width="18.49" height="133.35" fill="rgb(0,0,0)"/>
<rect x="152.37" y="710.9" width="18.49" height="133.35" fill="rgb(102,0,0)"/>
<rect x="170.56" y="710.9" width="18.49" height="133.35" fill="rgb(171,0,0)"/>
<rect x="188.74" y="710.9" width="18.49" height="133.35" fill="rgb(0,0,0)"/>
<rect x="206.93" y="710.9" width="18.49" height="133.35" fill="rgb(255,0,0)"/>
<rect x="225.11" y="710.9" width="18.19" height="133.35" fill="rgb(255,0,0)"/>
<rect x="116" y="843.95" width="18.49" height="133.05" fill="rgb(0,0,0)"/>
<rect x="134.19" y="843.95" width="18.49" height="133.05" fill="rgb(0,0,0)"/>
<rect x="152.37" y="843.95" width="18.49" height="133.05" fill="rgb(0,0,0)"/>
<rect x="170.56" y="843.95" width="18.49" height="133.05" fill="rgb(0,0,0)"/>
<rect x="188.74" y="843.95" width="18.49" height="133.05" fill="rgb(0,0,0)"/>
<rect x="206.93" y="843.95" width="18.49" height="133.05" fill="rgb(0,0,0)"/>
<rect x="225.11" y="843.95" width="18.19" height="133.05" fill="rgb(0,0,0)"/>
<path d="M134.19 710.9V977M152.37 710.9V977M170.56 710.9V977M188.74 710.9V977M206.93 710.9V977M225.11 710.9V977M116 843.95H243.3" stroke="rgba(255,255,255,0.1)" stroke-width="0.8" fill="none"/>
<line x1="125.09" y1="710.9" x2="125.09" y2="843.95" stroke="rgb(80,195,195)" stroke-width="1.1" stroke-dasharray="3.8 2.45" stroke-dashoffset="2.85"/>
<line x1="125.09" y1="843.95" x2="125.09" y2="977" stroke="rgb(80,195,195)" stroke-width="1.1" stroke-dasharray="3.8 2.45" stroke-dashoffset="4.65"/>
<path d="M125.09 710.9V843.95H125.09" stroke="rgb(85,200,200)" stroke-width="1.1" fill="none"/>
<path d="M125.09 843.95V977" stroke="rgb(85,200,200)" stroke-width="1.1" fill="none"/>
<line x1="143.28" y1="710.9" x2="143.28" y2="843.95" stroke="rgb(80,195,195)" stroke-width="1.1" stroke-dasharray="3.8 2.45" stroke-dashoffset="2.85"/>
<line x1="143.28" y1="843.95" x2="143.28" y2="977" stroke="rgb(80,195,195)" stroke-width="1.1" stroke-dasharray="3.8 2.45" stroke-dashoffset="4.65"/>
<path d="M144.01 710.9V843.95H143.28" stroke="rgb(85,200,200)" stroke-width="1.1" fill="none"/>
<path d="M143.28 843.95V977" stroke="rgb(85,200,200)" stroke-width="1.1" fill="none"/>
<line x1="161.46" y1="710.9" x2="161.46" y2="843.95" stroke="rgb(185,193,188)" stroke-width="1.1" stroke-dasharray="3.8 2.45" stroke-dashoffset="2.85"/>
<line x1="161.46" y1="843.95" x2="161.46" y2="977" stroke="rgb(80,195,195)" stroke-width="1.1" stroke-dasharray="3.8 2.45" stroke-dashoffset="4.65"/>
<path d="M164.92 710.9V843.95H161.46" stroke="rgb(156,162,158)" stroke-width="1.1" fill="none"/>
<path d="M161.46 843.95V977" stroke="rgb(85,200,200)" stroke-width="1.1" fill="none"/>
<line x1="179.65" y1="710.9" x2="179.65" y2="843.95" stroke="rgb(228,186,184)" stroke-width="1.1" stroke-dasharray="3.8 2.45" stroke-dashoffset="2.85"/>
<line x1="179.65" y1="843.95" x2="179.65" y2="977" stroke="rgb(80,195,195)" stroke-width="1.1" stroke-dasharray="3.8 2.45" stroke-dashoffset="4.65"/>
<path d="M185.65 710.9V843.95H179.65" stroke="rgb(210,169,166)" stroke-width="1.1" fill="none"/>
<path d="M179.65 843.95V977" stroke="rgb(85,200,200)" stroke-width="1.1" fill="none"/>
<line x1="197.84" y1="710.9" x2="197.84" y2="843.95" stroke="rgb(80,195,195)" stroke-width="1.1" stroke-dasharray="3.8 2.45" stroke-dashoffset="2.85"/>
<line x1="197.84" y1="843.95" x2="197.84" y2="977" stroke="rgb(80,195,195)" stroke-width="1.1" stroke-dasharray="3.8 2.45" stroke-dashoffset="4.65"/>
<path d="M197.84 710.9V843.95H197.84" stroke="rgb(85,200,200)" stroke-width="1.1" fill="none"/>
<path d="M197.84 843.95V977" stroke="rgb(85,200,200)" stroke-width="1.1" fill="none"/>
<line x1="216.02" y1="710.9" x2="216.02" y2="843.95" stroke="rgb(255,140,140)" stroke-width="1.1" stroke-dasharray="3.8 2.45" stroke-dashoffset="2.85"/>
<line x1="216.02" y1="843.95" x2="216.02" y2="977" stroke="rgb(80,195,195)" stroke-width="1.1" stroke-dasharray="3.8 2.45" stroke-dashoffset="4.65"/>
<path d="M223.75 710.9V843.95H216.02" stroke="rgb(255,160,160)" stroke-width="1.1" fill="none"/>
<path d="M216.02 843.95V977" stroke="rgb(85,200,200)" stroke-width="1.1" fill="none"/>
<line x1="234.21" y1="710.9" x2="234.21" y2="843.95" stroke="rgb(255,140,140)" stroke-width="1.1" stroke-dasharray="3.8 2.45" stroke-dashoffset="2.85"/>
<line x1="234.21" y1="843.95" x2="234.21" y2="977" stroke="rgb(80,195,195)" stroke-width="1.1" stroke-dasharray="3.8 2.45" stroke-dashoffset="4.65"/>
<path d="M243.3 710.9V843.95H234.21" stroke="rgb(255,160,160)" stroke-width="1.1" fill="none"/>
<path d="M234.21 843.95V977" stroke="rgb(85,200,200)" stroke-width="1.1" fill="none"/>
<path d="M112.5 777.42H15.6V910.48H112.5" stroke="#2e2e2e" stroke-width="1.15" fill="none"/>
<text transform="translate(256.3 780.55) scale(0.88 1)" class="rl" font-size="8.68">GmXIP1;1</text>
<text transform="translate(256.3 913.6) scale(0.88 1)" class="rl" font-size="8.68">GmXIP1;2</text>
<text transform="translate(125.69 987.4) rotate(-45) scale(0.88 1)" class="cl" font-size="8.85">Control_0hr</text>
<text transform="translate(143.88 987.4) rotate(-45) scale(0.88 1)" class="cl" font-size="8.85">Dehydration_1hr</text>
<text transform="translate(162.06 987.4) rotate(-45) scale(0.88 1)" class="cl" font-size="8.85">Dehydration_6hr</text>
<text transform="translate(180.25 987.4) rotate(-45) scale(0.88 1)" class="cl" font-size="8.85">Dehydration_12hr</text>
<text transform="translate(198.44 987.4) rotate(-45) scale(0.88 1)" class="cl" font-size="8.85">Salinity_1hr</text>
<text transform="translate(216.62 987.4) rotate(-45) scale(0.88 1)" class="cl" font-size="8.85">Salinity_6hr</text>
<text transform="translate(234.81 987.4) rotate(-45) scale(0.88 1)" class="cl" font-size="8.85">Salinity_12hr</text>
</svg>
</body></html>
